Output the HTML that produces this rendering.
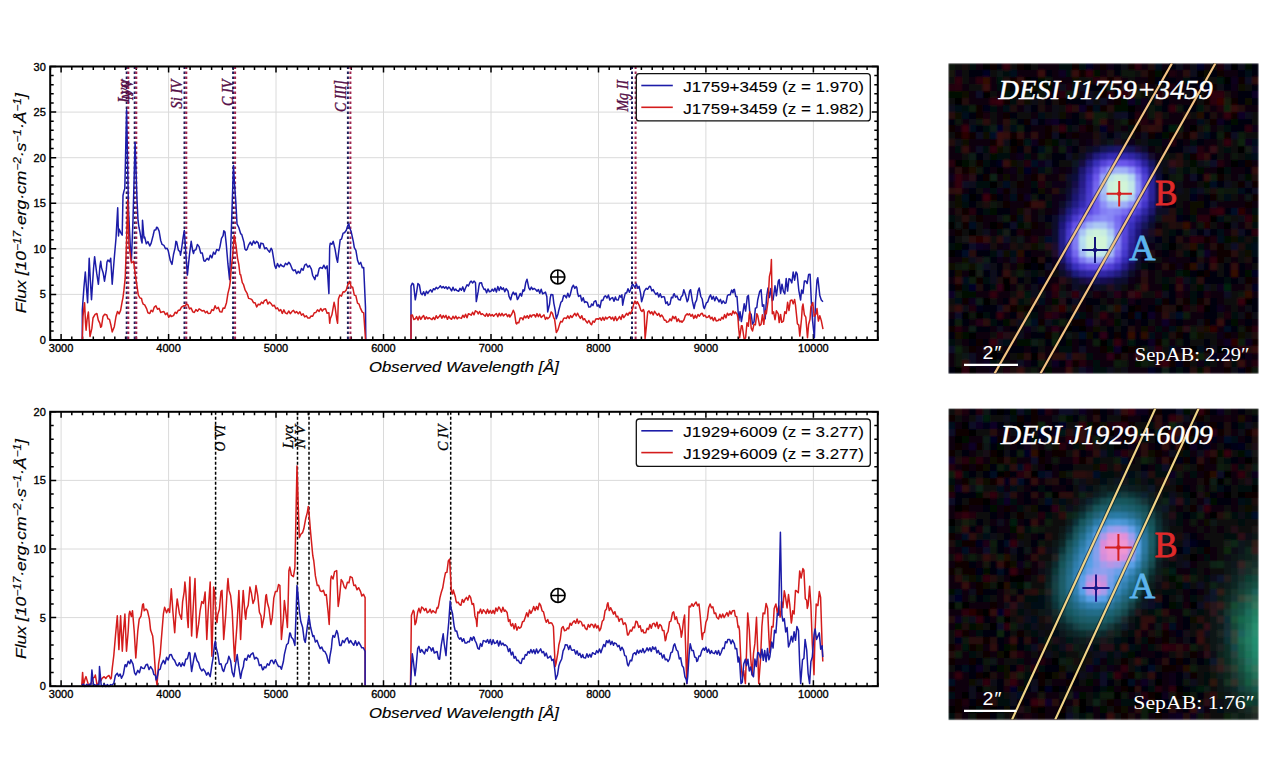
<!DOCTYPE html>
<html><head><meta charset="utf-8"><style>html,body{margin:0;padding:0;background:#fff;width:1280px;height:769px;overflow:hidden}svg{display:block}</style></head><body>
<svg width="1280" height="769" viewBox="0 0 1280 769">
<style>
.tl{font-family:"Liberation Sans",sans-serif;font-size:11px;fill:#000;stroke:#000;stroke-width:0.35px}
.lg{font-family:"Liberation Sans",sans-serif;font-size:14.7px;fill:#000;stroke:#000;stroke-width:0.1px}
.al{font-family:"Liberation Sans",sans-serif;font-size:14.7px;font-style:italic;fill:#000;stroke:#000;stroke-width:0.15px}
.ln{font-family:"Liberation Serif",serif;font-size:16px;font-style:italic;stroke:#560f48;stroke-width:0.35px}
.lb{font-family:"Liberation Serif",serif;font-size:14.5px;font-style:italic;fill:#000;stroke:#000;stroke-width:0.3px}
.it{font-family:"Liberation Serif",serif;font-style:italic;fill:#fff;stroke:#fff;stroke-width:0.4px}
.sf{font-family:"Liberation Serif",serif;fill:#fff}
</style>
<rect width="1280" height="769" fill="#fff"/>
<path d="M61.1 66.5V340.0M168.6 66.5V340.0M276 66.5V340.0M383.5 66.5V340.0M491 66.5V340.0M598.5 66.5V340.0M705.9 66.5V340.0M813.4 66.5V340.0M50.2 294.4H877.8M50.2 248.8H877.8M50.2 203.2H877.8M50.2 157.7H877.8M50.2 112.1H877.8" stroke="#dadada" stroke-width="1" fill="none"/>
<path d="M50.4 340.0v-3.5M50.4 66.5v3.5M61.1 340.0v-6M61.1 66.5v6M71.8 340.0v-3.5M71.8 66.5v3.5M82.6 340.0v-3.5M82.6 66.5v3.5M93.3 340.0v-3.5M93.3 66.5v3.5M104.1 340.0v-3.5M104.1 66.5v3.5M114.8 340.0v-3.5M114.8 66.5v3.5M125.6 340.0v-3.5M125.6 66.5v3.5M136.3 340.0v-3.5M136.3 66.5v3.5M147.1 340.0v-3.5M147.1 66.5v3.5M157.8 340.0v-3.5M157.8 66.5v3.5M168.6 340.0v-6M168.6 66.5v6M179.3 340.0v-3.5M179.3 66.5v3.5M190.1 340.0v-3.5M190.1 66.5v3.5M200.8 340.0v-3.5M200.8 66.5v3.5M211.6 340.0v-3.5M211.6 66.5v3.5M222.3 340.0v-3.5M222.3 66.5v3.5M233.1 340.0v-3.5M233.1 66.5v3.5M243.8 340.0v-3.5M243.8 66.5v3.5M254.5 340.0v-3.5M254.5 66.5v3.5M265.3 340.0v-3.5M265.3 66.5v3.5M276 340.0v-6M276 66.5v6M286.8 340.0v-3.5M286.8 66.5v3.5M297.5 340.0v-3.5M297.5 66.5v3.5M308.3 340.0v-3.5M308.3 66.5v3.5M319 340.0v-3.5M319 66.5v3.5M329.8 340.0v-3.5M329.8 66.5v3.5M340.5 340.0v-3.5M340.5 66.5v3.5M351.3 340.0v-3.5M351.3 66.5v3.5M362 340.0v-3.5M362 66.5v3.5M372.8 340.0v-3.5M372.8 66.5v3.5M383.5 340.0v-6M383.5 66.5v6M394.3 340.0v-3.5M394.3 66.5v3.5M405 340.0v-3.5M405 66.5v3.5M415.8 340.0v-3.5M415.8 66.5v3.5M426.5 340.0v-3.5M426.5 66.5v3.5M437.2 340.0v-3.5M437.2 66.5v3.5M448 340.0v-3.5M448 66.5v3.5M458.7 340.0v-3.5M458.7 66.5v3.5M469.5 340.0v-3.5M469.5 66.5v3.5M480.2 340.0v-3.5M480.2 66.5v3.5M491 340.0v-6M491 66.5v6M501.7 340.0v-3.5M501.7 66.5v3.5M512.5 340.0v-3.5M512.5 66.5v3.5M523.2 340.0v-3.5M523.2 66.5v3.5M534 340.0v-3.5M534 66.5v3.5M544.7 340.0v-3.5M544.7 66.5v3.5M555.5 340.0v-3.5M555.5 66.5v3.5M566.2 340.0v-3.5M566.2 66.5v3.5M577 340.0v-3.5M577 66.5v3.5M587.7 340.0v-3.5M587.7 66.5v3.5M598.5 340.0v-6M598.5 66.5v6M609.2 340.0v-3.5M609.2 66.5v3.5M619.9 340.0v-3.5M619.9 66.5v3.5M630.7 340.0v-3.5M630.7 66.5v3.5M641.4 340.0v-3.5M641.4 66.5v3.5M652.2 340.0v-3.5M652.2 66.5v3.5M662.9 340.0v-3.5M662.9 66.5v3.5M673.7 340.0v-3.5M673.7 66.5v3.5M684.4 340.0v-3.5M684.4 66.5v3.5M695.2 340.0v-3.5M695.2 66.5v3.5M705.9 340.0v-6M705.9 66.5v6M716.7 340.0v-3.5M716.7 66.5v3.5M727.4 340.0v-3.5M727.4 66.5v3.5M738.2 340.0v-3.5M738.2 66.5v3.5M748.9 340.0v-3.5M748.9 66.5v3.5M759.7 340.0v-3.5M759.7 66.5v3.5M770.4 340.0v-3.5M770.4 66.5v3.5M781.1 340.0v-3.5M781.1 66.5v3.5M791.9 340.0v-3.5M791.9 66.5v3.5M802.6 340.0v-3.5M802.6 66.5v3.5M813.4 340.0v-6M813.4 66.5v6M824.1 340.0v-3.5M824.1 66.5v3.5M834.9 340.0v-3.5M834.9 66.5v3.5M845.6 340.0v-3.5M845.6 66.5v3.5M856.4 340.0v-3.5M856.4 66.5v3.5M867.1 340.0v-3.5M867.1 66.5v3.5M877.9 340.0v-3.5M877.9 66.5v3.5M50.2 340h6M877.8 340h-6M50.2 330.9h3.5M877.8 330.9h-3.5M50.2 321.8h3.5M877.8 321.8h-3.5M50.2 312.6h3.5M877.8 312.6h-3.5M50.2 303.5h3.5M877.8 303.5h-3.5M50.2 294.4h6M877.8 294.4h-6M50.2 285.3h3.5M877.8 285.3h-3.5M50.2 276.2h3.5M877.8 276.2h-3.5M50.2 267.1h3.5M877.8 267.1h-3.5M50.2 257.9h3.5M877.8 257.9h-3.5M50.2 248.8h6M877.8 248.8h-6M50.2 239.7h3.5M877.8 239.7h-3.5M50.2 230.6h3.5M877.8 230.6h-3.5M50.2 221.5h3.5M877.8 221.5h-3.5M50.2 212.4h3.5M877.8 212.4h-3.5M50.2 203.2h6M877.8 203.2h-6M50.2 194.1h3.5M877.8 194.1h-3.5M50.2 185h3.5M877.8 185h-3.5M50.2 175.9h3.5M877.8 175.9h-3.5M50.2 166.8h3.5M877.8 166.8h-3.5M50.2 157.7h6M877.8 157.7h-6M50.2 148.5h3.5M877.8 148.5h-3.5M50.2 139.4h3.5M877.8 139.4h-3.5M50.2 130.3h3.5M877.8 130.3h-3.5M50.2 121.2h3.5M877.8 121.2h-3.5M50.2 112.1h6M877.8 112.1h-6M50.2 103h3.5M877.8 103h-3.5M50.2 93.8h3.5M877.8 93.8h-3.5M50.2 84.7h3.5M877.8 84.7h-3.5M50.2 75.6h3.5M877.8 75.6h-3.5M50.2 66.5h6M877.8 66.5h-6" stroke="#000" stroke-width="1.5" fill="none"/>
<text x="61.1" y="352" text-anchor="middle" class="tl">3000</text>
<text x="168.6" y="352" text-anchor="middle" class="tl">4000</text>
<text x="276" y="352" text-anchor="middle" class="tl">5000</text>
<text x="383.5" y="352" text-anchor="middle" class="tl">6000</text>
<text x="491" y="352" text-anchor="middle" class="tl">7000</text>
<text x="598.5" y="352" text-anchor="middle" class="tl">8000</text>
<text x="705.9" y="352" text-anchor="middle" class="tl">9000</text>
<text x="813.4" y="352" text-anchor="middle" class="tl">10000</text>
<text x="45.8" y="344" text-anchor="end" class="tl">0</text>
<text x="45.8" y="298.4" text-anchor="end" class="tl">5</text>
<text x="45.8" y="252.8" text-anchor="end" class="tl">10</text>
<text x="45.8" y="207.2" text-anchor="end" class="tl">15</text>
<text x="45.8" y="161.7" text-anchor="end" class="tl">20</text>
<text x="45.8" y="116.1" text-anchor="end" class="tl">25</text>
<text x="45.8" y="70.5" text-anchor="end" class="tl">30</text>
<path d="M61.1 411.8V686.2M168.6 411.8V686.2M276 411.8V686.2M383.5 411.8V686.2M491 411.8V686.2M598.5 411.8V686.2M705.9 411.8V686.2M813.4 411.8V686.2M50.2 617.6H877.8M50.2 549H877.8M50.2 480.4H877.8" stroke="#dadada" stroke-width="1" fill="none"/>
<path d="M50.4 686.2v-3.5M50.4 411.8v3.5M61.1 686.2v-6M61.1 411.8v6M71.8 686.2v-3.5M71.8 411.8v3.5M82.6 686.2v-3.5M82.6 411.8v3.5M93.3 686.2v-3.5M93.3 411.8v3.5M104.1 686.2v-3.5M104.1 411.8v3.5M114.8 686.2v-3.5M114.8 411.8v3.5M125.6 686.2v-3.5M125.6 411.8v3.5M136.3 686.2v-3.5M136.3 411.8v3.5M147.1 686.2v-3.5M147.1 411.8v3.5M157.8 686.2v-3.5M157.8 411.8v3.5M168.6 686.2v-6M168.6 411.8v6M179.3 686.2v-3.5M179.3 411.8v3.5M190.1 686.2v-3.5M190.1 411.8v3.5M200.8 686.2v-3.5M200.8 411.8v3.5M211.6 686.2v-3.5M211.6 411.8v3.5M222.3 686.2v-3.5M222.3 411.8v3.5M233.1 686.2v-3.5M233.1 411.8v3.5M243.8 686.2v-3.5M243.8 411.8v3.5M254.5 686.2v-3.5M254.5 411.8v3.5M265.3 686.2v-3.5M265.3 411.8v3.5M276 686.2v-6M276 411.8v6M286.8 686.2v-3.5M286.8 411.8v3.5M297.5 686.2v-3.5M297.5 411.8v3.5M308.3 686.2v-3.5M308.3 411.8v3.5M319 686.2v-3.5M319 411.8v3.5M329.8 686.2v-3.5M329.8 411.8v3.5M340.5 686.2v-3.5M340.5 411.8v3.5M351.3 686.2v-3.5M351.3 411.8v3.5M362 686.2v-3.5M362 411.8v3.5M372.8 686.2v-3.5M372.8 411.8v3.5M383.5 686.2v-6M383.5 411.8v6M394.3 686.2v-3.5M394.3 411.8v3.5M405 686.2v-3.5M405 411.8v3.5M415.8 686.2v-3.5M415.8 411.8v3.5M426.5 686.2v-3.5M426.5 411.8v3.5M437.2 686.2v-3.5M437.2 411.8v3.5M448 686.2v-3.5M448 411.8v3.5M458.7 686.2v-3.5M458.7 411.8v3.5M469.5 686.2v-3.5M469.5 411.8v3.5M480.2 686.2v-3.5M480.2 411.8v3.5M491 686.2v-6M491 411.8v6M501.7 686.2v-3.5M501.7 411.8v3.5M512.5 686.2v-3.5M512.5 411.8v3.5M523.2 686.2v-3.5M523.2 411.8v3.5M534 686.2v-3.5M534 411.8v3.5M544.7 686.2v-3.5M544.7 411.8v3.5M555.5 686.2v-3.5M555.5 411.8v3.5M566.2 686.2v-3.5M566.2 411.8v3.5M577 686.2v-3.5M577 411.8v3.5M587.7 686.2v-3.5M587.7 411.8v3.5M598.5 686.2v-6M598.5 411.8v6M609.2 686.2v-3.5M609.2 411.8v3.5M619.9 686.2v-3.5M619.9 411.8v3.5M630.7 686.2v-3.5M630.7 411.8v3.5M641.4 686.2v-3.5M641.4 411.8v3.5M652.2 686.2v-3.5M652.2 411.8v3.5M662.9 686.2v-3.5M662.9 411.8v3.5M673.7 686.2v-3.5M673.7 411.8v3.5M684.4 686.2v-3.5M684.4 411.8v3.5M695.2 686.2v-3.5M695.2 411.8v3.5M705.9 686.2v-6M705.9 411.8v6M716.7 686.2v-3.5M716.7 411.8v3.5M727.4 686.2v-3.5M727.4 411.8v3.5M738.2 686.2v-3.5M738.2 411.8v3.5M748.9 686.2v-3.5M748.9 411.8v3.5M759.7 686.2v-3.5M759.7 411.8v3.5M770.4 686.2v-3.5M770.4 411.8v3.5M781.1 686.2v-3.5M781.1 411.8v3.5M791.9 686.2v-3.5M791.9 411.8v3.5M802.6 686.2v-3.5M802.6 411.8v3.5M813.4 686.2v-6M813.4 411.8v6M824.1 686.2v-3.5M824.1 411.8v3.5M834.9 686.2v-3.5M834.9 411.8v3.5M845.6 686.2v-3.5M845.6 411.8v3.5M856.4 686.2v-3.5M856.4 411.8v3.5M867.1 686.2v-3.5M867.1 411.8v3.5M877.9 686.2v-3.5M877.9 411.8v3.5M50.2 686.2h6M877.8 686.2h-6M50.2 672.5h3.5M877.8 672.5h-3.5M50.2 658.8h3.5M877.8 658.8h-3.5M50.2 645h3.5M877.8 645h-3.5M50.2 631.3h3.5M877.8 631.3h-3.5M50.2 617.6h6M877.8 617.6h-6M50.2 603.9h3.5M877.8 603.9h-3.5M50.2 590.2h3.5M877.8 590.2h-3.5M50.2 576.4h3.5M877.8 576.4h-3.5M50.2 562.7h3.5M877.8 562.7h-3.5M50.2 549h6M877.8 549h-6M50.2 535.3h3.5M877.8 535.3h-3.5M50.2 521.6h3.5M877.8 521.6h-3.5M50.2 507.8h3.5M877.8 507.8h-3.5M50.2 494.1h3.5M877.8 494.1h-3.5M50.2 480.4h6M877.8 480.4h-6M50.2 466.7h3.5M877.8 466.7h-3.5M50.2 453h3.5M877.8 453h-3.5M50.2 439.2h3.5M877.8 439.2h-3.5M50.2 425.5h3.5M877.8 425.5h-3.5M50.2 411.8h6M877.8 411.8h-6" stroke="#000" stroke-width="1.5" fill="none"/>
<text x="61.1" y="698.2" text-anchor="middle" class="tl">3000</text>
<text x="168.6" y="698.2" text-anchor="middle" class="tl">4000</text>
<text x="276" y="698.2" text-anchor="middle" class="tl">5000</text>
<text x="383.5" y="698.2" text-anchor="middle" class="tl">6000</text>
<text x="491" y="698.2" text-anchor="middle" class="tl">7000</text>
<text x="598.5" y="698.2" text-anchor="middle" class="tl">8000</text>
<text x="705.9" y="698.2" text-anchor="middle" class="tl">9000</text>
<text x="813.4" y="698.2" text-anchor="middle" class="tl">10000</text>
<text x="45.8" y="690.2" text-anchor="end" class="tl">0</text>
<text x="45.8" y="621.6" text-anchor="end" class="tl">5</text>
<text x="45.8" y="553" text-anchor="end" class="tl">10</text>
<text x="45.8" y="484.4" text-anchor="end" class="tl">15</text>
<text x="45.8" y="415.8" text-anchor="end" class="tl">20</text>
<path d="M126.7 66.5V340.0" stroke="#1e1e5a" stroke-width="2" stroke-dasharray="2.5 2.5" fill="none"/>
<path d="M128.3 66.5V340.0" stroke="#a0244e" stroke-width="2" stroke-dasharray="2.5 2.5" fill="none"/>
<path d="M134.7 66.5V340.0" stroke="#1e1e5a" stroke-width="2" stroke-dasharray="2.5 2.5" fill="none"/>
<path d="M136.3 66.5V340.0" stroke="#a0244e" stroke-width="2" stroke-dasharray="2.5 2.5" fill="none"/>
<path d="M184.5 66.5V340.0" stroke="#1e1e5a" stroke-width="2" stroke-dasharray="2.5 2.5" fill="none"/>
<path d="M186.3 66.5V340.0" stroke="#a0244e" stroke-width="2" stroke-dasharray="2.5 2.5" fill="none"/>
<path d="M233.1 66.5V340.0" stroke="#1e1e5a" stroke-width="2" stroke-dasharray="2.5 2.5" fill="none"/>
<path d="M235.1 66.5V340.0" stroke="#a0244e" stroke-width="2" stroke-dasharray="2.5 2.5" fill="none"/>
<path d="M347.9 66.5V340.0" stroke="#1e1e5a" stroke-width="2" stroke-dasharray="2.5 2.5" fill="none"/>
<path d="M350.4 66.5V340.0" stroke="#a0244e" stroke-width="2" stroke-dasharray="2.5 2.5" fill="none"/>
<path d="M632 66.5V340.0" stroke="#1e1e5a" stroke-width="2" stroke-dasharray="2.5 2.5" fill="none"/>
<path d="M635.6 66.5V340.0" stroke="#a0244e" stroke-width="2" stroke-dasharray="2.5 2.5" fill="none"/>
<path d="M215.6 411.8V686.2" stroke="#000" stroke-width="1.5" stroke-dasharray="3 2" fill="none"/>
<path d="M297.5 411.8V686.2" stroke="#000" stroke-width="1.5" stroke-dasharray="3 2" fill="none"/>
<path d="M309 411.8V686.2" stroke="#000" stroke-width="1.5" stroke-dasharray="3 2" fill="none"/>
<path d="M450.7 411.8V686.2" stroke="#000" stroke-width="1.5" stroke-dasharray="3 2" fill="none"/>
<path d="M82.3 339.5 82.3 310.4 83.9 287.9 85.3 272.0 87.6 302.7 89.2 258.2 90.3 279.5 91.5 299.7 93.5 269.0 94.6 256.7 96.7 273.2 98.4 284.3 99.9 266.7 100.7 261.3 101.5 267.6 103.1 272.7 104.5 281.2 106.3 269.9 107.0 262.0 107.9 260.0 109.5 261.7 110.7 258.2 112.2 284.3 114.3 257.7 116.0 238.3 117.7 207.8 118.5 236.0 119.1 229.1 120.7 232.6 122.2 235.2 123.0 195.5 123.9 191.4 124.8 188.4 125.5 158.7 126.6 109.7 128.5 210.0 130.5 250.0 131.4 261.3 133.0 220.0 135.1 142.4 137.0 200.0 138.0 220.2 139.0 227.5 139.9 231.6 141.5 241.0 142.1 242.9 142.5 220.2 144.0 238.0 144.7 237.1 146.3 243.7 147.9 241.6 149.8 246.0 151.1 243.4 153.0 236.0 154.3 230.3 155.9 229.7 156.6 227.3 157.5 227.5 159.1 231.1 160.7 240.5 162.1 244.4 163.9 245.3 165.5 248.7 167.1 248.2 168.2 250.6 170.3 260.5 172.0 264.4 173.5 254.5 175.1 247.8 175.9 241.3 176.7 241.8 178.3 249.9 179.9 251.7 180.5 255.2 181.5 249.5 183.1 237.6 184.3 230.6 186.3 260.4 187.4 275.1 189.5 254.4 191.2 241.3 192.7 250.8 193.5 253.6 194.3 250.5 195.9 249.7 197.4 244.4 199.1 246.6 200.7 253.0 202.3 253.1 203.9 260.9 205.0 261.3 207.1 258.4 208.7 260.0 210.3 255.2 211.9 257.9 213.5 252.1 214.2 253.6 215.1 254.2 216.7 249.4 218.8 250.6 219.9 247.1 221.5 238.4 223.1 235.7 223.8 230.8 225.0 232.1 226.3 244.6 227.9 263.7 229.6 279.7 231.5 225.0 232.7 188.5 233.5 165.4 234.3 180.7 235.9 203.3 237.0 223.8 238.8 227.5 240.7 233.8 241.7 234.4 243.9 242.1 244.9 249.0 246.1 250.1 247.1 249.3 248.7 244.8 250.3 242.1 251.9 245.2 253.5 241.0 255.1 243.6 256.6 241.4 258.3 243.1 259.2 247.5 259.9 248.2 260.9 243.1 263.1 243.7 264.7 248.8 266.3 247.7 267.9 250.1 269.5 252.1 271.1 248.2 272.2 250.1 274.8 265.8 275.9 268.4 277.5 263.5 279.1 267.0 280.7 264.4 281.8 265.8 283.9 266.7 285.5 263.3 287.1 264.7 288.8 262.3 290.3 264.3 292.3 269.2 293.5 270.7 295.1 269.9 296.7 273.6 298.3 271.3 299.2 272.7 299.9 273.0 301.5 268.4 303.1 270.2 304.7 265.1 306.2 264.0 307.9 267.2 309.5 265.6 311.4 269.2 312.7 275.5 314.9 279.7 315.9 275.2 317.5 276.0 319.1 268.8 320.2 267.5 322.3 268.4 323.9 265.2 325.5 268.6 327.1 265.8 328.9 293.6 329.7 246.6 330.3 243.2 331.9 244.3 333.2 241.4 335.1 249.4 336.7 259.1 337.6 262.3 338.3 255.1 340.2 239.6 341.5 239.1 343.1 233.1 344.5 232.7 346.3 230.3 347.9 225.2 348.9 223.9 349.5 227.8 351.1 231.3 353.3 241.4 354.3 247.6 355.9 250.4 357.6 260.5 359.1 264.2 360.7 262.4 362.3 267.7 363.7 267.5 365.5 307.6 365.8 339.5" stroke="#1c1ca8" stroke-width="1.5" fill="none" stroke-linejoin="round"/>
<path d="M411.0 339.5 411.0 286.1 412.4 283.2 413.6 284.4 415.3 299.8 416.6 292.4 417.9 283.5 419.4 285.0 420.8 293.2 422.2 294.7 423.6 291.7 425.0 295.5 426.4 291.2 427.8 293.4 429.1 291.3 430.6 289.8 432.0 292.0 433.4 288.7 434.8 289.7 436.2 287.3 437.6 288.7 439.4 287.0 440.4 285.8 441.8 287.9 443.2 286.6 444.6 288.3 446.0 286.7 447.4 289.0 448.8 287.0 449.7 287.8 451.6 290.9 453.0 287.2 454.4 290.5 455.8 289.0 456.6 290.4 458.6 291.3 460.0 288.4 461.4 290.3 462.8 286.9 464.2 291.5 465.2 288.7 467.0 284.7 468.4 286.0 470.3 281.8 471.2 281.1 472.6 283.0 474.0 281.1 475.5 282.7 476.3 301.6 478.2 291.4 478.9 286.1 479.6 282.9 481.5 282.7 482.4 286.0 484.1 289.5 485.2 289.1 486.6 292.7 488.0 288.9 489.4 291.8 490.9 291.3 492.2 289.2 493.6 291.1 495.0 288.2 496.4 292.0 497.8 286.6 499.2 290.5 500.6 286.9 501.3 287.8 502.0 289.5 503.4 287.9 504.8 291.8 506.2 288.6 508.1 291.3 509.0 296.4 510.7 299.8 511.8 295.2 513.3 292.1 514.6 294.7 516.0 293.0 517.4 299.5 518.4 298.1 520.2 293.4 521.6 296.1 523.0 289.8 523.6 291.3 524.4 290.5 525.8 282.4 527.0 279.2 528.8 287.8 530.0 289.8 531.4 287.1 532.8 289.5 534.2 288.4 535.6 289.5 537.0 291.3 538.4 289.5 539.8 293.2 541.2 289.3 542.6 293.9 544.2 293.0 545.4 292.1 546.8 296.4 547.7 311.9 549.6 304.0 550.2 298.1 551.0 294.5 552.8 294.7 553.8 303.1 554.5 306.7 555.2 310.3 556.3 318.8 558.0 314.0 558.8 310.2 560.8 302.6 561.4 301.6 562.2 301.2 563.6 295.8 564.8 295.5 566.4 297.9 567.8 293.2 569.2 297.1 570.0 295.5 572.0 287.5 573.4 285.2 574.8 288.4 576.2 286.5 576.9 287.8 577.6 293.3 578.6 296.4 580.4 295.3 581.8 301.0 583.2 297.8 584.6 302.5 585.5 301.6 587.4 302.5 588.8 307.1 590.6 306.7 591.6 303.9 593.0 305.4 594.1 301.6 595.8 300.8 597.2 306.1 598.6 304.7 599.2 306.7 600.0 307.6 601.4 300.3 602.8 300.6 604.4 296.4 605.6 295.8 607.0 298.0 608.4 295.0 609.8 300.0 611.3 298.1 612.6 297.6 614.0 301.3 615.4 296.9 616.4 299.8 618.2 300.1 619.6 295.6 621.0 297.3 621.9 294.8 622.7 305.2 623.8 299.2 625.3 293.1 626.6 292.9 628.0 288.8 629.4 292.3 630.5 289.7 632.2 284.5 633.0 284.5 635.0 287.6 636.4 284.0 637.8 288.3 639.1 286.3 640.6 293.3 641.6 301.7 643.4 295.6 644.2 291.4 646.2 288.3 647.6 289.3 649.4 286.3 650.4 286.4 651.8 290.9 653.2 289.6 654.5 292.3 656.0 294.5 657.4 292.8 658.8 296.9 660.2 293.8 661.6 297.4 663.1 296.6 664.4 297.0 665.8 303.5 667.2 301.9 668.3 305.2 670.0 304.2 671.4 297.3 672.8 297.7 673.4 294.8 674.2 293.7 675.6 297.1 677.0 296.0 678.4 299.6 680.3 300.0 681.2 296.7 682.6 295.4 683.8 289.7 685.4 294.4 687.2 301.7 688.2 299.7 689.6 291.2 690.6 289.7 692.4 301.2 694.1 308.6 695.2 302.9 696.6 300.2 698.0 291.1 699.2 288.0 700.8 296.5 702.2 299.0 703.6 307.2 704.4 308.6 706.4 302.8 707.8 301.8 709.5 296.6 710.6 294.9 712.0 299.2 713.4 296.4 714.8 300.8 716.2 296.8 718.1 300.0 719.0 302.0 720.4 299.3 721.8 303.5 723.2 300.9 725.0 303.4 726.0 302.9 727.4 295.8 728.4 294.8 730.2 294.7 731.6 290.1 733.0 292.8 733.6 289.7 734.4 289.3 735.8 296.5 737.0 296.6 738.8 320.6 740.0 311.7 741.4 321.6 742.2 317.2 744.2 303.8 745.6 311.1 747.3 296.6 748.4 295.4 749.8 312.6 751.2 314.5 752.5 324.1 754.0 321.8 755.4 308.2 756.8 307.6 757.7 300.0 759.6 291.8 761.1 289.7 762.4 306.2 763.8 304.8 764.5 317.2 765.2 318.7 766.6 296.8 768.0 288.0 769.4 297.6 770.8 288.6 772.2 300.7 773.1 300.0 775.0 285.8 776.4 295.8 778.3 281.1 779.2 279.6 780.6 293.5 782.0 284.2 783.4 291.4 784.8 293.9 786.2 278.6 787.6 291.1 789.0 278.7 790.3 279.4 791.8 282.9 793.2 272.1 794.6 280.2 796.0 271.9 797.2 274.2 798.8 290.3 800.6 300.0 801.6 290.0 803.0 293.4 804.4 280.9 805.8 281.1 807.2 283.5 808.6 274.5 810.1 274.2 811.4 303.0 812.5 320.0 814.4 337.8 815.5 301.7 817.0 280.3 817.8 277.7 819.8 295.5 821.3 300.0 823.0 301.7" stroke="#1c1ca8" stroke-width="1.5" fill="none" stroke-linejoin="round"/>
<path d="M82.3 339.5 83.0 316.5 83.9 307.7 84.6 302.7 85.5 322.7 86.1 330.3 87.1 319.4 88.4 312.0 90.0 336.5 91.9 328.2 93.0 318.0 95.1 314.4 96.9 313.5 98.3 320.2 99.9 323.4 100.7 327.3 101.5 326.5 103.0 316.5 104.7 314.2 106.8 315.0 107.9 318.8 109.5 319.4 110.7 324.2 112.2 331.9 114.3 326.7 116.0 316.5 117.5 311.5 119.1 313.9 120.6 310.4 122.3 300.9 122.9 298.1 123.9 290.4 125.2 278.2 126.6 240.0 127.7 200.0 129.0 245.0 130.3 254.0 131.4 262.8 133.7 261.3 135.1 273.3 136.0 279.7 136.7 284.0 138.3 295.0 139.9 297.9 141.5 298.5 142.1 301.2 143.1 304.1 144.7 304.9 146.7 308.9 147.9 312.8 149.8 313.5 151.1 310.3 152.7 311.7 154.3 307.1 155.9 305.8 157.5 309.3 159.1 308.3 160.7 312.5 162.1 311.9 163.9 311.5 165.5 314.7 167.1 312.9 168.7 317.3 170.3 315.0 171.3 316.5 173.5 315.6 175.1 312.2 176.7 313.4 177.4 311.9 178.3 310.3 179.9 310.2 181.5 307.2 183.5 305.8 184.7 306.1 186.6 304.3 187.9 304.8 189.5 308.9 191.1 308.0 192.8 311.9 194.3 312.5 195.9 309.6 197.5 311.3 199.1 308.9 200.4 309.6 202.3 311.1 203.9 310.4 205.5 312.8 207.1 311.2 208.1 313.5 210.3 313.2 211.9 309.6 213.5 310.5 215.1 305.8 215.8 307.3 216.7 308.7 218.3 307.3 219.9 311.7 221.9 311.9 223.1 308.1 224.7 308.2 226.5 302.7 227.9 293.6 229.5 287.1 230.3 281.2 231.1 270.1 232.7 255.1 234.2 235.2 235.9 244.9 237.5 258.1 238.8 264.4 240.0 274.5 240.7 274.8 242.3 282.7 243.4 284.3 245.2 290.2 247.1 293.3 248.0 296.6 248.7 298.4 250.5 298.9 251.9 299.7 253.5 302.7 255.1 302.8 256.7 306.9 257.4 305.8 258.3 304.2 259.9 304.8 261.5 302.1 263.1 303.5 264.4 300.6 266.3 299.6 267.9 304.0 269.5 302.1 271.4 304.1 272.7 306.0 274.3 305.3 275.9 308.8 277.5 307.9 278.3 309.3 279.1 311.0 280.7 309.5 282.3 313.4 283.9 309.9 285.3 312.8 287.1 313.8 288.7 311.0 290.3 313.7 292.3 311.1 293.5 310.3 295.1 312.9 296.7 311.6 298.3 313.8 299.2 312.8 299.9 311.8 301.5 315.3 303.1 313.8 304.7 316.9 306.3 315.8 307.9 318.1 309.7 318.0 311.1 315.9 312.7 316.3 314.3 312.8 315.9 312.5 316.7 311.1 317.5 309.8 319.1 311.4 320.7 308.5 322.3 311.1 323.6 309.3 325.5 308.8 327.1 313.2 328.9 312.8 329.7 323.3 330.3 318.7 331.9 314.8 334.1 302.3 335.1 307.1 336.7 319.0 337.6 323.3 338.4 298.9 339.9 295.0 341.5 296.1 343.1 291.8 344.5 291.9 346.3 289.9 347.9 284.5 349.8 281.4 351.1 286.8 352.7 287.2 354.3 295.1 355.0 295.4 355.9 295.8 357.5 303.2 359.1 304.2 360.2 307.6 362.3 312.1 363.7 312.8 365.5 339.5" stroke="#d41c1c" stroke-width="1.5" fill="none" stroke-linejoin="round"/>
<path d="M411.0 339.5 411.0 315.3 412.4 315.1 413.8 319.5 415.3 318.8 416.6 316.6 418.0 320.0 419.4 316.2 420.8 319.4 422.2 317.0 423.6 315.6 425.0 319.3 426.4 316.9 427.8 318.8 429.2 317.7 430.8 318.8 432.0 319.6 433.4 317.3 434.8 319.5 436.2 315.7 437.6 318.3 439.4 316.2 440.4 314.8 441.8 318.3 443.2 315.5 444.6 317.6 446.0 315.4 447.4 319.3 448.8 316.4 449.7 317.9 451.6 319.3 453.0 316.3 454.4 318.6 455.8 316.1 457.2 318.9 458.6 317.2 460.0 317.9 461.4 318.4 462.8 315.2 464.2 317.4 465.6 314.3 467.0 317.7 468.4 313.8 470.3 314.5 471.2 315.3 472.6 312.3 474.0 314.8 475.4 310.8 477.2 311.9 478.2 314.0 479.6 311.5 481.0 314.5 482.4 313.7 484.1 315.3 485.2 316.3 486.6 313.5 488.0 316.4 489.4 313.8 490.8 315.9 492.2 314.6 493.6 316.3 494.4 315.3 496.4 313.5 497.8 316.7 499.2 313.3 500.6 315.8 502.0 313.3 503.4 315.9 504.7 314.5 506.2 313.9 507.6 316.7 509.0 314.6 509.8 317.0 511.8 314.0 513.3 310.2 514.6 313.3 516.0 323.2 516.7 323.9 517.4 322.5 518.8 322.8 520.2 318.0 521.9 317.9 523.0 319.8 524.4 316.0 525.8 317.9 527.2 315.7 528.6 318.3 530.0 315.0 531.4 317.0 532.2 315.3 534.2 314.7 535.6 317.0 537.0 313.6 538.4 316.6 539.8 314.1 541.2 317.5 542.5 316.2 544.0 314.9 545.4 319.4 546.8 317.4 547.7 318.8 549.6 317.0 551.1 311.9 552.4 313.2 553.8 318.0 554.5 318.8 555.2 323.6 556.3 332.5 558.0 329.6 559.7 323.9 560.8 321.3 562.2 322.0 563.6 318.5 564.8 317.9 566.4 318.5 567.8 315.9 569.2 318.5 570.6 315.6 572.0 317.5 573.4 315.3 574.8 313.4 576.2 316.0 577.6 313.2 578.6 315.3 580.4 318.4 581.8 315.7 583.2 319.8 584.6 318.7 585.5 320.5 587.4 323.0 588.8 320.5 590.6 323.9 591.6 324.7 593.0 321.0 594.4 322.3 595.8 319.1 597.5 318.8 598.6 319.3 600.0 317.9 601.4 320.4 602.8 317.3 604.2 320.3 605.6 317.1 607.0 319.0 607.8 317.9 609.8 316.7 611.2 319.1 612.6 317.2 614.0 320.6 615.4 316.6 616.8 320.6 618.1 318.8 619.6 316.5 621.0 319.5 622.4 314.7 623.8 317.6 625.3 315.5 626.6 313.3 628.0 315.2 629.4 312.4 630.5 313.8 632.2 309.9 633.9 303.4 635.0 301.1 636.4 303.8 637.3 301.7 639.2 305.3 640.8 310.3 642.0 311.5 643.4 309.5 644.2 312.0 645.1 338.7 646.2 328.2 647.7 312.0 649.0 310.9 650.4 313.7 651.8 311.8 653.2 314.9 654.6 311.3 656.3 313.8 657.4 315.3 658.8 313.4 660.2 316.8 661.6 315.0 663.1 317.2 664.4 320.3 665.8 320.3 666.6 322.3 668.6 321.6 670.0 318.9 671.4 320.7 672.8 316.3 673.4 317.2 674.2 318.6 675.6 316.5 677.0 321.5 678.4 318.9 679.8 321.8 681.2 321.0 682.0 322.3 684.0 319.7 685.4 315.6 687.2 313.8 688.2 314.9 689.6 313.8 691.0 316.3 692.4 314.4 693.8 318.4 695.2 315.2 695.8 317.2 696.6 317.9 698.0 314.5 699.4 316.2 700.9 313.8 702.2 313.3 703.6 316.2 705.0 315.2 706.4 317.5 707.8 317.2 709.2 315.5 710.6 318.9 712.0 317.2 713.4 320.6 714.8 317.5 716.2 320.9 718.1 320.6 719.0 319.1 720.4 320.2 721.8 317.2 723.2 318.9 724.6 314.6 726.0 317.9 726.7 315.5 727.4 313.2 728.8 315.2 730.2 313.5 731.6 315.2 733.0 310.9 734.4 313.7 735.3 312.0 737.2 314.3 737.9 317.2 738.6 327.4 739.6 337.8 741.4 325.7 742.2 325.8 744.2 339.5 745.6 337.8 747.0 322.8 748.4 326.2 749.1 315.5 749.8 311.8 751.2 328.1 752.5 331.0 754.0 324.2 755.4 324.9 756.8 313.7 757.7 315.5 759.6 325.6 761.1 324.1 762.4 314.8 763.8 324.3 765.2 310.8 766.3 313.8 768.0 301.5 769.4 276.7 770.8 270.6 771.4 259.6 772.3 313.8 773.6 311.8 775.0 319.7 776.4 310.8 778.3 313.8 779.2 322.6 780.6 314.4 781.7 322.3 783.4 321.2 784.8 311.7 786.2 313.5 786.9 308.6 787.6 302.3 789.0 310.5 790.4 300.4 792.0 300.0 793.2 303.9 794.6 299.4 795.5 305.2 797.4 323.7 798.8 325.1 799.8 336.1 801.6 318.0 802.3 306.9 803.0 304.1 804.4 314.9 805.8 317.2 807.5 337.8 808.6 324.5 810.0 319.2 810.9 306.9 812.8 302.6 814.2 316.4 816.1 313.8 817.0 308.6 818.4 321.1 819.8 315.7 821.3 320.6 823.0 329.2" stroke="#d41c1c" stroke-width="1.5" fill="none" stroke-linejoin="round"/>
<path d="M81.8 685.1 82.6 672.4 83.5 685.1 85.0 679.1 86.0 676.6 88.5 685.1 89.8 685.7 91.9 681.7 93.0 677.9 94.6 677.3 95.3 674.9 96.2 679.8 97.0 685.1 97.8 685.3 99.4 680.3 101.0 680.8 102.0 678.3 104.2 676.7 105.8 678.5 107.1 676.6 109.0 675.5 110.6 678.9 111.3 678.3 112.2 668.6 113.8 655.5 115.6 634.4 117.3 615.8 118.9 649.6 120.6 615.8 122.3 651.3 123.4 632.5 124.9 614.1 126.5 651.3 128.2 631.2 129.1 614.1 129.8 611.2 131.4 616.5 132.5 610.7 134.2 631.0 135.8 658.0 137.8 630.8 139.2 619.2 141.0 616.1 142.6 604.6 143.4 603.9 144.2 610.8 146.0 609.0 147.4 610.5 149.4 619.2 150.6 630.1 152.7 636.1 153.8 647.4 155.4 671.9 156.1 678.3 157.0 685.1 158.6 663.8 160.2 654.2 161.2 641.1 163.4 613.9 164.6 607.3 166.6 612.8 168.2 608.8 169.6 612.4 171.3 588.7 173.0 613.0 174.7 632.7 176.2 609.3 177.2 598.9 179.4 613.4 181.5 619.2 182.6 601.9 184.2 591.6 184.9 582.0 185.8 591.4 187.4 618.8 188.2 627.6 189.0 598.3 189.9 576.9 190.6 603.2 191.6 636.1 193.8 597.3 195.0 578.6 196.7 637.7 198.6 624.2 200.1 610.7 201.8 601.4 203.4 603.5 205.1 592.1 206.8 639.4 208.2 610.7 210.2 582.0 211.9 656.3 213.0 615.9 213.6 587.0 214.6 592.0 216.2 619.4 217.0 622.5 217.8 614.6 219.4 609.2 221.0 591.6 222.0 590.4 223.7 639.4 225.8 614.2 227.4 585.6 228.0 578.6 229.0 590.4 230.6 595.5 232.2 610.7 233.8 646.1 234.7 661.4 235.4 646.8 237.0 624.6 238.9 590.4 240.6 639.4 241.8 615.4 243.2 590.4 245.0 613.7 245.7 619.2 246.6 609.5 248.2 605.3 249.9 587.0 251.4 593.1 253.0 603.5 254.6 599.3 256.0 585.6 257.8 595.9 259.4 612.2 261.0 615.8 262.0 627.5 264.2 615.8 265.8 595.9 266.4 594.6 267.4 602.8 269.0 608.5 270.9 624.5 272.2 617.9 273.8 598.1 275.4 591.6 277.0 591.6 278.6 584.5 279.9 585.6 281.4 639.4 283.4 618.6 284.4 600.6 286.6 618.8 287.4 627.5 288.2 600.2 288.9 570.6 289.8 567.1 291.4 575.2 293.4 576.6 294.9 567.7 296.2 504.3 297.0 466.0 297.8 491.4 299.3 537.8 301.0 534.0 302.6 532.6 303.8 528.8 305.8 518.2 307.4 512.1 308.3 506.4 309.0 512.7 310.6 532.4 312.8 555.7 313.8 561.0 315.4 575.9 317.3 585.6 318.6 585.2 320.2 590.8 321.8 591.6 323.4 590.3 325.0 595.2 326.3 594.6 328.2 612.8 329.2 624.5 329.8 607.3 330.7 579.6 331.4 576.1 333.0 579.0 334.6 571.6 336.7 570.6 338.2 606.5 339.4 598.6 341.2 579.6 342.6 581.6 344.2 586.9 345.7 588.6 347.4 582.2 349.0 582.7 350.2 576.6 352.2 577.7 353.8 585.4 354.7 585.6 355.4 585.0 357.0 589.7 358.6 587.7 360.6 591.6 361.8 596.0 363.4 594.2 365.1 597.6 365.1 685.5" stroke="#d41c1c" stroke-width="1.5" fill="none" stroke-linejoin="round"/>
<path d="M410.5 685.7 411.4 615.6 413.3 610.3 414.1 611.9 415.0 624.7 416.1 622.1 417.7 611.9 418.9 608.3 420.3 612.9 421.7 607.0 423.2 608.3 424.5 610.7 425.9 608.5 427.3 612.7 428.7 611.9 430.1 609.2 431.5 612.9 432.9 610.6 434.1 611.9 435.7 613.0 437.1 607.6 437.8 608.3 438.5 606.1 439.9 597.9 441.4 591.9 442.7 588.1 444.2 579.1 445.5 572.7 446.9 572.3 448.3 561.0 449.6 559.1 451.4 591.9 452.5 594.0 453.3 590.1 455.3 596.7 456.0 601.0 456.7 602.7 458.1 602.1 459.6 604.6 460.9 605.3 462.3 599.4 463.7 602.4 465.1 599.2 466.5 597.4 467.9 600.1 469.3 595.5 470.6 597.4 472.1 604.4 473.5 603.6 474.2 608.3 474.9 615.9 476.3 620.1 476.9 626.5 477.8 611.9 479.1 613.0 480.5 609.1 481.9 613.4 483.3 609.7 485.1 611.9 486.1 613.6 487.5 609.3 488.9 613.2 490.3 610.5 491.7 613.3 492.4 611.9 493.1 610.4 494.5 613.8 495.9 608.0 497.3 611.1 498.7 607.0 499.7 608.3 501.5 612.1 502.9 607.3 504.3 611.2 505.2 610.1 507.1 612.5 508.5 621.4 509.9 619.6 510.6 624.7 511.3 626.0 512.7 623.6 514.1 628.9 515.5 623.8 516.9 630.2 518.3 626.8 519.7 628.3 521.1 627.0 522.5 621.7 523.9 621.2 525.2 617.4 526.7 612.8 528.1 616.7 529.5 610.1 530.9 613.4 532.5 610.1 533.7 606.5 535.1 610.5 536.5 606.4 537.9 609.7 539.3 603.2 540.7 605.5 542.1 610.8 543.5 611.8 545.2 619.2 546.3 622.2 547.7 619.5 549.1 623.4 550.7 622.8 551.9 623.3 553.4 626.5 555.2 666.6 556.1 663.2 558.0 652.0 558.9 644.7 560.3 639.1 561.6 628.3 563.1 626.5 564.5 630.7 566.2 630.1 567.3 628.0 568.7 628.8 570.1 623.2 571.5 625.2 572.5 622.8 574.3 620.8 575.7 623.3 577.1 619.0 578.5 623.4 579.8 621.0 581.3 622.0 582.7 625.9 584.1 625.0 585.3 628.3 586.9 629.6 588.3 624.5 589.7 627.1 591.1 624.2 592.6 624.7 593.9 627.7 595.3 624.1 596.7 628.0 598.1 625.6 599.5 630.8 600.8 628.3 602.3 621.2 603.7 619.7 605.1 610.7 606.5 609.0 607.2 604.6 607.9 602.7 609.3 610.6 610.7 607.7 612.6 611.9 613.5 614.1 614.9 611.7 616.3 616.9 617.7 616.2 619.1 621.4 619.9 619.2 621.9 618.8 623.3 624.4 625.0 622.8 626.1 625.1 627.5 635.0 628.3 635.0 630.3 630.1 631.7 631.1 633.1 626.9 634.5 627.8 635.9 621.2 637.1 621.7 638.7 627.4 640.1 625.7 641.5 631.4 642.9 629.8 643.7 632.8 645.7 632.8 647.1 628.2 648.5 629.5 649.9 624.5 651.3 628.2 652.6 623.9 654.1 623.2 655.5 626.6 656.9 622.2 658.3 628.4 659.7 624.4 661.4 626.1 662.5 630.5 663.9 630.4 665.3 640.8 665.9 639.4 666.7 634.2 668.1 631.5 669.5 621.9 670.9 621.1 672.5 612.9 673.7 611.9 675.1 619.5 676.5 616.8 677.9 623.1 679.1 623.9 680.7 630.9 681.3 637.2 682.1 633.2 683.5 620.7 684.6 615.1 686.3 668.6 686.9 683.6 687.7 652.7 689.1 606.2 690.5 606.9 691.9 603.8 693.3 606.3 694.6 604.0 696.1 602.0 697.5 605.7 699.0 604.0 700.3 616.9 701.7 634.4 702.3 639.4 703.1 633.2 704.5 632.4 705.9 622.2 707.3 618.9 708.7 607.7 710.1 604.0 711.5 607.7 712.9 606.8 714.3 613.5 715.7 613.0 716.7 617.3 718.5 619.0 719.9 614.2 721.3 617.7 722.7 614.0 724.1 617.6 725.5 615.1 726.9 612.6 728.3 616.1 729.7 611.1 731.1 614.1 732.5 610.7 734.4 610.6 735.3 616.1 736.7 616.7 738.1 627.5 738.8 626.1 739.5 630.7 741.0 663.7 742.3 677.1 743.7 670.6 745.4 683.6 746.5 653.2 747.7 612.9 749.3 630.0 750.7 658.1 752.1 674.8 753.5 653.4 754.9 643.4 756.5 617.3 757.7 650.6 758.7 683.6 760.5 659.9 761.9 626.5 763.1 612.9 764.7 613.8 766.1 603.4 767.6 608.4 768.9 637.4 769.8 652.7 771.7 626.4 773.1 627.0 774.2 608.4 775.9 603.9 777.3 613.1 778.7 605.8 780.1 617.2 780.8 612.9 781.5 601.4 782.9 607.6 784.3 590.8 785.2 595.2 787.1 607.9 788.5 594.5 789.7 604.0 791.3 623.0 791.9 619.5 792.7 610.7 794.1 614.0 795.5 590.4 796.3 590.7 798.3 592.7 799.7 570.9 801.1 578.0 802.9 568.6 803.9 570.1 805.3 598.8 806.7 600.3 807.3 608.4 808.1 605.3 809.6 586.3 810.9 605.1 812.3 643.9 814.0 674.8 815.1 631.1 816.2 604.0 817.9 605.6 819.3 591.6 820.6 597.4 822.1 644.3 822.8 661.5" stroke="#d41c1c" stroke-width="1.5" fill="none" stroke-linejoin="round"/>
<path d="M81.8 685.1 83.4 684.1 85.0 686.5 86.6 684.4 88.2 685.7 89.8 684.1 91.0 685.0 91.9 669.9 93.0 680.5 93.6 685.1 94.6 684.7 96.2 685.6 97.8 684.5 99.0 685.0 99.5 666.5 101.2 685.1 102.6 686.5 104.2 684.0 105.8 686.5 107.4 684.5 109.0 686.4 110.6 684.6 112.2 685.1 113.8 683.3 115.4 675.5 117.3 673.2 118.6 676.3 120.2 674.0 121.5 678.3 123.4 674.2 125.0 665.0 125.7 664.8 126.6 666.6 128.2 661.3 129.8 663.7 130.8 659.7 133.0 664.2 134.6 672.9 135.8 674.9 137.8 670.4 139.4 672.7 141.0 666.8 142.6 668.2 144.2 668.6 146.0 664.8 147.4 664.3 149.0 669.6 150.6 666.6 152.7 669.9 153.8 674.3 155.4 675.5 156.1 680.0 157.0 678.2 158.6 670.0 160.2 669.1 161.2 664.8 163.4 660.4 165.0 663.9 166.6 657.3 168.2 660.0 169.8 654.7 171.3 654.6 173.0 658.8 174.6 660.4 176.4 664.8 177.8 665.9 179.4 662.7 181.0 666.5 182.6 662.9 183.2 664.8 184.2 665.8 185.8 659.2 187.4 658.7 189.0 652.4 189.9 653.0 190.6 661.4 191.6 671.5 193.8 658.8 195.0 653.0 197.0 660.5 198.6 662.7 200.1 668.2 201.8 670.9 203.4 669.1 205.1 671.5 206.6 675.1 208.2 672.5 210.2 676.6 211.9 664.8 213.0 658.3 214.6 643.8 215.3 641.1 216.2 647.8 217.8 653.7 218.7 659.7 219.4 664.2 221.0 663.8 222.6 670.0 223.7 671.5 225.8 664.3 227.4 662.7 228.8 656.3 230.6 660.8 232.2 672.3 233.9 676.6 235.4 664.9 237.2 654.6 238.6 665.7 240.6 678.3 241.8 671.6 243.4 666.6 244.0 661.4 245.0 658.4 246.6 660.3 248.2 655.0 249.8 657.3 250.8 654.6 253.0 652.9 254.6 659.0 256.0 657.4 257.8 658.9 259.4 665.6 261.0 664.5 262.6 669.8 263.5 669.3 264.2 666.8 265.8 667.8 267.4 663.7 269.0 665.2 270.9 660.4 272.2 660.3 273.8 663.8 275.4 659.7 276.9 663.3 278.6 666.6 280.2 666.5 281.4 669.3 283.4 661.5 284.4 654.4 286.6 644.8 288.2 643.3 289.8 632.9 290.4 633.4 291.4 637.2 293.0 638.9 294.9 645.4 296.2 609.8 297.0 585.6 297.8 592.3 299.4 611.0 300.8 621.5 302.6 627.3 304.2 639.7 305.3 642.4 307.4 625.9 308.9 615.5 310.6 627.3 312.8 636.4 313.8 635.5 315.4 642.1 317.0 640.3 318.8 645.4 320.2 648.6 321.8 647.1 323.4 651.0 324.8 651.4 326.6 655.0 328.2 661.4 329.2 663.3 329.8 657.0 331.4 648.2 332.2 639.4 333.0 635.5 334.6 637.3 336.7 630.5 337.8 633.6 339.7 645.4 341.0 645.4 342.6 640.5 344.2 642.6 345.7 639.4 347.4 637.7 349.0 643.0 350.6 640.5 351.7 642.4 353.8 645.3 355.4 640.7 357.0 645.4 358.6 642.0 360.6 645.4 361.8 647.8 363.4 647.8 365.1 651.4 365.1 685.5" stroke="#1c1ca8" stroke-width="1.5" fill="none" stroke-linejoin="round"/>
<path d="M410.5 685.7 412.3 653.8 413.3 660.7 415.0 675.7 416.1 666.8 417.7 648.3 418.9 646.4 420.3 652.3 421.7 649.6 423.2 652.0 424.5 653.9 425.9 649.2 427.3 651.1 428.7 646.6 430.5 648.3 431.5 651.0 432.9 647.8 434.3 653.0 436.0 652.0 437.1 651.5 438.5 658.8 439.6 659.3 441.3 644.8 443.2 633.8 444.1 643.0 446.0 655.6 446.9 642.2 448.7 622.8 450.2 601.0 451.1 608.4 452.5 613.4 454.2 626.5 455.3 631.0 456.7 631.0 458.1 636.8 459.6 639.2 460.9 637.9 462.3 641.4 463.7 638.7 465.1 643.0 466.9 642.9 467.9 641.4 469.3 642.0 470.7 637.4 472.1 640.4 473.5 636.9 474.2 637.4 474.9 640.3 476.3 643.0 477.8 648.3 479.1 649.2 480.5 643.6 481.9 646.4 483.3 640.6 485.1 641.1 486.1 642.1 487.5 639.6 488.9 643.2 490.3 639.5 491.7 644.6 493.1 639.8 494.5 643.5 496.1 642.9 497.3 640.6 498.7 646.0 500.1 641.0 501.5 644.9 502.9 643.1 504.3 645.5 505.2 644.7 507.1 646.5 508.5 651.6 509.9 648.6 510.6 652.0 511.3 654.9 512.7 652.1 514.1 658.2 515.5 656.6 516.9 660.5 518.3 660.3 519.7 662.9 521.1 663.5 522.5 658.4 523.9 659.2 525.3 654.6 526.7 655.3 528.1 651.6 528.8 652.0 529.5 653.2 530.9 649.5 532.3 652.9 533.7 649.8 535.1 653.7 536.5 649.0 537.9 653.0 539.8 650.2 540.7 648.9 542.1 652.8 543.5 651.6 544.9 655.9 546.3 653.1 547.7 658.0 548.9 657.5 550.5 656.0 551.9 660.5 553.4 659.3 554.7 669.0 555.8 679.3 557.5 674.8 558.9 665.7 559.8 662.9 561.7 659.0 563.1 650.9 564.5 648.1 565.3 644.7 567.3 645.1 568.7 649.6 570.1 645.6 571.5 650.1 572.5 650.2 574.3 649.7 575.7 654.1 577.1 650.9 578.5 655.3 579.9 653.4 581.3 657.5 582.7 654.5 583.5 657.5 585.5 658.1 586.9 653.7 588.3 657.2 589.7 654.2 591.1 657.1 592.5 652.7 594.4 653.8 595.3 654.3 596.7 650.6 598.1 652.8 599.5 648.9 600.9 652.8 601.7 650.2 603.7 644.5 605.1 646.6 606.5 640.8 607.2 641.1 607.9 642.8 609.3 640.1 610.7 644.5 612.1 641.4 613.5 645.2 614.4 642.9 616.3 643.7 617.7 646.7 619.1 645.4 620.5 650.4 621.9 647.2 623.5 650.2 624.7 655.6 626.1 656.1 627.5 664.5 628.3 665.9 630.3 660.2 631.7 660.9 633.1 654.0 634.9 652.7 635.9 654.8 637.3 650.1 638.7 653.3 640.1 650.2 641.5 652.4 642.9 648.6 644.3 652.8 646.0 650.4 647.1 647.9 648.5 650.8 649.9 647.8 651.3 651.4 652.7 646.8 654.1 649.3 654.8 648.2 655.5 647.2 656.9 652.9 658.3 650.5 659.7 654.2 661.1 653.2 662.5 658.1 663.9 654.8 665.3 659.7 666.7 659.1 668.1 661.5 669.5 659.0 670.9 652.6 672.3 652.0 673.7 645.4 674.7 643.8 676.5 650.0 677.9 651.3 679.3 658.9 680.7 657.7 681.3 661.5 682.1 665.6 683.5 667.5 684.9 676.6 686.3 679.7 686.9 683.6 687.7 676.7 689.1 654.7 690.2 643.8 691.9 650.6 693.3 650.5 694.7 657.0 696.1 657.6 696.8 661.5 697.5 661.0 698.9 656.1 700.3 656.0 701.7 650.9 703.4 648.2 704.5 650.3 705.9 647.1 707.3 652.3 708.7 649.1 710.1 653.6 711.5 650.6 712.3 652.7 714.3 653.7 715.7 650.7 717.1 654.2 718.5 650.4 719.9 655.3 721.1 652.7 722.7 647.9 724.1 648.7 725.5 641.7 726.9 642.8 727.8 639.4 729.7 639.5 731.1 643.8 732.5 640.0 734.4 643.8 735.3 648.8 736.7 648.6 738.1 662.1 738.8 657.1 739.5 659.5 741.0 683.6 742.3 682.3 743.7 664.0 745.4 659.3 746.5 665.7 747.9 659.3 749.3 670.9 750.7 667.0 752.1 674.8 753.5 676.8 754.9 659.1 756.3 666.5 757.7 652.5 758.7 652.7 760.5 658.0 761.9 649.2 763.3 660.3 764.7 650.6 766.1 661.7 767.5 648.6 768.9 659.8 769.8 657.1 771.7 642.1 773.1 648.0 774.5 630.3 775.9 632.9 777.3 613.5 778.6 615.1 780.4 532.2 781.9 615.1 782.9 621.0 784.3 618.7 785.7 632.0 787.1 627.5 788.5 647.0 789.7 643.8 791.3 636.3 792.7 641.9 794.1 631.7 795.5 640.3 796.9 626.6 798.5 630.5 799.7 664.5 800.7 683.6 802.5 659.7 803.9 658.4 805.1 639.4 806.7 650.0 808.1 673.3 809.6 683.6 810.9 661.6 812.3 657.0 814.0 635.0 815.1 628.9 816.5 639.4 818.4 635.0 819.3 632.9 820.7 649.3 822.1 645.7 822.8 657.1" stroke="#1c1ca8" stroke-width="1.5" fill="none" stroke-linejoin="round"/>
<text transform="translate(128.5 79.7) rotate(-90)" text-anchor="end" class="ln" fill="#560f48" textLength="23" lengthAdjust="spacingAndGlyphs">Lyα</text>
<text transform="translate(133 80) rotate(-90)" text-anchor="end" class="ln" fill="#560f48" textLength="20" lengthAdjust="spacingAndGlyphs">N V</text>
<text transform="translate(182.4 79.7) rotate(-90)" text-anchor="end" class="ln" fill="#560f48" textLength="29" lengthAdjust="spacingAndGlyphs">Si IV</text>
<text transform="translate(232.5 79.7) rotate(-90)" text-anchor="end" class="ln" fill="#560f48" textLength="26.3" lengthAdjust="spacingAndGlyphs">C IV</text>
<text transform="translate(346 80) rotate(-90)" text-anchor="end" class="ln" fill="#560f48" textLength="32" lengthAdjust="spacingAndGlyphs">C III]</text>
<text transform="translate(627.8 80) rotate(-90)" text-anchor="end" class="ln" fill="#560f48" textLength="31.6" lengthAdjust="spacingAndGlyphs">Mg II</text>
<text transform="translate(224.5 425.2) rotate(-90)" text-anchor="end" class="lb" fill="#000" textLength="26.4" lengthAdjust="spacingAndGlyphs">O VI</text>
<text transform="translate(292.5 425.2) rotate(-90)" text-anchor="end" class="lb" fill="#000" textLength="23.4" lengthAdjust="spacingAndGlyphs"><tspan font-style="italic">Lyα</tspan></text>
<text transform="translate(304.5 425.2) rotate(-90)" text-anchor="end" class="lb" fill="#000" textLength="23.4" lengthAdjust="spacingAndGlyphs">N V</text>
<text transform="translate(447.5 424.7) rotate(-90)" text-anchor="end" class="lb" fill="#000" textLength="26.3" lengthAdjust="spacingAndGlyphs">C IV</text>
<circle cx="557.8" cy="277" r="7" stroke="#000" stroke-width="1.7" fill="none"/><path d="M550.8 277h14M557.8 270v14" stroke="#000" stroke-width="1.5"/>
<circle cx="558" cy="595.5" r="7" stroke="#000" stroke-width="1.7" fill="none"/><path d="M551 595.5h14M558 588.5v14" stroke="#000" stroke-width="1.5"/>
<rect x="50.2" y="66.5" width="827.5999999999999" height="273.5" stroke="#000" stroke-width="2" fill="none"/>
<rect x="50.2" y="411.8" width="827.5999999999999" height="274.40000000000003" stroke="#000" stroke-width="2" fill="none"/>
<rect x="636.3" y="73.7" width="234" height="47.2" rx="3" fill="#fff" fill-opacity="0.92" stroke="#111" stroke-width="1.3"/>
<path d="M641.3 85.5H672.8" stroke="#1c1ca8" stroke-width="1.6"/>
<text x="683.3" y="91.8" class="lg" textLength="180.5" lengthAdjust="spacingAndGlyphs">J1759+3459 (z = 1.970)</text>
<path d="M641.3 107.3H672.8" stroke="#d41c1c" stroke-width="1.6"/>
<text x="683.3" y="113.6" class="lg" textLength="180.5" lengthAdjust="spacingAndGlyphs">J1759+3459 (z = 1.982)</text>
<rect x="636.3" y="419" width="234" height="47.4" rx="3" fill="#fff" fill-opacity="0.92" stroke="#111" stroke-width="1.3"/>
<path d="M641.3 430.8H672.8" stroke="#1c1ca8" stroke-width="1.6"/>
<text x="683.3" y="437.1" class="lg" textLength="180.5" lengthAdjust="spacingAndGlyphs">J1929+6009 (z = 3.277)</text>
<path d="M641.3 452.6H672.8" stroke="#d41c1c" stroke-width="1.6"/>
<text x="683.3" y="458.9" class="lg" textLength="180.5" lengthAdjust="spacingAndGlyphs">J1929+6009 (z = 3.277)</text>
<text x="369" y="371.8" class="al" textLength="190" lengthAdjust="spacingAndGlyphs">Observed Wavelength [Å]</text>
<text transform="translate(26.4 203.2) rotate(-90)" text-anchor="middle" class="al" textLength="220" lengthAdjust="spacingAndGlyphs">Flux [10<tspan dy="-5" font-size="10px">−17</tspan><tspan dy="5">·erg·cm</tspan><tspan dy="-5" font-size="10px">−2</tspan><tspan dy="5">·s</tspan><tspan dy="-5" font-size="10px">−1</tspan><tspan dy="5">·Å</tspan><tspan dy="-5" font-size="10px">−1</tspan><tspan dy="5">]</tspan></text>
<text x="369" y="718" class="al" textLength="190" lengthAdjust="spacingAndGlyphs">Observed Wavelength [Å]</text>
<text transform="translate(26.4 549) rotate(-90)" text-anchor="middle" class="al" textLength="220" lengthAdjust="spacingAndGlyphs">Flux [10<tspan dy="-5" font-size="10px">−17</tspan><tspan dy="5">·erg·cm</tspan><tspan dy="-5" font-size="10px">−2</tspan><tspan dy="5">·s</tspan><tspan dy="-5" font-size="10px">−1</tspan><tspan dy="5">·Å</tspan><tspan dy="-5" font-size="10px">−1</tspan><tspan dy="5">]</tspan></text>
<defs><filter id="bl" x="-5%" y="-5%" width="110%" height="110%"><feGaussianBlur stdDeviation="0.8"/></filter><clipPath id="i1"><rect x="948.3" y="63.3" width="310.4" height="310.5"/></clipPath><clipPath id="i2"><rect x="948.4" y="408.4" width="310.3" height="311.8"/></clipPath></defs><g clip-path="url(#i1)"><g filter="url(#bl)">
<g transform="translate(948.30 63.30) scale(6.8978 6.9000)" shape-rendering="crispEdges">
<rect width="45" height="45" fill="#070509"/>
<path fill="#0e130d" d="M0 0h1v1h-1z"/>
<path fill="#0a070d" d="M1 0h1v1h-1z"/>
<path fill="#190b0a" d="M2 0h1v1h-1zM13 5h1v1h-1z"/>
<path fill="#06070b" d="M3 0h1v1h-1zM4 17h1v1h-1zM32 24h1v1h-1zM0 26h1v1h-1zM33 44h1v1h-1z"/>
<path fill="#0b050a" d="M4 0h1v1h-1zM15 12h1v1h-1z"/>
<path fill="#050306" d="M5 0h1v1h-1zM43 34h1v1h-1z"/>
<path fill="#0b0504" d="M6 0h1v1h-1zM29 1h1v1h-1zM39 1h1v1h-1zM34 43h1v1h-1z"/>
<path fill="#04030d" d="M7 0h1v1h-1zM36 24h1v1h-1zM38 35h1v1h-1z"/>
<path fill="#31040a" d="M8 0h1v1h-1z"/>
<path fill="#09070a" d="M9 0h1v1h-1zM10 14h1v1h-1zM9 17h1v1h-1zM9 25h1v1h-1zM40 26h1v1h-1zM39 36h1v1h-1zM43 39h1v1h-1z"/>
<path fill="#0c0506" d="M10 0h1v1h-1zM26 8h1v1h-1zM14 9h1v1h-1zM42 17h1v1h-1zM2 21h1v1h-1zM37 41h1v1h-1z"/>
<path fill="#040206" d="M11 0h1v1h-1zM9 11h1v1h-1zM36 30h1v1h-1z"/>
<path fill="#07070a" d="M12 0h1v1h-1zM26 2h1v1h-1zM21 36h1v1h-1z"/>
<path fill="#07050c" d="M13 0h1v1h-1zM29 8h1v1h-1zM0 15h1v1h-1zM11 16h1v1h-1zM36 19h1v1h-1zM29 42h1v1h-1z"/>
<path fill="#0c040c" d="M14 0h1v1h-1zM4 5h1v1h-1zM0 24h1v1h-1z"/>
<path fill="#0c0309" d="M15 0h1v1h-1z"/>
<path fill="#030808" d="M16 0h1v1h-1zM44 23h1v1h-1zM15 37h1v1h-1z"/>
<path fill="#050709" d="M17 0h1v1h-1zM0 40h1v1h-1z"/>
<path fill="#0c0605" d="M18 0h1v1h-1zM7 23h1v1h-1z"/>
<path fill="#06070d" d="M19 0h1v1h-1zM14 20h1v1h-1z"/>
<path fill="#050521" d="M20 0h1v1h-1z"/>
<path fill="#0a0209" d="M21 0h1v1h-1zM9 29h1v1h-1z"/>
<path fill="#090304" d="M22 0h1v1h-1z"/>
<path fill="#0a0513" d="M23 0h1v1h-1z"/>
<path fill="#03050d" d="M24 0h1v1h-1zM5 35h1v1h-1zM16 39h1v1h-1z"/>
<path fill="#080c19" d="M25 0h1v1h-1z"/>
<path fill="#070205" d="M26 0h1v1h-1zM8 5h1v1h-1zM36 34h1v1h-1z"/>
<path fill="#2a0409" d="M27 0h1v1h-1z"/>
<path fill="#070608" d="M28 0h1v1h-1zM4 11h1v1h-1zM44 20h1v1h-1z"/>
<path fill="#1a090b" d="M29 0h1v1h-1z"/>
<path fill="#060a1e" d="M30 0h1v1h-1zM44 26h1v1h-1z"/>
<path fill="#0b050d" d="M31 0h1v1h-1zM20 8h1v1h-1zM9 32h1v1h-1zM15 41h1v1h-1z"/>
<path fill="#04060c" d="M32 0h1v1h-1zM16 13h1v1h-1zM44 35h1v1h-1z"/>
<path fill="#07081f" d="M33 0h1v1h-1z"/>
<path fill="#0b040c" d="M34 0h1v1h-1zM15 1h1v1h-1zM11 39h1v1h-1z"/>
<path fill="#0a0912" d="M35 0h1v1h-1z"/>
<path fill="#060426" d="M36 0h1v1h-1z"/>
<path fill="#0a0409" d="M37 0h1v1h-1zM5 23h1v1h-1zM19 35h1v1h-1z"/>
<path fill="#07070b" d="M38 0h1v1h-1zM30 3h1v1h-1zM7 17h1v1h-1zM13 30h1v1h-1zM29 33h1v1h-1zM0 34h1v1h-1z"/>
<path fill="#1a040b" d="M39 0h1v1h-1z"/>
<path fill="#0b0824" d="M40 0h1v1h-1zM2 17h1v1h-1z"/>
<path fill="#050406" d="M41 0h1v1h-1zM8 31h1v1h-1zM19 38h1v1h-1z"/>
<path fill="#09081b" d="M42 0h1v1h-1zM28 27h1v1h-1z"/>
<path fill="#040804" d="M43 0h1v1h-1zM0 4h1v1h-1zM41 37h1v1h-1z"/>
<path fill="#05040c" d="M44 0h1v1h-1zM34 40h1v1h-1z"/>
<path fill="#12170b" d="M0 1h1v1h-1z"/>
<path fill="#0a0515" d="M1 1h1v1h-1z"/>
<path fill="#080707" d="M2 1h1v1h-1zM14 7h1v1h-1z"/>
<path fill="#050209" d="M3 1h1v1h-1zM41 38h1v1h-1z"/>
<path fill="#06060b" d="M4 1h1v1h-1zM32 33h1v1h-1z"/>
<path fill="#050422" d="M5 1h1v1h-1z"/>
<path fill="#08080d" d="M6 1h1v1h-1zM6 8h1v1h-1zM7 44h1v1h-1z"/>
<path fill="#0a1914" d="M7 1h1v1h-1z"/>
<path fill="#04080d" d="M8 1h1v1h-1zM5 31h1v1h-1zM41 36h1v1h-1z"/>
<path fill="#060a1b" d="M9 1h1v1h-1zM44 11h1v1h-1z"/>
<path fill="#07050d" d="M11 1h1v1h-1z"/>
<path fill="#090307" d="M12 1h1v1h-1z"/>
<path fill="#370c0c" d="M13 1h1v1h-1z"/>
<path fill="#06020b" d="M14 1h1v1h-1zM38 34h1v1h-1z"/>
<path fill="#070524" d="M16 1h1v1h-1z"/>
<path fill="#040807" d="M17 1h1v1h-1z"/>
<path fill="#350c09" d="M18 1h1v1h-1z"/>
<path fill="#090604" d="M19 1h1v1h-1zM11 24h1v1h-1zM32 29h1v1h-1z"/>
<path fill="#300508" d="M20 1h1v1h-1zM1 16h1v1h-1z"/>
<path fill="#060704" d="M21 1h1v1h-1z"/>
<path fill="#09020d" d="M22 1h1v1h-1z"/>
<path fill="#1d080e" d="M23 1h1v1h-1z"/>
<path fill="#030407" d="M24 1h1v1h-1zM18 5h1v1h-1zM12 18h1v1h-1zM7 19h1v1h-1z"/>
<path fill="#0e120a" d="M25 1h1v1h-1z"/>
<path fill="#0a1308" d="M26 1h1v1h-1z"/>
<path fill="#0c080a" d="M27 1h1v1h-1zM37 8h1v1h-1z"/>
<path fill="#21070a" d="M28 1h1v1h-1z"/>
<path fill="#030804" d="M30 1h1v1h-1zM37 17h1v1h-1zM10 23h1v1h-1z"/>
<path fill="#030204" d="M31 1h1v1h-1z"/>
<path fill="#1a050e" d="M32 1h1v1h-1z"/>
<path fill="#080309" d="M33 1h1v1h-1zM8 15h1v1h-1zM40 24h1v1h-1zM22 43h1v1h-1z"/>
<path fill="#250a0f" d="M34 1h1v1h-1z"/>
<path fill="#08071c" d="M35 1h1v1h-1z"/>
<path fill="#050604" d="M36 1h1v1h-1zM1 5h1v1h-1zM8 32h1v1h-1z"/>
<path fill="#090805" d="M37 1h1v1h-1zM36 39h1v1h-1z"/>
<path fill="#03040b" d="M38 1h1v1h-1zM12 12h1v1h-1zM5 30h1v1h-1z"/>
<path fill="#090209" d="M40 1h1v1h-1zM31 12h1v1h-1zM34 21h1v1h-1z"/>
<path fill="#08050a" d="M41 1h1v1h-1zM0 21h1v1h-1zM14 30h1v1h-1zM11 32h1v1h-1zM20 36h1v1h-1zM35 37h1v1h-1z"/>
<path fill="#06030c" d="M42 1h1v1h-1zM42 8h1v1h-1zM40 37h1v1h-1z"/>
<path fill="#050a19" d="M43 1h1v1h-1zM44 27h1v1h-1z"/>
<path fill="#030409" d="M44 1h1v1h-1zM40 3h1v1h-1z"/>
<path fill="#0b0808" d="M0 2h1v1h-1zM39 29h1v1h-1z"/>
<path fill="#2f0511" d="M1 2h1v1h-1z"/>
<path fill="#0b080a" d="M2 2h1v1h-1zM21 5h1v1h-1zM39 13h1v1h-1zM38 32h1v1h-1z"/>
<path fill="#08060c" d="M3 2h1v1h-1z"/>
<path fill="#2b040d" d="M4 2h1v1h-1z"/>
<path fill="#310a06" d="M5 2h1v1h-1z"/>
<path fill="#0c020a" d="M6 2h1v1h-1zM2 40h1v1h-1z"/>
<path fill="#061909" d="M7 2h1v1h-1z"/>
<path fill="#1c0b11" d="M8 2h1v1h-1z"/>
<path fill="#0c0405" d="M9 2h1v1h-1z"/>
<path fill="#310c0e" d="M10 2h1v1h-1z"/>
<path fill="#040605" d="M11 2h1v1h-1zM22 3h1v1h-1z"/>
<path fill="#030609" d="M12 2h1v1h-1zM0 37h1v1h-1z"/>
<path fill="#050805" d="M13 2h1v1h-1zM43 16h1v1h-1z"/>
<path fill="#08160f" d="M14 2h1v1h-1z"/>
<path fill="#090409" d="M15 2h1v1h-1z"/>
<path fill="#08060a" d="M16 2h1v1h-1zM7 4h1v1h-1zM13 10h1v1h-1zM30 27h1v1h-1zM2 30h1v1h-1z"/>
<path fill="#090607" d="M17 2h1v1h-1z"/>
<path fill="#090806" d="M18 2h1v1h-1z"/>
<path fill="#0c080d" d="M19 2h1v1h-1z"/>
<path fill="#0b070b" d="M20 2h1v1h-1zM9 33h1v1h-1z"/>
<path fill="#250608" d="M21 2h1v1h-1z"/>
<path fill="#300b11" d="M22 2h1v1h-1z"/>
<path fill="#0a0606" d="M23 2h1v1h-1z"/>
<path fill="#310708" d="M24 2h1v1h-1z"/>
<path fill="#08030c" d="M25 2h1v1h-1z"/>
<path fill="#0c0608" d="M27 2h1v1h-1zM14 18h1v1h-1zM30 32h1v1h-1z"/>
<path fill="#070208" d="M28 2h1v1h-1z"/>
<path fill="#090306" d="M29 2h1v1h-1zM43 20h1v1h-1z"/>
<path fill="#06040b" d="M30 2h1v1h-1zM9 7h1v1h-1zM33 11h1v1h-1zM3 40h1v1h-1z"/>
<path fill="#05050b" d="M31 2h1v1h-1z"/>
<path fill="#06050d" d="M32 2h1v1h-1zM10 12h1v1h-1zM41 31h1v1h-1z"/>
<path fill="#0b020b" d="M33 2h1v1h-1zM6 3h1v1h-1zM11 10h1v1h-1z"/>
<path fill="#04080a" d="M34 2h1v1h-1zM34 15h1v1h-1zM36 26h1v1h-1zM20 42h1v1h-1z"/>
<path fill="#030507" d="M35 2h1v1h-1zM5 15h1v1h-1zM43 15h1v1h-1zM5 40h1v1h-1z"/>
<path fill="#040308" d="M36 2h1v1h-1zM21 3h1v1h-1zM4 21h1v1h-1zM10 41h1v1h-1z"/>
<path fill="#09170a" d="M37 2h1v1h-1z"/>
<path fill="#11100c" d="M38 2h1v1h-1z"/>
<path fill="#06190a" d="M39 2h1v1h-1z"/>
<path fill="#040205" d="M40 2h1v1h-1zM24 4h1v1h-1zM39 15h1v1h-1z"/>
<path fill="#08041d" d="M41 2h1v1h-1z"/>
<path fill="#080204" d="M42 2h1v1h-1zM41 7h1v1h-1z"/>
<path fill="#0a0a21" d="M43 2h1v1h-1z"/>
<path fill="#2d0b0c" d="M44 2h1v1h-1z"/>
<path fill="#23050a" d="M0 3h1v1h-1z"/>
<path fill="#26050d" d="M1 3h1v1h-1z"/>
<path fill="#07020c" d="M2 3h1v1h-1zM3 11h1v1h-1zM37 21h1v1h-1zM3 37h1v1h-1z"/>
<path fill="#080709" d="M3 3h1v1h-1zM10 7h1v1h-1zM36 17h1v1h-1zM31 25h1v1h-1zM44 29h1v1h-1zM18 44h1v1h-1z"/>
<path fill="#070708" d="M4 3h1v1h-1z"/>
<path fill="#370910" d="M5 3h1v1h-1z"/>
<path fill="#030708" d="M7 3h1v1h-1z"/>
<path fill="#0c0706" d="M8 3h1v1h-1z"/>
<path fill="#050309" d="M9 3h1v1h-1z"/>
<path fill="#0a0205" d="M10 3h1v1h-1zM39 16h1v1h-1z"/>
<path fill="#05040d" d="M11 3h1v1h-1zM4 9h1v1h-1zM6 28h1v1h-1z"/>
<path fill="#070706" d="M12 3h1v1h-1zM1 7h1v1h-1z"/>
<path fill="#070806" d="M13 3h1v1h-1zM5 10h1v1h-1z"/>
<path fill="#040706" d="M14 3h1v1h-1z"/>
<path fill="#0b060a" d="M15 3h1v1h-1zM5 22h1v1h-1z"/>
<path fill="#08081e" d="M16 3h1v1h-1z"/>
<path fill="#1d040d" d="M17 3h1v1h-1z"/>
<path fill="#06070c" d="M18 3h1v1h-1zM43 13h1v1h-1z"/>
<path fill="#090a20" d="M19 3h1v1h-1z"/>
<path fill="#04040b" d="M20 3h1v1h-1z"/>
<path fill="#091c12" d="M23 3h1v1h-1z"/>
<path fill="#05060d" d="M24 3h1v1h-1zM44 34h1v1h-1z"/>
<path fill="#25070e" d="M25 3h1v1h-1zM41 27h1v1h-1z"/>
<path fill="#0c0307" d="M26 3h1v1h-1zM43 29h1v1h-1z"/>
<path fill="#080808" d="M27 3h1v1h-1zM36 5h1v1h-1z"/>
<path fill="#320b0c" d="M28 3h1v1h-1z"/>
<path fill="#09040c" d="M29 3h1v1h-1zM12 13h1v1h-1zM22 42h1v1h-1zM43 43h1v1h-1z"/>
<path fill="#07080b" d="M31 3h1v1h-1zM3 22h1v1h-1zM41 35h1v1h-1zM24 44h1v1h-1z"/>
<path fill="#1f0407" d="M32 3h1v1h-1z"/>
<path fill="#060506" d="M33 3h1v1h-1zM7 15h1v1h-1z"/>
<path fill="#0a0307" d="M34 3h1v1h-1z"/>
<path fill="#06020c" d="M35 3h1v1h-1zM42 42h1v1h-1z"/>
<path fill="#0a020d" d="M36 3h1v1h-1zM8 41h1v1h-1z"/>
<path fill="#060620" d="M37 3h1v1h-1z"/>
<path fill="#0c0204" d="M38 3h1v1h-1z"/>
<path fill="#070c14" d="M39 3h1v1h-1z"/>
<path fill="#090614" d="M41 3h1v1h-1z"/>
<path fill="#0c0804" d="M42 3h1v1h-1z"/>
<path fill="#080807" d="M43 3h1v1h-1zM31 7h1v1h-1zM30 30h1v1h-1z"/>
<path fill="#060507" d="M44 3h1v1h-1z"/>
<path fill="#060706" d="M1 4h1v1h-1zM14 44h1v1h-1z"/>
<path fill="#0a0705" d="M2 4h1v1h-1z"/>
<path fill="#09030b" d="M3 4h1v1h-1zM33 7h1v1h-1zM20 10h1v1h-1zM11 41h1v1h-1zM9 43h1v1h-1z"/>
<path fill="#0b0b28" d="M4 4h1v1h-1z"/>
<path fill="#050504" d="M5 4h1v1h-1zM40 23h1v1h-1z"/>
<path fill="#080809" d="M6 4h1v1h-1zM41 22h1v1h-1z"/>
<path fill="#06150c" d="M8 4h1v1h-1z"/>
<path fill="#05080b" d="M9 4h1v1h-1zM40 9h1v1h-1zM11 13h1v1h-1z"/>
<path fill="#050304" d="M10 4h1v1h-1zM0 23h1v1h-1z"/>
<path fill="#0c1f0a" d="M11 4h1v1h-1z"/>
<path fill="#05020d" d="M12 4h1v1h-1zM3 7h1v1h-1z"/>
<path fill="#0d1408" d="M13 4h1v1h-1z"/>
<path fill="#090509" d="M14 4h1v1h-1zM6 24h1v1h-1zM8 36h1v1h-1z"/>
<path fill="#03030a" d="M15 4h1v1h-1zM31 6h1v1h-1zM13 8h1v1h-1zM42 30h1v1h-1z"/>
<path fill="#280409" d="M16 4h1v1h-1z"/>
<path fill="#0c1e0b" d="M17 4h1v1h-1z"/>
<path fill="#0f120d" d="M18 4h1v1h-1z"/>
<path fill="#0c0208" d="M19 4h1v1h-1zM16 36h1v1h-1z"/>
<path fill="#0b0821" d="M20 4h1v1h-1zM15 10h1v1h-1z"/>
<path fill="#0a0f0d" d="M21 4h1v1h-1z"/>
<path fill="#080405" d="M22 4h1v1h-1z"/>
<path fill="#26050f" d="M23 4h1v1h-1z"/>
<path fill="#29040d" d="M25 4h1v1h-1z"/>
<path fill="#2d0c0b" d="M26 4h1v1h-1z"/>
<path fill="#121e0d" d="M27 4h1v1h-1z"/>
<path fill="#080704" d="M28 4h1v1h-1zM44 22h1v1h-1z"/>
<path fill="#0c070a" d="M29 4h1v1h-1zM22 38h1v1h-1z"/>
<path fill="#22060c" d="M30 4h1v1h-1z"/>
<path fill="#250c0b" d="M31 4h1v1h-1z"/>
<path fill="#09030a" d="M32 4h1v1h-1z"/>
<path fill="#0b0406" d="M33 4h1v1h-1zM30 35h1v1h-1z"/>
<path fill="#0a0b19" d="M34 4h1v1h-1z"/>
<path fill="#0a0408" d="M35 4h1v1h-1zM20 41h1v1h-1z"/>
<path fill="#0b070d" d="M36 4h1v1h-1z"/>
<path fill="#090504" d="M37 4h1v1h-1z"/>
<path fill="#2f040d" d="M38 4h1v1h-1z"/>
<path fill="#2f050b" d="M39 4h1v1h-1z"/>
<path fill="#121011" d="M40 4h1v1h-1z"/>
<path fill="#0a0509" d="M41 4h1v1h-1zM9 16h1v1h-1zM32 40h1v1h-1z"/>
<path fill="#030207" d="M42 4h1v1h-1zM42 14h1v1h-1z"/>
<path fill="#04040d" d="M43 4h1v1h-1zM41 9h1v1h-1zM7 30h1v1h-1zM39 31h1v1h-1z"/>
<path fill="#0b0526" d="M44 4h1v1h-1zM40 42h1v1h-1z"/>
<path fill="#11100a" d="M0 5h1v1h-1z"/>
<path fill="#220709" d="M2 5h1v1h-1z"/>
<path fill="#0b050c" d="M3 5h1v1h-1zM0 28h1v1h-1zM26 44h1v1h-1z"/>
<path fill="#0a030d" d="M5 5h1v1h-1zM38 11h1v1h-1z"/>
<path fill="#33050f" d="M6 5h1v1h-1z"/>
<path fill="#370509" d="M7 5h1v1h-1z"/>
<path fill="#06080d" d="M9 5h1v1h-1z"/>
<path fill="#28090c" d="M10 5h1v1h-1z"/>
<path fill="#0a0805" d="M11 5h1v1h-1z"/>
<path fill="#0b0a18" d="M12 5h1v1h-1z"/>
<path fill="#040409" d="M14 5h1v1h-1z"/>
<path fill="#121110" d="M15 5h1v1h-1z"/>
<path fill="#080505" d="M16 5h1v1h-1zM34 29h1v1h-1zM24 39h1v1h-1zM43 44h1v1h-1z"/>
<path fill="#060309" d="M17 5h1v1h-1zM18 8h1v1h-1zM2 26h1v1h-1z"/>
<path fill="#040407" d="M19 5h1v1h-1z"/>
<path fill="#070725" d="M20 5h1v1h-1z"/>
<path fill="#070a21" d="M22 5h1v1h-1z"/>
<path fill="#09050d" d="M23 5h1v1h-1z"/>
<path fill="#070206" d="M24 5h1v1h-1zM9 12h1v1h-1zM24 42h1v1h-1z"/>
<path fill="#030706" d="M25 5h1v1h-1zM24 37h1v1h-1zM10 40h1v1h-1z"/>
<path fill="#0c0426" d="M26 5h1v1h-1z"/>
<path fill="#060707" d="M27 5h1v1h-1zM5 9h1v1h-1z"/>
<path fill="#0a041d" d="M28 5h1v1h-1z"/>
<path fill="#060708" d="M29 5h1v1h-1zM44 21h1v1h-1z"/>
<path fill="#27080c" d="M30 5h1v1h-1z"/>
<path fill="#06030b" d="M31 5h1v1h-1z"/>
<path fill="#09040b" d="M33 5h1v1h-1zM13 24h1v1h-1zM28 34h1v1h-1z"/>
<path fill="#0b0309" d="M34 5h1v1h-1z"/>
<path fill="#070404" d="M35 5h1v1h-1z"/>
<path fill="#0b0204" d="M37 5h1v1h-1zM43 38h1v1h-1z"/>
<path fill="#29060e" d="M38 5h1v1h-1z"/>
<path fill="#370406" d="M39 5h1v1h-1z"/>
<path fill="#121d0d" d="M40 5h1v1h-1z"/>
<path fill="#080604" d="M41 5h1v1h-1zM14 10h1v1h-1zM37 37h1v1h-1z"/>
<path fill="#060208" d="M42 5h1v1h-1zM38 10h1v1h-1z"/>
<path fill="#080804" d="M43 5h1v1h-1z"/>
<path fill="#040508" d="M44 5h1v1h-1z"/>
<path fill="#0b0a1a" d="M0 6h1v1h-1zM10 37h1v1h-1z"/>
<path fill="#040a13" d="M1 6h1v1h-1z"/>
<path fill="#05080d" d="M2 6h1v1h-1z"/>
<path fill="#081c10" d="M3 6h1v1h-1z"/>
<path fill="#080606" d="M4 6h1v1h-1zM38 8h1v1h-1zM10 11h1v1h-1z"/>
<path fill="#060412" d="M5 6h1v1h-1z"/>
<path fill="#03080b" d="M6 6h1v1h-1zM5 21h1v1h-1zM30 38h1v1h-1z"/>
<path fill="#0c060a" d="M7 6h1v1h-1z"/>
<path fill="#060817" d="M8 6h1v1h-1zM40 19h1v1h-1z"/>
<path fill="#1d0c07" d="M9 6h1v1h-1z"/>
<path fill="#08050b" d="M10 6h1v1h-1zM35 8h1v1h-1z"/>
<path fill="#080b1b" d="M11 6h1v1h-1z"/>
<path fill="#050609" d="M12 6h1v1h-1zM38 13h1v1h-1zM31 27h1v1h-1z"/>
<path fill="#1a0a0d" d="M13 6h1v1h-1z"/>
<path fill="#0a060d" d="M14 6h1v1h-1zM3 12h1v1h-1zM8 19h1v1h-1z"/>
<path fill="#090c15" d="M15 6h1v1h-1z"/>
<path fill="#070808" d="M16 6h1v1h-1zM39 11h1v1h-1z"/>
<path fill="#2e050b" d="M17 6h1v1h-1z"/>
<path fill="#280b09" d="M18 6h1v1h-1z"/>
<path fill="#090626" d="M19 6h1v1h-1z"/>
<path fill="#090404" d="M20 6h1v1h-1z"/>
<path fill="#04091c" d="M21 6h1v1h-1zM37 10h1v1h-1z"/>
<path fill="#0b0404" d="M22 6h1v1h-1zM13 11h1v1h-1zM5 16h1v1h-1zM39 28h1v1h-1z"/>
<path fill="#210a07" d="M23 6h1v1h-1z"/>
<path fill="#060705" d="M24 6h1v1h-1zM6 21h1v1h-1z"/>
<path fill="#040705" d="M25 6h1v1h-1zM6 13h1v1h-1zM1 26h1v1h-1z"/>
<path fill="#030405" d="M26 6h1v1h-1zM5 34h1v1h-1z"/>
<path fill="#0a0508" d="M27 6h1v1h-1zM37 15h1v1h-1zM14 34h1v1h-1zM26 42h1v1h-1z"/>
<path fill="#0c0417" d="M28 6h1v1h-1z"/>
<path fill="#08130a" d="M29 6h1v1h-1z"/>
<path fill="#05070b" d="M30 6h1v1h-1zM6 27h1v1h-1zM35 33h1v1h-1zM35 34h1v1h-1zM22 35h1v1h-1z"/>
<path fill="#31060a" d="M32 6h1v1h-1z"/>
<path fill="#081308" d="M33 6h1v1h-1z"/>
<path fill="#050607" d="M34 6h1v1h-1zM9 24h1v1h-1zM18 38h1v1h-1z"/>
<path fill="#04050a" d="M35 6h1v1h-1zM15 14h1v1h-1zM14 40h1v1h-1z"/>
<path fill="#061709" d="M36 6h1v1h-1z"/>
<path fill="#1d0808" d="M37 6h1v1h-1z"/>
<path fill="#0c0207" d="M38 6h1v1h-1zM34 20h1v1h-1zM20 40h1v1h-1z"/>
<path fill="#24060d" d="M39 6h1v1h-1z"/>
<path fill="#0b200f" d="M40 6h1v1h-1z"/>
<path fill="#34090d" d="M41 6h1v1h-1z"/>
<path fill="#240c11" d="M42 6h1v1h-1z"/>
<path fill="#0a060a" d="M43 6h1v1h-1z"/>
<path fill="#0b040b" d="M44 6h1v1h-1z"/>
<path fill="#270a09" d="M0 7h1v1h-1z"/>
<path fill="#06091a" d="M2 7h1v1h-1z"/>
<path fill="#090606" d="M4 7h1v1h-1zM12 23h1v1h-1z"/>
<path fill="#190607" d="M5 7h1v1h-1zM28 7h1v1h-1z"/>
<path fill="#0c0709" d="M6 7h1v1h-1z"/>
<path fill="#07020b" d="M7 7h1v1h-1zM40 13h1v1h-1z"/>
<path fill="#0a0406" d="M8 7h1v1h-1zM18 37h1v1h-1z"/>
<path fill="#0c0809" d="M11 7h1v1h-1z"/>
<path fill="#080408" d="M12 7h1v1h-1zM16 44h1v1h-1z"/>
<path fill="#050c19" d="M13 7h1v1h-1z"/>
<path fill="#080b16" d="M15 7h1v1h-1z"/>
<path fill="#0b0806" d="M16 7h1v1h-1z"/>
<path fill="#0b060b" d="M17 7h1v1h-1z"/>
<path fill="#03020a" d="M18 7h1v1h-1z"/>
<path fill="#0c0808" d="M19 7h1v1h-1z"/>
<path fill="#340a0c" d="M20 7h1v1h-1z"/>
<path fill="#071a10" d="M21 7h1v1h-1z"/>
<path fill="#0e1e09" d="M22 7h1v1h-1z"/>
<path fill="#09070c" d="M23 7h1v1h-1zM24 9h1v1h-1zM41 17h1v1h-1zM31 23h1v1h-1zM40 34h1v1h-1z"/>
<path fill="#080922" d="M24 7h1v1h-1z"/>
<path fill="#0b0926" d="M25 7h1v1h-1z"/>
<path fill="#04060b" d="M26 7h1v1h-1zM32 25h1v1h-1zM42 29h1v1h-1zM5 38h1v1h-1z"/>
<path fill="#20040b" d="M27 7h1v1h-1zM1 38h1v1h-1z"/>
<path fill="#0c180b" d="M29 7h1v1h-1z"/>
<path fill="#2a090e" d="M30 7h1v1h-1z"/>
<path fill="#0c020c" d="M32 7h1v1h-1zM34 9h1v1h-1zM0 36h1v1h-1z"/>
<path fill="#22080e" d="M34 7h1v1h-1z"/>
<path fill="#08110e" d="M35 7h1v1h-1z"/>
<path fill="#240a06" d="M36 7h1v1h-1z"/>
<path fill="#050508" d="M37 7h1v1h-1zM23 39h1v1h-1z"/>
<path fill="#1f0c10" d="M38 7h1v1h-1z"/>
<path fill="#070508" d="M39 7h1v1h-1z"/>
<path fill="#300507" d="M40 7h1v1h-1z"/>
<path fill="#0a0527" d="M42 7h1v1h-1z"/>
<path fill="#0a071c" d="M43 7h1v1h-1z"/>
<path fill="#0c1108" d="M44 7h1v1h-1z"/>
<path fill="#03060c" d="M0 8h1v1h-1zM44 28h1v1h-1zM7 37h1v1h-1z"/>
<path fill="#07140b" d="M1 8h1v1h-1z"/>
<path fill="#0b0508" d="M2 8h1v1h-1zM29 34h1v1h-1z"/>
<path fill="#0b0c19" d="M3 8h1v1h-1z"/>
<path fill="#0a1911" d="M4 8h1v1h-1z"/>
<path fill="#2a090f" d="M5 8h1v1h-1z"/>
<path fill="#0b030b" d="M7 8h1v1h-1zM5 11h1v1h-1z"/>
<path fill="#260810" d="M8 8h1v1h-1z"/>
<path fill="#091409" d="M9 8h1v1h-1z"/>
<path fill="#04060a" d="M10 8h1v1h-1z"/>
<path fill="#080304" d="M11 8h1v1h-1z"/>
<path fill="#070a27" d="M12 8h1v1h-1z"/>
<path fill="#07061b" d="M14 8h1v1h-1z"/>
<path fill="#080428" d="M15 8h1v1h-1z"/>
<path fill="#040307" d="M16 8h1v1h-1z"/>
<path fill="#060619" d="M17 8h1v1h-1z"/>
<path fill="#05070c" d="M19 8h1v1h-1zM10 34h1v1h-1z"/>
<path fill="#0a1c0d" d="M21 8h1v1h-1zM31 40h1v1h-1z"/>
<path fill="#310c0d" d="M22 8h1v1h-1z"/>
<path fill="#0c0308" d="M23 8h1v1h-1zM36 21h1v1h-1zM21 41h1v1h-1zM26 43h1v1h-1z"/>
<path fill="#09070b" d="M24 8h1v1h-1zM40 16h1v1h-1zM38 23h1v1h-1zM1 40h1v1h-1z"/>
<path fill="#0e1d0d" d="M25 8h1v1h-1z"/>
<path fill="#260911" d="M27 8h1v1h-1z"/>
<path fill="#23050b" d="M28 8h1v1h-1z"/>
<path fill="#360b0b" d="M30 8h1v1h-1z"/>
<path fill="#0c0407" d="M31 8h1v1h-1zM2 18h1v1h-1z"/>
<path fill="#0b0608" d="M32 8h1v1h-1zM30 29h1v1h-1z"/>
<path fill="#070609" d="M33 8h1v1h-1zM14 32h1v1h-1z"/>
<path fill="#07020a" d="M34 8h1v1h-1z"/>
<path fill="#06071b" d="M36 8h1v1h-1z"/>
<path fill="#0b0623" d="M39 8h1v1h-1z"/>
<path fill="#06050c" d="M40 8h1v1h-1z"/>
<path fill="#040704" d="M41 8h1v1h-1z"/>
<path fill="#04020c" d="M43 8h1v1h-1z"/>
<path fill="#09080c" d="M44 8h1v1h-1zM0 20h1v1h-1zM2 24h1v1h-1z"/>
<path fill="#090405" d="M0 9h1v1h-1zM39 27h1v1h-1z"/>
<path fill="#080308" d="M1 9h1v1h-1zM37 28h1v1h-1z"/>
<path fill="#37050d" d="M2 9h1v1h-1z"/>
<path fill="#06081d" d="M3 9h1v1h-1z"/>
<path fill="#0a1a13" d="M6 9h1v1h-1z"/>
<path fill="#050528" d="M7 9h1v1h-1z"/>
<path fill="#1b070d" d="M8 9h1v1h-1z"/>
<path fill="#050916" d="M9 9h1v1h-1zM39 22h1v1h-1z"/>
<path fill="#101e0c" d="M10 9h1v1h-1z"/>
<path fill="#05040b" d="M11 9h1v1h-1zM16 43h1v1h-1z"/>
<path fill="#0b060d" d="M12 9h1v1h-1zM41 20h1v1h-1zM30 36h1v1h-1z"/>
<path fill="#090408" d="M13 9h1v1h-1z"/>
<path fill="#1e0a10" d="M15 9h1v1h-1z"/>
<path fill="#32060e" d="M16 9h1v1h-1z"/>
<path fill="#060809" d="M17 9h1v1h-1zM6 37h1v1h-1z"/>
<path fill="#0c0918" d="M18 9h1v1h-1zM36 37h1v1h-1z"/>
<path fill="#1e050d" d="M19 9h1v1h-1z"/>
<path fill="#070306" d="M20 9h1v1h-1zM1 24h1v1h-1z"/>
<path fill="#0c0707" d="M21 9h1v1h-1z"/>
<path fill="#050526" d="M22 9h1v1h-1z"/>
<path fill="#180511" d="M23 9h1v1h-1z"/>
<path fill="#0c0509" d="M25 9h1v1h-1zM29 30h1v1h-1z"/>
<path fill="#06100d" d="M26 9h1v1h-1z"/>
<path fill="#090305" d="M27 9h1v1h-1zM13 37h1v1h-1z"/>
<path fill="#28090b" d="M28 9h1v1h-1z"/>
<path fill="#31070c" d="M29 9h1v1h-1z"/>
<path fill="#2a0b10" d="M30 9h1v1h-1z"/>
<path fill="#06050b" d="M31 9h1v1h-1zM32 34h1v1h-1zM28 37h1v1h-1z"/>
<path fill="#061a0b" d="M32 9h1v1h-1z"/>
<path fill="#0c1b09" d="M33 9h1v1h-1z"/>
<path fill="#060405" d="M35 9h1v1h-1zM16 10h1v1h-1z"/>
<path fill="#190909" d="M36 9h1v1h-1z"/>
<path fill="#0f1f0c" d="M37 9h1v1h-1z"/>
<path fill="#0c0507" d="M38 9h1v1h-1z"/>
<path fill="#090708" d="M39 9h1v1h-1zM7 20h1v1h-1z"/>
<path fill="#05050c" d="M42 9h1v1h-1z"/>
<path fill="#290609" d="M43 9h1v1h-1z"/>
<path fill="#080514" d="M44 9h1v1h-1zM30 13h1v1h-1z"/>
<path fill="#0a0807" d="M0 10h1v1h-1zM14 43h1v1h-1z"/>
<path fill="#090204" d="M1 10h1v1h-1z"/>
<path fill="#2c0406" d="M2 10h1v1h-1z"/>
<path fill="#0a0204" d="M3 10h1v1h-1z"/>
<path fill="#080821" d="M4 10h1v1h-1z"/>
<path fill="#050a26" d="M6 10h1v1h-1z"/>
<path fill="#370709" d="M7 10h1v1h-1z"/>
<path fill="#300a0e" d="M8 10h1v1h-1z"/>
<path fill="#0b0306" d="M9 10h1v1h-1zM11 20h1v1h-1zM9 35h1v1h-1zM18 43h1v1h-1z"/>
<path fill="#2e080e" d="M10 10h1v1h-1z"/>
<path fill="#2e0b07" d="M12 10h1v1h-1z"/>
<path fill="#0a050b" d="M17 10h1v1h-1z"/>
<path fill="#080605" d="M18 10h1v1h-1zM12 16h1v1h-1z"/>
<path fill="#0c020e" d="M19 10h1v1h-1z"/>
<path fill="#1c0b10" d="M21 10h1v1h-1z"/>
<path fill="#0a091f" d="M22 10h1v1h-1z"/>
<path fill="#04050e" d="M23 10h1v1h-1z"/>
<path fill="#0a0823" d="M24 10h1v1h-1z"/>
<path fill="#091317" d="M25 10h1v1h-1z"/>
<path fill="#090709" d="M26 10h1v1h-1zM34 19h1v1h-1zM42 28h1v1h-1zM30 31h1v1h-1zM31 42h1v1h-1z"/>
<path fill="#09050e" d="M27 10h1v1h-1z"/>
<path fill="#0c0c1f" d="M28 10h1v1h-1z"/>
<path fill="#0a0505" d="M29 10h1v1h-1z"/>
<path fill="#050208" d="M30 10h1v1h-1zM32 32h1v1h-1z"/>
<path fill="#040806" d="M31 10h1v1h-1zM15 11h1v1h-1zM36 15h1v1h-1z"/>
<path fill="#0b0205" d="M32 10h1v1h-1zM2 15h1v1h-1zM38 19h1v1h-1z"/>
<path fill="#1f080e" d="M33 10h1v1h-1z"/>
<path fill="#090506" d="M34 10h1v1h-1z"/>
<path fill="#2f0a0d" d="M35 10h1v1h-1z"/>
<path fill="#0b0c12" d="M36 10h1v1h-1z"/>
<path fill="#091b0b" d="M39 10h1v1h-1z"/>
<path fill="#080305" d="M40 10h1v1h-1z"/>
<path fill="#080723" d="M41 10h1v1h-1z"/>
<path fill="#111b08" d="M42 10h1v1h-1z"/>
<path fill="#070807" d="M43 10h1v1h-1zM11 31h1v1h-1z"/>
<path fill="#07080d" d="M44 10h1v1h-1z"/>
<path fill="#210909" d="M0 11h1v1h-1zM38 26h1v1h-1z"/>
<path fill="#090718" d="M1 11h1v1h-1z"/>
<path fill="#0b0805" d="M2 11h1v1h-1zM0 29h1v1h-1z"/>
<path fill="#070405" d="M6 11h1v1h-1z"/>
<path fill="#350a11" d="M7 11h1v1h-1z"/>
<path fill="#070815" d="M8 11h1v1h-1z"/>
<path fill="#061214" d="M11 11h1v1h-1z"/>
<path fill="#0c051f" d="M12 11h1v1h-1z"/>
<path fill="#0a0806" d="M14 11h1v1h-1zM41 25h1v1h-1z"/>
<path fill="#0b081e" d="M16 11h1v1h-1z"/>
<path fill="#06080c" d="M17 11h1v1h-1zM34 27h1v1h-1z"/>
<path fill="#090913" d="M18 11h1v1h-1z"/>
<path fill="#080510" d="M19 11h1v1h-1z"/>
<path fill="#0a0312" d="M20 11h1v1h-1z"/>
<path fill="#1c0714" d="M21 11h1v1h-1z"/>
<path fill="#080817" d="M22 11h1v1h-1zM31 14h1v1h-1z"/>
<path fill="#11121f" d="M23 11h1v1h-1z"/>
<path fill="#1f071d" d="M24 11h1v1h-1z"/>
<path fill="#080819" d="M25 11h1v1h-1z"/>
<path fill="#08051b" d="M26 11h1v1h-1z"/>
<path fill="#0b0811" d="M27 11h1v1h-1z"/>
<path fill="#0a0712" d="M28 11h1v1h-1z"/>
<path fill="#050809" d="M29 11h1v1h-1zM31 31h1v1h-1z"/>
<path fill="#060807" d="M30 11h1v1h-1zM5 17h1v1h-1zM2 32h1v1h-1z"/>
<path fill="#090418" d="M31 11h1v1h-1z"/>
<path fill="#270407" d="M32 11h1v1h-1z"/>
<path fill="#0c0409" d="M34 11h1v1h-1zM9 40h1v1h-1z"/>
<path fill="#030807" d="M35 11h1v1h-1zM34 13h1v1h-1z"/>
<path fill="#03030d" d="M36 11h1v1h-1zM33 12h1v1h-1zM43 18h1v1h-1z"/>
<path fill="#08050c" d="M37 11h1v1h-1zM15 44h1v1h-1z"/>
<path fill="#31060e" d="M40 11h1v1h-1z"/>
<path fill="#0a080a" d="M41 11h1v1h-1zM6 34h1v1h-1z"/>
<path fill="#11200d" d="M42 11h1v1h-1z"/>
<path fill="#09061b" d="M43 11h1v1h-1z"/>
<path fill="#09060a" d="M0 12h1v1h-1z"/>
<path fill="#040709" d="M1 12h1v1h-1z"/>
<path fill="#30090d" d="M2 12h1v1h-1z"/>
<path fill="#0b0c22" d="M4 12h1v1h-1z"/>
<path fill="#060808" d="M5 12h1v1h-1z"/>
<path fill="#2f050d" d="M6 12h1v1h-1z"/>
<path fill="#090706" d="M7 12h1v1h-1zM28 38h1v1h-1zM33 38h1v1h-1z"/>
<path fill="#0a1310" d="M8 12h1v1h-1z"/>
<path fill="#24070e" d="M11 12h1v1h-1z"/>
<path fill="#04091b" d="M13 12h1v1h-1z"/>
<path fill="#0d1e0c" d="M14 12h1v1h-1zM13 38h1v1h-1z"/>
<path fill="#091f09" d="M16 12h1v1h-1z"/>
<path fill="#0c051d" d="M17 12h1v1h-1z"/>
<path fill="#06030f" d="M18 12h1v1h-1z"/>
<path fill="#180715" d="M19 12h1v1h-1z"/>
<path fill="#0a0821" d="M20 12h1v1h-1z"/>
<path fill="#0e0b36" d="M21 12h1v1h-1z"/>
<path fill="#161351" d="M22 12h1v1h-1z"/>
<path fill="#191564" d="M23 12h1v1h-1z"/>
<path fill="#1b166a" d="M24 12h1v1h-1zM28 13h1v1h-1z"/>
<path fill="#1a1565" d="M25 12h1v1h-1z"/>
<path fill="#161257" d="M26 12h1v1h-1z"/>
<path fill="#1f0e3e" d="M27 12h1v1h-1z"/>
<path fill="#0b082b" d="M28 12h1v1h-1z"/>
<path fill="#070611" d="M29 12h1v1h-1z"/>
<path fill="#09080b" d="M30 12h1v1h-1zM29 37h1v1h-1z"/>
<path fill="#050509" d="M32 12h1v1h-1zM4 38h1v1h-1zM12 43h1v1h-1z"/>
<path fill="#0c071e" d="M34 12h1v1h-1zM33 18h1v1h-1z"/>
<path fill="#090825" d="M35 12h1v1h-1z"/>
<path fill="#240409" d="M36 12h1v1h-1z"/>
<path fill="#0a0407" d="M37 12h1v1h-1z"/>
<path fill="#340b12" d="M38 12h1v1h-1z"/>
<path fill="#0c080b" d="M39 12h1v1h-1z"/>
<path fill="#05080a" d="M40 12h1v1h-1z"/>
<path fill="#09080d" d="M41 12h1v1h-1zM33 26h1v1h-1z"/>
<path fill="#060505" d="M42 12h1v1h-1z"/>
<path fill="#121a14" d="M43 12h1v1h-1z"/>
<path fill="#080a26" d="M44 12h1v1h-1z"/>
<path fill="#090309" d="M0 13h1v1h-1z"/>
<path fill="#07040d" d="M1 13h1v1h-1zM9 13h1v1h-1zM42 15h1v1h-1z"/>
<path fill="#070707" d="M2 13h1v1h-1z"/>
<path fill="#111b12" d="M3 13h1v1h-1z"/>
<path fill="#060607" d="M4 13h1v1h-1zM35 28h1v1h-1z"/>
<path fill="#080b19" d="M5 13h1v1h-1z"/>
<path fill="#03070d" d="M7 13h1v1h-1zM41 43h1v1h-1z"/>
<path fill="#03080d" d="M8 13h1v1h-1z"/>
<path fill="#0c061a" d="M10 13h1v1h-1zM39 32h1v1h-1z"/>
<path fill="#101e09" d="M13 13h1v1h-1z"/>
<path fill="#0b0f11" d="M14 13h1v1h-1z"/>
<path fill="#03060b" d="M15 13h1v1h-1z"/>
<path fill="#080926" d="M17 13h1v1h-1z"/>
<path fill="#0a0810" d="M18 13h1v1h-1z"/>
<path fill="#0b0722" d="M19 13h1v1h-1zM31 21h1v1h-1z"/>
<path fill="#14104d" d="M20 13h1v1h-1z"/>
<path fill="#211b7f" d="M21 13h1v1h-1zM24 30h1v1h-1z"/>
<path fill="#2c249c" d="M22 13h1v1h-1zM28 14h1v1h-1zM17 22h1v1h-1z"/>
<path fill="#342ab0" d="M23 13h1v1h-1z"/>
<path fill="#372cb6" d="M24 13h1v1h-1z"/>
<path fill="#362bb3" d="M25 13h1v1h-1z"/>
<path fill="#3127a7" d="M26 13h1v1h-1zM18 21h1v1h-1z"/>
<path fill="#27208d" d="M27 13h1v1h-1z"/>
<path fill="#160a2e" d="M29 13h1v1h-1z"/>
<path fill="#10180c" d="M31 13h1v1h-1z"/>
<path fill="#0b0707" d="M32 13h1v1h-1zM1 22h1v1h-1zM14 35h1v1h-1z"/>
<path fill="#200b0a" d="M33 13h1v1h-1z"/>
<path fill="#080206" d="M35 13h1v1h-1zM39 26h1v1h-1z"/>
<path fill="#2c040d" d="M36 13h1v1h-1z"/>
<path fill="#320707" d="M37 13h1v1h-1z"/>
<path fill="#0d1609" d="M41 13h1v1h-1z"/>
<path fill="#0c070d" d="M42 13h1v1h-1z"/>
<path fill="#060b1f" d="M44 13h1v1h-1z"/>
<path fill="#250509" d="M0 14h1v1h-1zM33 31h1v1h-1z"/>
<path fill="#050205" d="M1 14h1v1h-1zM12 28h1v1h-1z"/>
<path fill="#030806" d="M2 14h1v1h-1z"/>
<path fill="#0f190f" d="M3 14h1v1h-1z"/>
<path fill="#0a0405" d="M4 14h1v1h-1zM4 31h1v1h-1zM40 44h1v1h-1z"/>
<path fill="#040809" d="M5 14h1v1h-1z"/>
<path fill="#030209" d="M6 14h1v1h-1zM29 35h1v1h-1z"/>
<path fill="#05061a" d="M7 14h1v1h-1z"/>
<path fill="#340810" d="M8 14h1v1h-1z"/>
<path fill="#0a0704" d="M9 14h1v1h-1zM42 39h1v1h-1z"/>
<path fill="#23060e" d="M11 14h1v1h-1z"/>
<path fill="#050924" d="M12 14h1v1h-1z"/>
<path fill="#0a061e" d="M13 14h1v1h-1zM16 19h1v1h-1z"/>
<path fill="#070b27" d="M14 14h1v1h-1z"/>
<path fill="#0c080f" d="M16 14h1v1h-1z"/>
<path fill="#09070f" d="M17 14h1v1h-1zM32 17h1v1h-1z"/>
<path fill="#0e1520" d="M18 14h1v1h-1z"/>
<path fill="#120f41" d="M19 14h1v1h-1zM28 24h1v1h-1z"/>
<path fill="#221c83" d="M20 14h1v1h-1z"/>
<path fill="#382db8" d="M21 14h1v1h-1z"/>
<path fill="#5242d6" d="M22 14h1v1h-1z"/>
<path fill="#6552e8" d="M23 14h1v1h-1z"/>
<path fill="#6b59ec" d="M24 14h1v1h-1z"/>
<path fill="#6a56eb" d="M25 14h1v1h-1zM21 16h1v1h-1z"/>
<path fill="#5e4ce1" d="M26 14h1v1h-1zM20 29h1v1h-1z"/>
<path fill="#4638cc" d="M27 14h1v1h-1zM19 21h1v1h-1z"/>
<path fill="#18145e" d="M29 14h1v1h-1z"/>
<path fill="#0c071f" d="M30 14h1v1h-1z"/>
<path fill="#320712" d="M32 14h1v1h-1z"/>
<path fill="#270a0e" d="M33 14h1v1h-1z"/>
<path fill="#09080a" d="M34 14h1v1h-1z"/>
<path fill="#050804" d="M35 14h1v1h-1zM3 33h1v1h-1z"/>
<path fill="#0a0b15" d="M36 14h1v1h-1z"/>
<path fill="#111412" d="M37 14h1v1h-1z"/>
<path fill="#090926" d="M38 14h1v1h-1z"/>
<path fill="#240410" d="M39 14h1v1h-1z"/>
<path fill="#060504" d="M41 14h1v1h-1zM26 35h1v1h-1z"/>
<path fill="#0c0505" d="M43 14h1v1h-1zM6 19h1v1h-1zM26 36h1v1h-1z"/>
<path fill="#09020a" d="M44 14h1v1h-1z"/>
<path fill="#250708" d="M1 15h1v1h-1z"/>
<path fill="#1c0706" d="M3 15h1v1h-1z"/>
<path fill="#0b190f" d="M4 15h1v1h-1z"/>
<path fill="#08020b" d="M6 15h1v1h-1z"/>
<path fill="#090517" d="M9 15h1v1h-1z"/>
<path fill="#080806" d="M10 15h1v1h-1zM2 28h1v1h-1z"/>
<path fill="#050621" d="M11 15h1v1h-1z"/>
<path fill="#0c050c" d="M12 15h1v1h-1z"/>
<path fill="#050a14" d="M13 15h1v1h-1z"/>
<path fill="#07150d" d="M14 15h1v1h-1z"/>
<path fill="#070618" d="M15 15h1v1h-1z"/>
<path fill="#0c060b" d="M16 15h1v1h-1zM41 16h1v1h-1z"/>
<path fill="#070515" d="M17 15h1v1h-1z"/>
<path fill="#0d0b29" d="M18 15h1v1h-1z"/>
<path fill="#1b166c" d="M19 15h1v1h-1zM27 25h1v1h-1z"/>
<path fill="#3027a5" d="M20 15h1v1h-1zM22 30h1v1h-1z"/>
<path fill="#5444d8" d="M21 15h1v1h-1z"/>
<path fill="#7b72f2" d="M22 15h1v1h-1z"/>
<path fill="#97a1f9" d="M23 15h1v1h-1z"/>
<path fill="#a1b4f6" d="M24 15h1v1h-1zM23 20h1v1h-1z"/>
<path fill="#9fb0f7" d="M25 15h1v1h-1z"/>
<path fill="#8e91f9" d="M26 15h1v1h-1z"/>
<path fill="#6d5ced" d="M27 15h1v1h-1z"/>
<path fill="#4134c7" d="M28 15h1v1h-1z"/>
<path fill="#211c81" d="M29 15h1v1h-1z"/>
<path fill="#0e0a2c" d="M30 15h1v1h-1z"/>
<path fill="#0d1111" d="M31 15h1v1h-1z"/>
<path fill="#090c22" d="M32 15h1v1h-1z"/>
<path fill="#0a190e" d="M33 15h1v1h-1z"/>
<path fill="#0f120c" d="M35 15h1v1h-1z"/>
<path fill="#070308" d="M38 15h1v1h-1z"/>
<path fill="#04080c" d="M40 15h1v1h-1zM43 26h1v1h-1zM40 31h1v1h-1z"/>
<path fill="#0c030c" d="M41 15h1v1h-1zM41 32h1v1h-1zM44 42h1v1h-1z"/>
<path fill="#330c0e" d="M44 15h1v1h-1z"/>
<path fill="#08061d" d="M0 16h1v1h-1z"/>
<path fill="#1f050c" d="M2 16h1v1h-1z"/>
<path fill="#260c12" d="M3 16h1v1h-1z"/>
<path fill="#04040c" d="M4 16h1v1h-1zM37 31h1v1h-1z"/>
<path fill="#092013" d="M6 16h1v1h-1z"/>
<path fill="#0c050d" d="M7 16h1v1h-1zM14 38h1v1h-1z"/>
<path fill="#0c0704" d="M8 16h1v1h-1z"/>
<path fill="#0b110d" d="M10 16h1v1h-1z"/>
<path fill="#290809" d="M13 16h1v1h-1zM3 25h1v1h-1z"/>
<path fill="#0b0209" d="M14 16h1v1h-1z"/>
<path fill="#07050e" d="M15 16h1v1h-1z"/>
<path fill="#1c080e" d="M16 16h1v1h-1z"/>
<path fill="#0b082c" d="M17 16h1v1h-1z"/>
<path fill="#100f3e" d="M18 16h1v1h-1z"/>
<path fill="#201b7e" d="M19 16h1v1h-1z"/>
<path fill="#3b2fc0" d="M20 16h1v1h-1z"/>
<path fill="#98a3f8" d="M22 16h1v1h-1z"/>
<path fill="#bee5eb" d="M23 16h1v1h-1z"/>
<path fill="#cbefde" d="M24 16h1v1h-1z"/>
<path fill="#c8ede1" d="M25 16h1v1h-1zM24 19h1v1h-1zM22 24h1v1h-1z"/>
<path fill="#b4d7f1" d="M26 16h1v1h-1zM23 26h1v1h-1z"/>
<path fill="#8684f6" d="M27 16h1v1h-1z"/>
<path fill="#5142d6" d="M28 16h1v1h-1z"/>
<path fill="#282192" d="M29 16h1v1h-1z"/>
<path fill="#110c39" d="M30 16h1v1h-1z"/>
<path fill="#060510" d="M31 16h1v1h-1z"/>
<path fill="#081411" d="M32 16h1v1h-1z"/>
<path fill="#0d1d0c" d="M33 16h1v1h-1z"/>
<path fill="#0b040d" d="M34 16h1v1h-1z"/>
<path fill="#090c26" d="M35 16h1v1h-1z"/>
<path fill="#060409" d="M36 16h1v1h-1z"/>
<path fill="#350811" d="M37 16h1v1h-1z"/>
<path fill="#0f1a0f" d="M38 16h1v1h-1z"/>
<path fill="#0b0913" d="M42 16h1v1h-1z"/>
<path fill="#1a080b" d="M44 16h1v1h-1z"/>
<path fill="#0a0609" d="M0 17h1v1h-1zM6 22h1v1h-1zM31 38h1v1h-1z"/>
<path fill="#330409" d="M1 17h1v1h-1z"/>
<path fill="#090a1d" d="M3 17h1v1h-1z"/>
<path fill="#060305" d="M6 17h1v1h-1zM22 40h1v1h-1z"/>
<path fill="#060c21" d="M8 17h1v1h-1z"/>
<path fill="#070304" d="M10 17h1v1h-1zM27 41h1v1h-1z"/>
<path fill="#070207" d="M11 17h1v1h-1z"/>
<path fill="#03070b" d="M12 17h1v1h-1zM25 34h1v1h-1z"/>
<path fill="#240408" d="M13 17h1v1h-1z"/>
<path fill="#0a070c" d="M14 17h1v1h-1zM35 43h1v1h-1z"/>
<path fill="#080515" d="M15 17h1v1h-1z"/>
<path fill="#0c0512" d="M16 17h1v1h-1z"/>
<path fill="#0a0921" d="M17 17h1v1h-1z"/>
<path fill="#151049" d="M18 17h1v1h-1z"/>
<path fill="#251e89" d="M19 17h1v1h-1zM27 23h1v1h-1z"/>
<path fill="#4235c8" d="M20 17h1v1h-1zM28 20h1v1h-1z"/>
<path fill="#7365ef" d="M21 17h1v1h-1z"/>
<path fill="#a5bcf5" d="M22 17h1v1h-1z"/>
<path fill="#ccf0dd" d="M23 17h1v1h-1z"/>
<path fill="#d2f5d7" d="M24 17h1v1h-1zM25 17h1v1h-1zM24 18h1v1h-1zM25 18h1v1h-1zM20 25h1v1h-1zM21 25h1v1h-1zM22 25h1v1h-1zM20 26h1v1h-1zM21 26h1v1h-1zM22 26h1v1h-1z"/>
<path fill="#c1e7e8" d="M26 17h1v1h-1zM26 18h1v1h-1z"/>
<path fill="#9094fa" d="M27 17h1v1h-1z"/>
<path fill="#5847dc" d="M28 17h1v1h-1z"/>
<path fill="#2b2399" d="M29 17h1v1h-1z"/>
<path fill="#110e40" d="M30 17h1v1h-1z"/>
<path fill="#080717" d="M31 17h1v1h-1z"/>
<path fill="#070a14" d="M33 17h1v1h-1z"/>
<path fill="#090507" d="M34 17h1v1h-1zM35 17h1v1h-1z"/>
<path fill="#050722" d="M38 17h1v1h-1z"/>
<path fill="#06040d" d="M39 17h1v1h-1z"/>
<path fill="#09091f" d="M40 17h1v1h-1z"/>
<path fill="#080c1e" d="M43 17h1v1h-1zM23 44h1v1h-1z"/>
<path fill="#0c0404" d="M44 17h1v1h-1zM44 19h1v1h-1z"/>
<path fill="#2a0c07" d="M0 18h1v1h-1z"/>
<path fill="#33090d" d="M1 18h1v1h-1z"/>
<path fill="#04050d" d="M3 18h1v1h-1z"/>
<path fill="#0b080d" d="M4 18h1v1h-1z"/>
<path fill="#0b0412" d="M5 18h1v1h-1z"/>
<path fill="#06070a" d="M6 18h1v1h-1zM31 39h1v1h-1z"/>
<path fill="#0b061c" d="M7 18h1v1h-1z"/>
<path fill="#080306" d="M8 18h1v1h-1zM34 34h1v1h-1z"/>
<path fill="#0c0a14" d="M9 18h1v1h-1z"/>
<path fill="#0c030a" d="M10 18h1v1h-1zM26 32h1v1h-1z"/>
<path fill="#08030a" d="M11 18h1v1h-1z"/>
<path fill="#0c0805" d="M13 18h1v1h-1z"/>
<path fill="#26090f" d="M15 18h1v1h-1z"/>
<path fill="#070918" d="M16 18h1v1h-1zM7 22h1v1h-1z"/>
<path fill="#0c0b2e" d="M17 18h1v1h-1z"/>
<path fill="#1a145e" d="M18 18h1v1h-1z"/>
<path fill="#292193" d="M19 18h1v1h-1z"/>
<path fill="#4739cd" d="M20 18h1v1h-1zM26 22h1v1h-1z"/>
<path fill="#776bf0" d="M21 18h1v1h-1z"/>
<path fill="#a8c1f4" d="M22 18h1v1h-1z"/>
<path fill="#cdf1dc" d="M23 18h1v1h-1zM21 24h1v1h-1z"/>
<path fill="#9195fa" d="M27 18h1v1h-1z"/>
<path fill="#5948dd" d="M28 18h1v1h-1z"/>
<path fill="#2c249b" d="M29 18h1v1h-1z"/>
<path fill="#130e44" d="M30 18h1v1h-1z"/>
<path fill="#070814" d="M31 18h1v1h-1z"/>
<path fill="#0b020f" d="M32 18h1v1h-1z"/>
<path fill="#0a0707" d="M34 18h1v1h-1z"/>
<path fill="#050b1e" d="M35 18h1v1h-1z"/>
<path fill="#090b22" d="M36 18h1v1h-1z"/>
<path fill="#0b120b" d="M37 18h1v1h-1z"/>
<path fill="#1b0c07" d="M38 18h1v1h-1z"/>
<path fill="#0e1c09" d="M39 18h1v1h-1z"/>
<path fill="#091411" d="M40 18h1v1h-1z"/>
<path fill="#07140c" d="M41 18h1v1h-1z"/>
<path fill="#060b1d" d="M42 18h1v1h-1z"/>
<path fill="#0b0923" d="M44 18h1v1h-1z"/>
<path fill="#0c040a" d="M0 19h1v1h-1z"/>
<path fill="#0b0704" d="M1 19h1v1h-1zM3 29h1v1h-1z"/>
<path fill="#040a1e" d="M2 19h1v1h-1z"/>
<path fill="#040306" d="M3 19h1v1h-1z"/>
<path fill="#050408" d="M4 19h1v1h-1z"/>
<path fill="#370508" d="M5 19h1v1h-1z"/>
<path fill="#04071a" d="M9 19h1v1h-1z"/>
<path fill="#0a0506" d="M10 19h1v1h-1z"/>
<path fill="#0c0624" d="M11 19h1v1h-1z"/>
<path fill="#0c140e" d="M12 19h1v1h-1z"/>
<path fill="#04060d" d="M13 19h1v1h-1z"/>
<path fill="#070709" d="M14 19h1v1h-1zM7 41h1v1h-1z"/>
<path fill="#070412" d="M15 19h1v1h-1z"/>
<path fill="#100c37" d="M17 19h1v1h-1z"/>
<path fill="#1d1872" d="M18 19h1v1h-1z"/>
<path fill="#2d259e" d="M19 19h1v1h-1z"/>
<path fill="#4b3cd0" d="M20 19h1v1h-1z"/>
<path fill="#7569f0" d="M21 19h1v1h-1z"/>
<path fill="#9fb1f6" d="M22 19h1v1h-1z"/>
<path fill="#bfe6ea" d="M23 19h1v1h-1z"/>
<path fill="#c4eae5" d="M25 19h1v1h-1z"/>
<path fill="#b0cff2" d="M26 19h1v1h-1z"/>
<path fill="#8482f5" d="M27 19h1v1h-1z"/>
<path fill="#5242d7" d="M28 19h1v1h-1z"/>
<path fill="#2a2295" d="M29 19h1v1h-1z"/>
<path fill="#130f47" d="M30 19h1v1h-1z"/>
<path fill="#090720" d="M31 19h1v1h-1z"/>
<path fill="#320b0d" d="M32 19h1v1h-1z"/>
<path fill="#08070b" d="M33 19h1v1h-1z"/>
<path fill="#06041e" d="M35 19h1v1h-1z"/>
<path fill="#05060b" d="M37 19h1v1h-1zM3 20h1v1h-1z"/>
<path fill="#0a160a" d="M39 19h1v1h-1z"/>
<path fill="#070809" d="M41 19h1v1h-1z"/>
<path fill="#080209" d="M42 19h1v1h-1zM41 28h1v1h-1zM30 39h1v1h-1zM5 44h1v1h-1z"/>
<path fill="#111913" d="M43 19h1v1h-1z"/>
<path fill="#070705" d="M1 20h1v1h-1zM12 26h1v1h-1zM43 27h1v1h-1zM10 42h1v1h-1z"/>
<path fill="#03070a" d="M2 20h1v1h-1z"/>
<path fill="#090808" d="M4 20h1v1h-1z"/>
<path fill="#1c0c11" d="M5 20h1v1h-1z"/>
<path fill="#0f1909" d="M6 20h1v1h-1z"/>
<path fill="#0b0304" d="M8 20h1v1h-1zM43 36h1v1h-1z"/>
<path fill="#0c040b" d="M9 20h1v1h-1zM40 35h1v1h-1zM39 44h1v1h-1z"/>
<path fill="#0a0608" d="M10 20h1v1h-1zM11 28h1v1h-1zM38 33h1v1h-1z"/>
<path fill="#350a0e" d="M12 20h1v1h-1z"/>
<path fill="#30080b" d="M13 20h1v1h-1z"/>
<path fill="#080512" d="M15 20h1v1h-1z"/>
<path fill="#0d0828" d="M16 20h1v1h-1z"/>
<path fill="#161255" d="M17 20h1v1h-1zM21 31h1v1h-1z"/>
<path fill="#231d85" d="M18 20h1v1h-1zM29 20h1v1h-1zM17 29h1v1h-1z"/>
<path fill="#352bb1" d="M19 20h1v1h-1z"/>
<path fill="#4f40d4" d="M20 20h1v1h-1z"/>
<path fill="#7061ee" d="M21 20h1v1h-1z"/>
<path fill="#8e90f9" d="M22 20h1v1h-1z"/>
<path fill="#a5bbf5" d="M24 20h1v1h-1z"/>
<path fill="#9eaef7" d="M25 20h1v1h-1z"/>
<path fill="#8b8cf8" d="M26 20h1v1h-1zM19 23h1v1h-1z"/>
<path fill="#6c59ec" d="M27 20h1v1h-1z"/>
<path fill="#160b37" d="M30 20h1v1h-1z"/>
<path fill="#08050f" d="M31 20h1v1h-1z"/>
<path fill="#040608" d="M32 20h1v1h-1zM43 37h1v1h-1z"/>
<path fill="#0a080c" d="M33 20h1v1h-1z"/>
<path fill="#090704" d="M35 20h1v1h-1zM8 27h1v1h-1z"/>
<path fill="#090705" d="M36 20h1v1h-1z"/>
<path fill="#030308" d="M37 20h1v1h-1z"/>
<path fill="#080b1d" d="M38 20h1v1h-1z"/>
<path fill="#0a060c" d="M39 20h1v1h-1z"/>
<path fill="#09050a" d="M40 20h1v1h-1z"/>
<path fill="#070209" d="M42 20h1v1h-1z"/>
<path fill="#1b070b" d="M1 21h1v1h-1z"/>
<path fill="#200609" d="M3 21h1v1h-1z"/>
<path fill="#030607" d="M7 21h1v1h-1zM38 36h1v1h-1z"/>
<path fill="#05030d" d="M8 21h1v1h-1z"/>
<path fill="#080608" d="M9 21h1v1h-1zM12 22h1v1h-1z"/>
<path fill="#0c0705" d="M10 21h1v1h-1z"/>
<path fill="#200a12" d="M11 21h1v1h-1zM5 41h1v1h-1z"/>
<path fill="#070309" d="M12 21h1v1h-1z"/>
<path fill="#0a070b" d="M13 21h1v1h-1z"/>
<path fill="#0a030c" d="M14 21h1v1h-1z"/>
<path fill="#070616" d="M15 21h1v1h-1z"/>
<path fill="#180d3c" d="M16 21h1v1h-1z"/>
<path fill="#1f1a7b" d="M17 21h1v1h-1z"/>
<path fill="#5d4ce1" d="M20 21h1v1h-1z"/>
<path fill="#7264ef" d="M21 21h1v1h-1z"/>
<path fill="#837ef5" d="M22 21h1v1h-1z"/>
<path fill="#8989f7" d="M23 21h1v1h-1z"/>
<path fill="#8481f5" d="M24 21h1v1h-1z"/>
<path fill="#786df1" d="M25 21h1v1h-1z"/>
<path fill="#6652e8" d="M26 21h1v1h-1z"/>
<path fill="#4a3cd0" d="M27 21h1v1h-1zM17 25h1v1h-1z"/>
<path fill="#2f26a3" d="M28 21h1v1h-1zM20 30h1v1h-1z"/>
<path fill="#1b176d" d="M29 21h1v1h-1z"/>
<path fill="#0c0926" d="M30 21h1v1h-1z"/>
<path fill="#23090b" d="M32 21h1v1h-1z"/>
<path fill="#030809" d="M33 21h1v1h-1z"/>
<path fill="#070805" d="M35 21h1v1h-1zM10 29h1v1h-1z"/>
<path fill="#2e060b" d="M38 21h1v1h-1z"/>
<path fill="#350608" d="M39 21h1v1h-1z"/>
<path fill="#06020d" d="M40 21h1v1h-1zM28 40h1v1h-1z"/>
<path fill="#040c27" d="M41 21h1v1h-1z"/>
<path fill="#2b0506" d="M42 21h1v1h-1zM41 40h1v1h-1z"/>
<path fill="#08040b" d="M43 21h1v1h-1z"/>
<path fill="#050808" d="M0 22h1v1h-1zM35 22h1v1h-1z"/>
<path fill="#270c07" d="M2 22h1v1h-1z"/>
<path fill="#0a0206" d="M4 22h1v1h-1z"/>
<path fill="#101e08" d="M8 22h1v1h-1z"/>
<path fill="#0b0606" d="M9 22h1v1h-1z"/>
<path fill="#040713" d="M10 22h1v1h-1z"/>
<path fill="#26090e" d="M11 22h1v1h-1z"/>
<path fill="#0a0a17" d="M13 22h1v1h-1z"/>
<path fill="#060612" d="M14 22h1v1h-1z"/>
<path fill="#09092c" d="M15 22h1v1h-1z"/>
<path fill="#181460" d="M16 22h1v1h-1z"/>
<path fill="#483ace" d="M18 22h1v1h-1z"/>
<path fill="#6753e9" d="M19 22h1v1h-1z"/>
<path fill="#7a71f1" d="M20 22h1v1h-1zM18 24h1v1h-1z"/>
<path fill="#8685f6" d="M21 22h1v1h-1z"/>
<path fill="#8d8ff8" d="M22 22h1v1h-1z"/>
<path fill="#8786f6" d="M23 22h1v1h-1z"/>
<path fill="#766bf0" d="M24 22h1v1h-1z"/>
<path fill="#604ee3" d="M25 22h1v1h-1z"/>
<path fill="#3228aa" d="M27 22h1v1h-1z"/>
<path fill="#211b7e" d="M28 22h1v1h-1z"/>
<path fill="#110e44" d="M29 22h1v1h-1z"/>
<path fill="#10121c" d="M30 22h1v1h-1z"/>
<path fill="#250b0e" d="M31 22h1v1h-1z"/>
<path fill="#27070b" d="M32 22h1v1h-1z"/>
<path fill="#040414" d="M33 22h1v1h-1z"/>
<path fill="#03020b" d="M34 22h1v1h-1z"/>
<path fill="#28040b" d="M36 22h1v1h-1z"/>
<path fill="#28050f" d="M37 22h1v1h-1z"/>
<path fill="#040404" d="M38 22h1v1h-1z"/>
<path fill="#0a180b" d="M40 22h1v1h-1z"/>
<path fill="#0b0715" d="M42 22h1v1h-1z"/>
<path fill="#2f0510" d="M43 22h1v1h-1z"/>
<path fill="#111713" d="M1 23h1v1h-1z"/>
<path fill="#0c0306" d="M2 23h1v1h-1z"/>
<path fill="#050a20" d="M3 23h1v1h-1z"/>
<path fill="#080708" d="M4 23h1v1h-1zM9 30h1v1h-1z"/>
<path fill="#050505" d="M6 23h1v1h-1z"/>
<path fill="#04040a" d="M8 23h1v1h-1z"/>
<path fill="#0b0726" d="M9 23h1v1h-1z"/>
<path fill="#0f180a" d="M11 23h1v1h-1z"/>
<path fill="#07060c" d="M13 23h1v1h-1zM34 37h1v1h-1z"/>
<path fill="#0a0711" d="M14 23h1v1h-1z"/>
<path fill="#0e0a29" d="M15 23h1v1h-1z"/>
<path fill="#1f1979" d="M16 23h1v1h-1z"/>
<path fill="#3b2fbf" d="M17 23h1v1h-1z"/>
<path fill="#6653e8" d="M18 23h1v1h-1z"/>
<path fill="#a2b7f6" d="M20 23h1v1h-1z"/>
<path fill="#acc8f3" d="M21 23h1v1h-1z"/>
<path fill="#abc6f4" d="M22 23h1v1h-1z"/>
<path fill="#99a5f8" d="M23 23h1v1h-1z"/>
<path fill="#7a71f2" d="M24 23h1v1h-1z"/>
<path fill="#5746db" d="M25 23h1v1h-1z"/>
<path fill="#382dba" d="M26 23h1v1h-1z"/>
<path fill="#171359" d="M28 23h1v1h-1zM27 26h1v1h-1z"/>
<path fill="#0d0a29" d="M29 23h1v1h-1z"/>
<path fill="#070411" d="M30 23h1v1h-1z"/>
<path fill="#240810" d="M32 23h1v1h-1z"/>
<path fill="#1f0909" d="M33 23h1v1h-1z"/>
<path fill="#360706" d="M34 23h1v1h-1z"/>
<path fill="#07060a" d="M35 23h1v1h-1zM42 23h1v1h-1z"/>
<path fill="#0f1911" d="M36 23h1v1h-1zM27 32h1v1h-1z"/>
<path fill="#210606" d="M37 23h1v1h-1z"/>
<path fill="#0a081d" d="M41 23h1v1h-1zM31 33h1v1h-1z"/>
<path fill="#210809" d="M43 23h1v1h-1z"/>
<path fill="#030404" d="M3 24h1v1h-1z"/>
<path fill="#0a0809" d="M4 24h1v1h-1zM8 43h1v1h-1z"/>
<path fill="#090a1f" d="M5 24h1v1h-1zM22 32h1v1h-1zM7 40h1v1h-1z"/>
<path fill="#04070a" d="M7 24h1v1h-1zM21 43h1v1h-1z"/>
<path fill="#121d12" d="M8 24h1v1h-1z"/>
<path fill="#1c050d" d="M10 24h1v1h-1z"/>
<path fill="#0b030c" d="M12 24h1v1h-1z"/>
<path fill="#190518" d="M14 24h1v1h-1z"/>
<path fill="#0e0a2e" d="M15 24h1v1h-1zM15 25h1v1h-1z"/>
<path fill="#231d84" d="M16 24h1v1h-1zM16 26h1v1h-1z"/>
<path fill="#4639cc" d="M17 24h1v1h-1z"/>
<path fill="#aac5f4" d="M19 24h1v1h-1z"/>
<path fill="#c6ebe3" d="M20 24h1v1h-1z"/>
<path fill="#afcef3" d="M23 24h1v1h-1z"/>
<path fill="#837ff5" d="M24 24h1v1h-1z"/>
<path fill="#5646da" d="M25 24h1v1h-1z"/>
<path fill="#3329ab" d="M26 24h1v1h-1z"/>
<path fill="#1e1979" d="M27 24h1v1h-1z"/>
<path fill="#1b0720" d="M29 24h1v1h-1z"/>
<path fill="#2c080e" d="M30 24h1v1h-1z"/>
<path fill="#07070c" d="M31 24h1v1h-1z"/>
<path fill="#06060a" d="M33 24h1v1h-1zM11 27h1v1h-1zM0 32h1v1h-1z"/>
<path fill="#101611" d="M34 24h1v1h-1z"/>
<path fill="#0c0b1b" d="M35 24h1v1h-1z"/>
<path fill="#0b0925" d="M37 24h1v1h-1z"/>
<path fill="#06030d" d="M38 24h1v1h-1zM34 44h1v1h-1z"/>
<path fill="#040914" d="M39 24h1v1h-1z"/>
<path fill="#200b09" d="M41 24h1v1h-1z"/>
<path fill="#0a0920" d="M42 24h1v1h-1z"/>
<path fill="#060609" d="M43 24h1v1h-1z"/>
<path fill="#2b060f" d="M44 24h1v1h-1z"/>
<path fill="#060407" d="M0 25h1v1h-1zM5 27h1v1h-1zM17 36h1v1h-1z"/>
<path fill="#0e0f0e" d="M1 25h1v1h-1z"/>
<path fill="#121214" d="M2 25h1v1h-1z"/>
<path fill="#270406" d="M4 25h1v1h-1z"/>
<path fill="#31080a" d="M5 25h1v1h-1z"/>
<path fill="#090809" d="M6 25h1v1h-1z"/>
<path fill="#2e0c11" d="M7 25h1v1h-1z"/>
<path fill="#070721" d="M8 25h1v1h-1z"/>
<path fill="#071313" d="M10 25h1v1h-1z"/>
<path fill="#0a020a" d="M11 25h1v1h-1zM39 33h1v1h-1zM0 42h1v1h-1z"/>
<path fill="#230608" d="M12 25h1v1h-1z"/>
<path fill="#0c110d" d="M13 25h1v1h-1z"/>
<path fill="#060929" d="M14 25h1v1h-1z"/>
<path fill="#241e87" d="M16 25h1v1h-1z"/>
<path fill="#827df4" d="M18 25h1v1h-1z"/>
<path fill="#b8dff0" d="M19 25h1v1h-1zM23 25h1v1h-1z"/>
<path fill="#8583f6" d="M24 25h1v1h-1z"/>
<path fill="#5443d8" d="M25 25h1v1h-1z"/>
<path fill="#2f26a2" d="M26 25h1v1h-1z"/>
<path fill="#0c0c2d" d="M28 25h1v1h-1z"/>
<path fill="#0d0721" d="M29 25h1v1h-1z"/>
<path fill="#050612" d="M30 25h1v1h-1z"/>
<path fill="#200711" d="M33 25h1v1h-1z"/>
<path fill="#080609" d="M34 25h1v1h-1z"/>
<path fill="#2a050b" d="M35 25h1v1h-1z"/>
<path fill="#27060b" d="M36 25h1v1h-1z"/>
<path fill="#070606" d="M37 25h1v1h-1zM0 38h1v1h-1z"/>
<path fill="#1e0407" d="M38 25h1v1h-1z"/>
<path fill="#06091f" d="M39 25h1v1h-1z"/>
<path fill="#060804" d="M40 25h1v1h-1zM36 32h1v1h-1z"/>
<path fill="#03080a" d="M42 25h1v1h-1zM5 36h1v1h-1zM16 41h1v1h-1z"/>
<path fill="#190b0b" d="M43 25h1v1h-1z"/>
<path fill="#03080c" d="M44 25h1v1h-1zM35 31h1v1h-1zM23 40h1v1h-1z"/>
<path fill="#080925" d="M3 26h1v1h-1z"/>
<path fill="#0a0624" d="M4 26h1v1h-1z"/>
<path fill="#07041f" d="M5 26h1v1h-1z"/>
<path fill="#19070a" d="M6 26h1v1h-1z"/>
<path fill="#0c0607" d="M7 26h1v1h-1z"/>
<path fill="#0b0413" d="M8 26h1v1h-1z"/>
<path fill="#1d0908" d="M9 26h1v1h-1z"/>
<path fill="#0b0709" d="M10 26h1v1h-1zM31 41h1v1h-1z"/>
<path fill="#1d080a" d="M11 26h1v1h-1z"/>
<path fill="#08180e" d="M13 26h1v1h-1z"/>
<path fill="#270717" d="M14 26h1v1h-1z"/>
<path fill="#1b0d2e" d="M15 26h1v1h-1z"/>
<path fill="#493ace" d="M17 26h1v1h-1z"/>
<path fill="#807af3" d="M18 26h1v1h-1z"/>
<path fill="#b5daf1" d="M19 26h1v1h-1z"/>
<path fill="#817bf4" d="M24 26h1v1h-1z"/>
<path fill="#4e3fd3" d="M25 26h1v1h-1z"/>
<path fill="#2b2397" d="M26 26h1v1h-1z"/>
<path fill="#0b0a22" d="M28 26h1v1h-1z"/>
<path fill="#0c0516" d="M29 26h1v1h-1z"/>
<path fill="#0c0e12" d="M30 26h1v1h-1z"/>
<path fill="#04080b" d="M31 26h1v1h-1z"/>
<path fill="#030305" d="M32 26h1v1h-1z"/>
<path fill="#1f070d" d="M34 26h1v1h-1z"/>
<path fill="#280b06" d="M35 26h1v1h-1z"/>
<path fill="#09040a" d="M37 26h1v1h-1zM28 44h1v1h-1z"/>
<path fill="#080826" d="M41 26h1v1h-1z"/>
<path fill="#1b0a0d" d="M42 26h1v1h-1z"/>
<path fill="#030505" d="M0 27h1v1h-1zM13 29h1v1h-1z"/>
<path fill="#040509" d="M1 27h1v1h-1zM21 34h1v1h-1zM6 35h1v1h-1z"/>
<path fill="#040b25" d="M2 27h1v1h-1z"/>
<path fill="#250b0a" d="M3 27h1v1h-1z"/>
<path fill="#050507" d="M4 27h1v1h-1z"/>
<path fill="#070826" d="M7 27h1v1h-1z"/>
<path fill="#060a17" d="M9 27h1v1h-1z"/>
<path fill="#270a06" d="M10 27h1v1h-1z"/>
<path fill="#0b020c" d="M12 27h1v1h-1zM34 33h1v1h-1z"/>
<path fill="#0b040a" d="M13 27h1v1h-1z"/>
<path fill="#0a080e" d="M14 27h1v1h-1zM24 34h1v1h-1z"/>
<path fill="#230929" d="M15 27h1v1h-1z"/>
<path fill="#201a7d" d="M16 27h1v1h-1z"/>
<path fill="#4134c8" d="M17 27h1v1h-1z"/>
<path fill="#7568ef" d="M18 27h1v1h-1zM24 27h1v1h-1z"/>
<path fill="#a3b9f5" d="M19 27h1v1h-1z"/>
<path fill="#c0e7e9" d="M20 27h1v1h-1zM22 27h1v1h-1z"/>
<path fill="#c6ece3" d="M21 27h1v1h-1z"/>
<path fill="#a2b5f6" d="M23 27h1v1h-1z"/>
<path fill="#4537cb" d="M25 27h1v1h-1z"/>
<path fill="#251f8b" d="M26 27h1v1h-1zM25 29h1v1h-1z"/>
<path fill="#130f45" d="M27 27h1v1h-1z"/>
<path fill="#230814" d="M29 27h1v1h-1z"/>
<path fill="#070507" d="M32 27h1v1h-1zM5 33h1v1h-1z"/>
<path fill="#1d0b10" d="M33 27h1v1h-1z"/>
<path fill="#030304" d="M35 27h1v1h-1z"/>
<path fill="#0e1e12" d="M36 27h1v1h-1z"/>
<path fill="#0b0527" d="M37 27h1v1h-1z"/>
<path fill="#0a040a" d="M38 27h1v1h-1zM15 31h1v1h-1zM27 37h1v1h-1z"/>
<path fill="#080504" d="M40 27h1v1h-1zM37 30h1v1h-1zM14 39h1v1h-1z"/>
<path fill="#08080a" d="M42 27h1v1h-1zM32 31h1v1h-1z"/>
<path fill="#080507" d="M1 28h1v1h-1z"/>
<path fill="#0c071c" d="M3 28h1v1h-1z"/>
<path fill="#1b0c12" d="M4 28h1v1h-1z"/>
<path fill="#0c1d13" d="M5 28h1v1h-1z"/>
<path fill="#070413" d="M7 28h1v1h-1z"/>
<path fill="#07060d" d="M8 28h1v1h-1zM23 36h1v1h-1z"/>
<path fill="#0c091c" d="M9 28h1v1h-1z"/>
<path fill="#210409" d="M10 28h1v1h-1z"/>
<path fill="#230c0e" d="M13 28h1v1h-1z"/>
<path fill="#05050a" d="M14 28h1v1h-1zM29 29h1v1h-1zM2 37h1v1h-1z"/>
<path fill="#0a061f" d="M15 28h1v1h-1z"/>
<path fill="#1b166b" d="M16 28h1v1h-1z"/>
<path fill="#342aaf" d="M17 28h1v1h-1z"/>
<path fill="#5b4adf" d="M18 28h1v1h-1z"/>
<path fill="#7f79f3" d="M19 28h1v1h-1z"/>
<path fill="#949bf9" d="M20 28h1v1h-1zM22 28h1v1h-1z"/>
<path fill="#99a4f8" d="M21 28h1v1h-1z"/>
<path fill="#7e78f3" d="M23 28h1v1h-1z"/>
<path fill="#5c4adf" d="M24 28h1v1h-1z"/>
<path fill="#362cb4" d="M25 28h1v1h-1z"/>
<path fill="#1e1978" d="M26 28h1v1h-1z"/>
<path fill="#0d0b31" d="M27 28h1v1h-1z"/>
<path fill="#090513" d="M28 28h1v1h-1z"/>
<path fill="#110e0e" d="M29 28h1v1h-1z"/>
<path fill="#0b0809" d="M30 28h1v1h-1zM38 43h1v1h-1z"/>
<path fill="#09040e" d="M31 28h1v1h-1z"/>
<path fill="#080619" d="M32 28h1v1h-1z"/>
<path fill="#090609" d="M33 28h1v1h-1zM44 37h1v1h-1z"/>
<path fill="#080409" d="M34 28h1v1h-1zM28 35h1v1h-1zM39 42h1v1h-1z"/>
<path fill="#1e0b07" d="M36 28h1v1h-1z"/>
<path fill="#2e060a" d="M38 28h1v1h-1z"/>
<path fill="#0c0807" d="M40 28h1v1h-1z"/>
<path fill="#1c0c0c" d="M43 28h1v1h-1z"/>
<path fill="#07170c" d="M1 29h1v1h-1z"/>
<path fill="#0e1c0a" d="M2 29h1v1h-1z"/>
<path fill="#091d14" d="M4 29h1v1h-1zM31 44h1v1h-1z"/>
<path fill="#070720" d="M5 29h1v1h-1z"/>
<path fill="#080a15" d="M6 29h1v1h-1z"/>
<path fill="#03060d" d="M7 29h1v1h-1z"/>
<path fill="#1a090d" d="M8 29h1v1h-1z"/>
<path fill="#040405" d="M11 29h1v1h-1z"/>
<path fill="#030309" d="M12 29h1v1h-1z"/>
<path fill="#0b0927" d="M14 29h1v1h-1z"/>
<path fill="#080618" d="M15 29h1v1h-1z"/>
<path fill="#120d3d" d="M16 29h1v1h-1z"/>
<path fill="#392ebc" d="M18 29h1v1h-1z"/>
<path fill="#5041d5" d="M19 29h1v1h-1z"/>
<path fill="#624fe5" d="M21 29h1v1h-1z"/>
<path fill="#5f4de2" d="M22 29h1v1h-1z"/>
<path fill="#5141d6" d="M23 29h1v1h-1z"/>
<path fill="#3a2fbe" d="M24 29h1v1h-1z"/>
<path fill="#14114f" d="M26 29h1v1h-1z"/>
<path fill="#0d0820" d="M27 29h1v1h-1z"/>
<path fill="#05080e" d="M28 29h1v1h-1z"/>
<path fill="#220a10" d="M31 29h1v1h-1z"/>
<path fill="#070615" d="M33 29h1v1h-1z"/>
<path fill="#290c06" d="M35 29h1v1h-1z"/>
<path fill="#09081c" d="M36 29h1v1h-1z"/>
<path fill="#030307" d="M37 29h1v1h-1zM10 31h1v1h-1z"/>
<path fill="#300c0f" d="M38 29h1v1h-1z"/>
<path fill="#04050c" d="M40 29h1v1h-1z"/>
<path fill="#320a10" d="M41 29h1v1h-1z"/>
<path fill="#050407" d="M0 30h1v1h-1z"/>
<path fill="#190a06" d="M1 30h1v1h-1z"/>
<path fill="#030605" d="M3 30h1v1h-1z"/>
<path fill="#121e14" d="M4 30h1v1h-1z"/>
<path fill="#08091d" d="M6 30h1v1h-1z"/>
<path fill="#300908" d="M8 30h1v1h-1z"/>
<path fill="#0f1d09" d="M10 30h1v1h-1z"/>
<path fill="#080814" d="M11 30h1v1h-1z"/>
<path fill="#04070b" d="M12 30h1v1h-1z"/>
<path fill="#090810" d="M15 30h1v1h-1z"/>
<path fill="#0a0b28" d="M16 30h1v1h-1z"/>
<path fill="#131047" d="M17 30h1v1h-1z"/>
<path fill="#1f1a7c" d="M18 30h1v1h-1z"/>
<path fill="#292295" d="M19 30h1v1h-1z"/>
<path fill="#3128a7" d="M21 30h1v1h-1z"/>
<path fill="#2a2397" d="M23 30h1v1h-1z"/>
<path fill="#151253" d="M25 30h1v1h-1z"/>
<path fill="#0c0927" d="M26 30h1v1h-1z"/>
<path fill="#090612" d="M27 30h1v1h-1z"/>
<path fill="#250814" d="M28 30h1v1h-1z"/>
<path fill="#0b0609" d="M31 30h1v1h-1z"/>
<path fill="#07030c" d="M32 30h1v1h-1zM0 43h1v1h-1z"/>
<path fill="#06190b" d="M33 30h1v1h-1z"/>
<path fill="#060806" d="M34 30h1v1h-1z"/>
<path fill="#03030c" d="M35 30h1v1h-1zM12 39h1v1h-1z"/>
<path fill="#03050b" d="M38 30h1v1h-1z"/>
<path fill="#08070a" d="M39 30h1v1h-1zM10 38h1v1h-1z"/>
<path fill="#05030c" d="M40 30h1v1h-1z"/>
<path fill="#350c06" d="M41 30h1v1h-1z"/>
<path fill="#050705" d="M43 30h1v1h-1zM31 32h1v1h-1zM36 44h1v1h-1z"/>
<path fill="#060522" d="M44 30h1v1h-1z"/>
<path fill="#0b0308" d="M0 31h1v1h-1zM13 32h1v1h-1zM35 36h1v1h-1z"/>
<path fill="#330b09" d="M1 31h1v1h-1z"/>
<path fill="#040b1a" d="M2 31h1v1h-1z"/>
<path fill="#071a0c" d="M3 31h1v1h-1z"/>
<path fill="#0a0a1c" d="M6 31h1v1h-1z"/>
<path fill="#1e0a0f" d="M7 31h1v1h-1z"/>
<path fill="#28070a" d="M9 31h1v1h-1z"/>
<path fill="#05050d" d="M12 31h1v1h-1z"/>
<path fill="#060428" d="M13 31h1v1h-1z"/>
<path fill="#090407" d="M14 31h1v1h-1zM42 32h1v1h-1zM41 39h1v1h-1z"/>
<path fill="#2a0812" d="M16 31h1v1h-1z"/>
<path fill="#180919" d="M17 31h1v1h-1z"/>
<path fill="#0d0b2c" d="M18 31h1v1h-1z"/>
<path fill="#130e40" d="M19 31h1v1h-1z"/>
<path fill="#1d1151" d="M20 31h1v1h-1z"/>
<path fill="#161153" d="M22 31h1v1h-1z"/>
<path fill="#141047" d="M23 31h1v1h-1z"/>
<path fill="#0e0a31" d="M24 31h1v1h-1z"/>
<path fill="#0d092d" d="M25 31h1v1h-1z"/>
<path fill="#090414" d="M26 31h1v1h-1z"/>
<path fill="#0c060e" d="M27 31h1v1h-1z"/>
<path fill="#250809" d="M28 31h1v1h-1z"/>
<path fill="#090608" d="M29 31h1v1h-1z"/>
<path fill="#0b0c1d" d="M34 31h1v1h-1z"/>
<path fill="#260711" d="M36 31h1v1h-1z"/>
<path fill="#050608" d="M38 31h1v1h-1z"/>
<path fill="#0b0c17" d="M42 31h1v1h-1z"/>
<path fill="#0c0604" d="M43 31h1v1h-1zM4 40h1v1h-1z"/>
<path fill="#0c0508" d="M44 31h1v1h-1z"/>
<path fill="#080205" d="M1 32h1v1h-1zM32 43h1v1h-1z"/>
<path fill="#050527" d="M3 32h1v1h-1z"/>
<path fill="#1d0c0b" d="M4 32h1v1h-1z"/>
<path fill="#060307" d="M5 32h1v1h-1z"/>
<path fill="#03070c" d="M6 32h1v1h-1z"/>
<path fill="#330612" d="M7 32h1v1h-1z"/>
<path fill="#121208" d="M10 32h1v1h-1z"/>
<path fill="#08071d" d="M12 32h1v1h-1z"/>
<path fill="#32060f" d="M15 32h1v1h-1z"/>
<path fill="#07080f" d="M16 32h1v1h-1zM25 32h1v1h-1z"/>
<path fill="#0a040f" d="M17 32h1v1h-1z"/>
<path fill="#090a26" d="M18 32h1v1h-1z"/>
<path fill="#0b0714" d="M19 32h1v1h-1z"/>
<path fill="#0b0618" d="M20 32h1v1h-1z"/>
<path fill="#0c0c26" d="M21 32h1v1h-1z"/>
<path fill="#210b1b" d="M23 32h1v1h-1z"/>
<path fill="#0b0b21" d="M24 32h1v1h-1z"/>
<path fill="#340807" d="M28 32h1v1h-1z"/>
<path fill="#07030b" d="M29 32h1v1h-1z"/>
<path fill="#310911" d="M33 32h1v1h-1z"/>
<path fill="#080417" d="M34 32h1v1h-1z"/>
<path fill="#0b080c" d="M35 32h1v1h-1z"/>
<path fill="#0a091b" d="M37 32h1v1h-1z"/>
<path fill="#06200a" d="M40 32h1v1h-1z"/>
<path fill="#1e0a0a" d="M43 32h1v1h-1z"/>
<path fill="#050623" d="M44 32h1v1h-1z"/>
<path fill="#070625" d="M0 33h1v1h-1z"/>
<path fill="#0e1509" d="M1 33h1v1h-1z"/>
<path fill="#030705" d="M2 33h1v1h-1zM15 34h1v1h-1z"/>
<path fill="#0a050a" d="M4 33h1v1h-1z"/>
<path fill="#320410" d="M6 33h1v1h-1z"/>
<path fill="#08020d" d="M7 33h1v1h-1z"/>
<path fill="#0c0408" d="M8 33h1v1h-1z"/>
<path fill="#2b0907" d="M10 33h1v1h-1z"/>
<path fill="#06170d" d="M11 33h1v1h-1z"/>
<path fill="#0b091a" d="M12 33h1v1h-1z"/>
<path fill="#091714" d="M13 33h1v1h-1z"/>
<path fill="#070516" d="M14 33h1v1h-1z"/>
<path fill="#260411" d="M15 33h1v1h-1z"/>
<path fill="#0b1412" d="M16 33h1v1h-1z"/>
<path fill="#190713" d="M17 33h1v1h-1z"/>
<path fill="#33060a" d="M18 33h1v1h-1z"/>
<path fill="#0a0a26" d="M19 33h1v1h-1z"/>
<path fill="#0c1112" d="M20 33h1v1h-1z"/>
<path fill="#1c050a" d="M21 33h1v1h-1z"/>
<path fill="#070610" d="M22 33h1v1h-1z"/>
<path fill="#070a16" d="M23 33h1v1h-1z"/>
<path fill="#250514" d="M24 33h1v1h-1z"/>
<path fill="#07050b" d="M25 33h1v1h-1zM5 39h1v1h-1z"/>
<path fill="#310c13" d="M26 33h1v1h-1z"/>
<path fill="#350411" d="M27 33h1v1h-1z"/>
<path fill="#090807" d="M28 33h1v1h-1z"/>
<path fill="#200411" d="M30 33h1v1h-1z"/>
<path fill="#1b0411" d="M33 33h1v1h-1z"/>
<path fill="#030608" d="M36 33h1v1h-1zM38 37h1v1h-1z"/>
<path fill="#1e0409" d="M37 33h1v1h-1z"/>
<path fill="#090a23" d="M40 33h1v1h-1z"/>
<path fill="#07080a" d="M41 33h1v1h-1z"/>
<path fill="#0b1911" d="M42 33h1v1h-1z"/>
<path fill="#300a06" d="M43 33h1v1h-1z"/>
<path fill="#09030d" d="M44 33h1v1h-1zM7 34h1v1h-1z"/>
<path fill="#040b16" d="M1 34h1v1h-1z"/>
<path fill="#080506" d="M2 34h1v1h-1zM19 37h1v1h-1z"/>
<path fill="#09041c" d="M3 34h1v1h-1z"/>
<path fill="#0a1e14" d="M4 34h1v1h-1z"/>
<path fill="#06060c" d="M8 34h1v1h-1zM25 36h1v1h-1zM33 37h1v1h-1zM19 40h1v1h-1z"/>
<path fill="#320b11" d="M9 34h1v1h-1z"/>
<path fill="#07140d" d="M11 34h1v1h-1zM33 40h1v1h-1z"/>
<path fill="#2a0a0b" d="M12 34h1v1h-1z"/>
<path fill="#060b1a" d="M13 34h1v1h-1z"/>
<path fill="#210a12" d="M16 34h1v1h-1z"/>
<path fill="#05020c" d="M17 34h1v1h-1zM27 40h1v1h-1z"/>
<path fill="#0a0924" d="M18 34h1v1h-1z"/>
<path fill="#0a050c" d="M19 34h1v1h-1z"/>
<path fill="#040208" d="M20 34h1v1h-1z"/>
<path fill="#08080b" d="M22 34h1v1h-1z"/>
<path fill="#09060d" d="M23 34h1v1h-1z"/>
<path fill="#190512" d="M26 34h1v1h-1z"/>
<path fill="#050307" d="M27 34h1v1h-1z"/>
<path fill="#040b13" d="M30 34h1v1h-1z"/>
<path fill="#0b0604" d="M31 34h1v1h-1z"/>
<path fill="#1e0808" d="M33 34h1v1h-1z"/>
<path fill="#220811" d="M37 34h1v1h-1z"/>
<path fill="#080207" d="M39 34h1v1h-1zM30 42h1v1h-1z"/>
<path fill="#0a070a" d="M41 34h1v1h-1z"/>
<path fill="#340409" d="M42 34h1v1h-1z"/>
<path fill="#1a0c0c" d="M0 35h1v1h-1z"/>
<path fill="#360b10" d="M1 35h1v1h-1z"/>
<path fill="#080914" d="M2 35h1v1h-1z"/>
<path fill="#1e060e" d="M3 35h1v1h-1z"/>
<path fill="#040616" d="M4 35h1v1h-1z"/>
<path fill="#070724" d="M7 35h1v1h-1z"/>
<path fill="#2a0a07" d="M8 35h1v1h-1z"/>
<path fill="#070704" d="M10 35h1v1h-1z"/>
<path fill="#070305" d="M11 35h1v1h-1zM27 35h1v1h-1zM26 41h1v1h-1z"/>
<path fill="#060508" d="M12 35h1v1h-1z"/>
<path fill="#070607" d="M13 35h1v1h-1z"/>
<path fill="#22080b" d="M15 35h1v1h-1z"/>
<path fill="#310506" d="M16 35h1v1h-1z"/>
<path fill="#0a1812" d="M17 35h1v1h-1z"/>
<path fill="#250b0b" d="M18 35h1v1h-1z"/>
<path fill="#090505" d="M20 35h1v1h-1zM30 40h1v1h-1z"/>
<path fill="#090c17" d="M21 35h1v1h-1z"/>
<path fill="#121e12" d="M23 35h1v1h-1z"/>
<path fill="#260806" d="M24 35h1v1h-1z"/>
<path fill="#0a0a23" d="M25 35h1v1h-1z"/>
<path fill="#21070e" d="M31 35h1v1h-1z"/>
<path fill="#1a0710" d="M32 35h1v1h-1z"/>
<path fill="#050305" d="M33 35h1v1h-1zM37 35h1v1h-1zM25 41h1v1h-1z"/>
<path fill="#1a0407" d="M34 35h1v1h-1z"/>
<path fill="#190a0f" d="M35 35h1v1h-1z"/>
<path fill="#22050c" d="M36 35h1v1h-1z"/>
<path fill="#0b051f" d="M39 35h1v1h-1z"/>
<path fill="#09020c" d="M42 35h1v1h-1zM38 44h1v1h-1z"/>
<path fill="#0b0a17" d="M43 35h1v1h-1z"/>
<path fill="#090b27" d="M1 36h1v1h-1z"/>
<path fill="#060606" d="M2 36h1v1h-1z"/>
<path fill="#081508" d="M3 36h1v1h-1z"/>
<path fill="#060206" d="M4 36h1v1h-1zM12 42h1v1h-1z"/>
<path fill="#03050c" d="M6 36h1v1h-1z"/>
<path fill="#360511" d="M7 36h1v1h-1z"/>
<path fill="#05060c" d="M9 36h1v1h-1z"/>
<path fill="#2b0b09" d="M10 36h1v1h-1z"/>
<path fill="#0c180a" d="M11 36h1v1h-1z"/>
<path fill="#04070d" d="M12 36h1v1h-1z"/>
<path fill="#0b0509" d="M13 36h1v1h-1zM39 40h1v1h-1z"/>
<path fill="#2b050d" d="M14 36h1v1h-1z"/>
<path fill="#220512" d="M15 36h1v1h-1z"/>
<path fill="#040727" d="M18 36h1v1h-1zM27 36h1v1h-1z"/>
<path fill="#050807" d="M19 36h1v1h-1z"/>
<path fill="#31050a" d="M22 36h1v1h-1z"/>
<path fill="#0a0808" d="M24 36h1v1h-1zM38 40h1v1h-1z"/>
<path fill="#030606" d="M28 36h1v1h-1zM35 41h1v1h-1z"/>
<path fill="#090627" d="M29 36h1v1h-1z"/>
<path fill="#29070e" d="M31 36h1v1h-1z"/>
<path fill="#070b14" d="M32 36h1v1h-1z"/>
<path fill="#060928" d="M33 36h1v1h-1z"/>
<path fill="#0a1d11" d="M34 36h1v1h-1z"/>
<path fill="#07040c" d="M36 36h1v1h-1z"/>
<path fill="#030408" d="M37 36h1v1h-1z"/>
<path fill="#1e0508" d="M40 36h1v1h-1z"/>
<path fill="#0b0916" d="M42 36h1v1h-1z"/>
<path fill="#0c0719" d="M44 36h1v1h-1z"/>
<path fill="#0a1e08" d="M1 37h1v1h-1z"/>
<path fill="#210512" d="M4 37h1v1h-1z"/>
<path fill="#2c0710" d="M5 37h1v1h-1z"/>
<path fill="#030704" d="M8 37h1v1h-1z"/>
<path fill="#1f0b0d" d="M9 37h1v1h-1z"/>
<path fill="#0b2012" d="M11 37h1v1h-1z"/>
<path fill="#060a22" d="M12 37h1v1h-1z"/>
<path fill="#09071b" d="M14 37h1v1h-1z"/>
<path fill="#0d1f08" d="M16 37h1v1h-1z"/>
<path fill="#0e110f" d="M17 37h1v1h-1z"/>
<path fill="#070526" d="M20 37h1v1h-1z"/>
<path fill="#1b0812" d="M21 37h1v1h-1z"/>
<path fill="#07020d" d="M22 37h1v1h-1z"/>
<path fill="#1e0507" d="M23 37h1v1h-1z"/>
<path fill="#090916" d="M25 37h1v1h-1z"/>
<path fill="#040507" d="M26 37h1v1h-1z"/>
<path fill="#0a040d" d="M30 37h1v1h-1z"/>
<path fill="#0b0628" d="M31 37h1v1h-1z"/>
<path fill="#08020a" d="M32 37h1v1h-1zM18 40h1v1h-1z"/>
<path fill="#360b08" d="M39 37h1v1h-1z"/>
<path fill="#080307" d="M42 37h1v1h-1z"/>
<path fill="#0b0507" d="M2 38h1v1h-1zM16 38h1v1h-1zM4 42h1v1h-1z"/>
<path fill="#0a1a12" d="M3 38h1v1h-1z"/>
<path fill="#09050c" d="M6 38h1v1h-1z"/>
<path fill="#07081d" d="M7 38h1v1h-1z"/>
<path fill="#080607" d="M8 38h1v1h-1z"/>
<path fill="#03040d" d="M9 38h1v1h-1zM34 39h1v1h-1z"/>
<path fill="#09051b" d="M11 38h1v1h-1z"/>
<path fill="#0b0a16" d="M12 38h1v1h-1z"/>
<path fill="#2a0412" d="M15 38h1v1h-1z"/>
<path fill="#040505" d="M17 38h1v1h-1z"/>
<path fill="#0a0507" d="M20 38h1v1h-1z"/>
<path fill="#0b0705" d="M21 38h1v1h-1z"/>
<path fill="#040609" d="M23 38h1v1h-1z"/>
<path fill="#0c100c" d="M24 38h1v1h-1z"/>
<path fill="#060608" d="M25 38h1v1h-1z"/>
<path fill="#240908" d="M26 38h1v1h-1z"/>
<path fill="#09050b" d="M27 38h1v1h-1z"/>
<path fill="#190410" d="M29 38h1v1h-1z"/>
<path fill="#040a15" d="M32 38h1v1h-1z"/>
<path fill="#2c0812" d="M34 38h1v1h-1z"/>
<path fill="#10180f" d="M35 38h1v1h-1z"/>
<path fill="#1d0909" d="M36 38h1v1h-1z"/>
<path fill="#1e0a06" d="M37 38h1v1h-1z"/>
<path fill="#320406" d="M38 38h1v1h-1z"/>
<path fill="#08050d" d="M39 38h1v1h-1z"/>
<path fill="#040a20" d="M40 38h1v1h-1z"/>
<path fill="#091410" d="M42 38h1v1h-1z"/>
<path fill="#25060b" d="M44 38h1v1h-1z"/>
<path fill="#060408" d="M0 39h1v1h-1z"/>
<path fill="#190806" d="M1 39h1v1h-1z"/>
<path fill="#030805" d="M2 39h1v1h-1z"/>
<path fill="#050605" d="M3 39h1v1h-1z"/>
<path fill="#070409" d="M4 39h1v1h-1z"/>
<path fill="#0a080d" d="M6 39h1v1h-1z"/>
<path fill="#27060d" d="M7 39h1v1h-1z"/>
<path fill="#240b12" d="M8 39h1v1h-1z"/>
<path fill="#1b0c0f" d="M9 39h1v1h-1z"/>
<path fill="#0a091c" d="M10 39h1v1h-1z"/>
<path fill="#06040a" d="M13 39h1v1h-1zM27 39h1v1h-1z"/>
<path fill="#0d1a0e" d="M15 39h1v1h-1z"/>
<path fill="#111514" d="M17 39h1v1h-1z"/>
<path fill="#0c0708" d="M18 39h1v1h-1zM2 41h1v1h-1zM9 42h1v1h-1z"/>
<path fill="#060b26" d="M19 39h1v1h-1z"/>
<path fill="#090804" d="M20 39h1v1h-1z"/>
<path fill="#030508" d="M21 39h1v1h-1z"/>
<path fill="#2d0412" d="M22 39h1v1h-1zM23 42h1v1h-1z"/>
<path fill="#04030a" d="M25 39h1v1h-1z"/>
<path fill="#360806" d="M26 39h1v1h-1z"/>
<path fill="#2f0906" d="M28 39h1v1h-1z"/>
<path fill="#060912" d="M29 39h1v1h-1z"/>
<path fill="#1b080f" d="M32 39h1v1h-1z"/>
<path fill="#0b0305" d="M33 39h1v1h-1z"/>
<path fill="#071c0d" d="M35 39h1v1h-1z"/>
<path fill="#0b070c" d="M37 39h1v1h-1z"/>
<path fill="#0d110f" d="M38 39h1v1h-1z"/>
<path fill="#090412" d="M39 39h1v1h-1z"/>
<path fill="#0b0506" d="M40 39h1v1h-1z"/>
<path fill="#220b0a" d="M44 39h1v1h-1z"/>
<path fill="#36040f" d="M6 40h1v1h-1z"/>
<path fill="#040c18" d="M8 40h1v1h-1z"/>
<path fill="#050704" d="M11 40h1v1h-1zM17 40h1v1h-1zM27 43h1v1h-1z"/>
<path fill="#091b13" d="M12 40h1v1h-1z"/>
<path fill="#0c1408" d="M13 40h1v1h-1z"/>
<path fill="#092010" d="M15 40h1v1h-1z"/>
<path fill="#05040a" d="M16 40h1v1h-1zM0 44h1v1h-1z"/>
<path fill="#111d0b" d="M21 40h1v1h-1z"/>
<path fill="#30060c" d="M24 40h1v1h-1z"/>
<path fill="#0b0208" d="M25 40h1v1h-1z"/>
<path fill="#061911" d="M26 40h1v1h-1z"/>
<path fill="#070422" d="M29 40h1v1h-1z"/>
<path fill="#101010" d="M35 40h1v1h-1z"/>
<path fill="#0b070a" d="M36 40h1v1h-1z"/>
<path fill="#06020a" d="M37 40h1v1h-1z"/>
<path fill="#080621" d="M40 40h1v1h-1z"/>
<path fill="#0e1a0f" d="M42 40h1v1h-1z"/>
<path fill="#0c061c" d="M43 40h1v1h-1z"/>
<path fill="#090406" d="M44 40h1v1h-1z"/>
<path fill="#0b0c25" d="M0 41h1v1h-1z"/>
<path fill="#0f200c" d="M1 41h1v1h-1z"/>
<path fill="#0b0605" d="M3 41h1v1h-1z"/>
<path fill="#0c060d" d="M4 41h1v1h-1z"/>
<path fill="#060304" d="M6 41h1v1h-1zM1 44h1v1h-1z"/>
<path fill="#06060d" d="M9 41h1v1h-1z"/>
<path fill="#040607" d="M12 41h1v1h-1zM32 44h1v1h-1z"/>
<path fill="#0a080b" d="M13 41h1v1h-1z"/>
<path fill="#080509" d="M14 41h1v1h-1z"/>
<path fill="#050707" d="M17 41h1v1h-1z"/>
<path fill="#08020c" d="M18 41h1v1h-1zM33 41h1v1h-1z"/>
<path fill="#0b0721" d="M19 41h1v1h-1z"/>
<path fill="#090605" d="M22 41h1v1h-1z"/>
<path fill="#050706" d="M23 41h1v1h-1z"/>
<path fill="#080425" d="M24 41h1v1h-1z"/>
<path fill="#0b130b" d="M28 41h1v1h-1z"/>
<path fill="#07091b" d="M29 41h1v1h-1z"/>
<path fill="#2a050a" d="M30 41h1v1h-1z"/>
<path fill="#060720" d="M32 41h1v1h-1z"/>
<path fill="#0c060c" d="M34 41h1v1h-1zM41 41h1v1h-1z"/>
<path fill="#040a1a" d="M36 41h1v1h-1z"/>
<path fill="#09091e" d="M38 41h1v1h-1z"/>
<path fill="#030604" d="M39 41h1v1h-1z"/>
<path fill="#040408" d="M40 41h1v1h-1z"/>
<path fill="#260407" d="M42 41h1v1h-1z"/>
<path fill="#230808" d="M43 41h1v1h-1z"/>
<path fill="#360a0d" d="M44 41h1v1h-1z"/>
<path fill="#0e160e" d="M1 42h1v1h-1z"/>
<path fill="#0a1212" d="M2 42h1v1h-1z"/>
<path fill="#090b20" d="M3 42h1v1h-1z"/>
<path fill="#08060d" d="M5 42h1v1h-1z"/>
<path fill="#030506" d="M6 42h1v1h-1z"/>
<path fill="#03040a" d="M7 42h1v1h-1z"/>
<path fill="#0b020d" d="M8 42h1v1h-1z"/>
<path fill="#27070c" d="M11 42h1v1h-1z"/>
<path fill="#2b0a10" d="M13 42h1v1h-1z"/>
<path fill="#0a0308" d="M14 42h1v1h-1z"/>
<path fill="#2b0711" d="M15 42h1v1h-1z"/>
<path fill="#29070a" d="M16 42h1v1h-1z"/>
<path fill="#0a0828" d="M17 42h1v1h-1z"/>
<path fill="#290c0f" d="M18 42h1v1h-1z"/>
<path fill="#240811" d="M19 42h1v1h-1z"/>
<path fill="#09020b" d="M21 42h1v1h-1z"/>
<path fill="#1a0a0f" d="M25 42h1v1h-1z"/>
<path fill="#370912" d="M27 42h1v1h-1z"/>
<path fill="#070804" d="M28 42h1v1h-1z"/>
<path fill="#0c0514" d="M32 42h1v1h-1zM43 42h1v1h-1z"/>
<path fill="#260a0a" d="M33 42h1v1h-1z"/>
<path fill="#1f0b0c" d="M34 42h1v1h-1z"/>
<path fill="#360b06" d="M35 42h1v1h-1z"/>
<path fill="#0a2009" d="M36 42h1v1h-1z"/>
<path fill="#1e0a09" d="M37 42h1v1h-1z"/>
<path fill="#040522" d="M38 42h1v1h-1z"/>
<path fill="#081009" d="M41 42h1v1h-1z"/>
<path fill="#0b1209" d="M1 43h1v1h-1z"/>
<path fill="#31070f" d="M2 43h1v1h-1z"/>
<path fill="#080720" d="M3 43h1v1h-1z"/>
<path fill="#0c0517" d="M4 43h1v1h-1z"/>
<path fill="#0c0523" d="M5 43h1v1h-1z"/>
<path fill="#04070c" d="M6 43h1v1h-1z"/>
<path fill="#071a14" d="M7 43h1v1h-1z"/>
<path fill="#0c0820" d="M10 43h1v1h-1z"/>
<path fill="#0a0517" d="M11 43h1v1h-1z"/>
<path fill="#081c09" d="M13 43h1v1h-1z"/>
<path fill="#0b0520" d="M15 43h1v1h-1z"/>
<path fill="#2a0612" d="M17 43h1v1h-1z"/>
<path fill="#240509" d="M19 43h1v1h-1z"/>
<path fill="#080508" d="M20 43h1v1h-1z"/>
<path fill="#0a0309" d="M23 43h1v1h-1z"/>
<path fill="#071f0a" d="M24 43h1v1h-1z"/>
<path fill="#0c150a" d="M25 43h1v1h-1z"/>
<path fill="#0f1b11" d="M28 43h1v1h-1z"/>
<path fill="#091809" d="M29 43h1v1h-1z"/>
<path fill="#200511" d="M30 43h1v1h-1z"/>
<path fill="#36060d" d="M31 43h1v1h-1z"/>
<path fill="#04041e" d="M33 43h1v1h-1z"/>
<path fill="#0c0519" d="M36 43h1v1h-1z"/>
<path fill="#05080c" d="M37 43h1v1h-1z"/>
<path fill="#0b0407" d="M39 43h1v1h-1z"/>
<path fill="#2c0a0f" d="M40 43h1v1h-1z"/>
<path fill="#360c0f" d="M42 43h1v1h-1z"/>
<path fill="#22050a" d="M44 43h1v1h-1z"/>
<path fill="#2b060a" d="M2 44h1v1h-1z"/>
<path fill="#050405" d="M3 44h1v1h-1z"/>
<path fill="#0a0208" d="M4 44h1v1h-1z"/>
<path fill="#0c041e" d="M6 44h1v1h-1z"/>
<path fill="#1f040e" d="M8 44h1v1h-1z"/>
<path fill="#1c0711" d="M9 44h1v1h-1z"/>
<path fill="#360a0f" d="M10 44h1v1h-1z"/>
<path fill="#0a0708" d="M11 44h1v1h-1z"/>
<path fill="#0b150e" d="M12 44h1v1h-1z"/>
<path fill="#08030b" d="M13 44h1v1h-1z"/>
<path fill="#37080b" d="M17 44h1v1h-1z"/>
<path fill="#0b0725" d="M19 44h1v1h-1z"/>
<path fill="#09041f" d="M20 44h1v1h-1z"/>
<path fill="#06080b" d="M21 44h1v1h-1z"/>
<path fill="#06080a" d="M22 44h1v1h-1z"/>
<path fill="#0a0913" d="M25 44h1v1h-1z"/>
<path fill="#0c030b" d="M27 44h1v1h-1z"/>
<path fill="#050520" d="M29 44h1v1h-1z"/>
<path fill="#050207" d="M30 44h1v1h-1z"/>
<path fill="#230b0a" d="M35 44h1v1h-1z"/>
<path fill="#2d0708" d="M37 44h1v1h-1z"/>
<path fill="#0f1012" d="M41 44h1v1h-1z"/>
<path fill="#040613" d="M42 44h1v1h-1z"/>
<path fill="#091610" d="M44 44h1v1h-1z"/>
</g>
</g></g>
<g clip-path="url(#i2)"><g filter="url(#bl)">
<g transform="translate(948.40 408.40) scale(6.8956 6.9289)" shape-rendering="crispEdges">
<rect width="45" height="45" fill="#070509"/>
<path fill="#08080c" d="M0 0h1v1h-1zM44 7h1v1h-1z"/>
<path fill="#270710" d="M1 0h1v1h-1zM3 33h1v1h-1z"/>
<path fill="#1e050b" d="M2 0h1v1h-1z"/>
<path fill="#06050c" d="M3 0h1v1h-1zM43 4h1v1h-1zM4 16h1v1h-1z"/>
<path fill="#200411" d="M4 0h1v1h-1z"/>
<path fill="#0a1414" d="M5 0h1v1h-1z"/>
<path fill="#04030d" d="M6 0h1v1h-1zM35 26h1v1h-1zM34 36h1v1h-1z"/>
<path fill="#050304" d="M7 0h1v1h-1zM13 6h1v1h-1z"/>
<path fill="#030307" d="M8 0h1v1h-1z"/>
<path fill="#050806" d="M9 0h1v1h-1z"/>
<path fill="#070c27" d="M10 0h1v1h-1z"/>
<path fill="#050707" d="M11 0h1v1h-1zM20 3h1v1h-1zM12 32h1v1h-1z"/>
<path fill="#090404" d="M12 0h1v1h-1zM31 32h1v1h-1zM17 39h1v1h-1z"/>
<path fill="#06061a" d="M13 0h1v1h-1z"/>
<path fill="#22040f" d="M14 0h1v1h-1z"/>
<path fill="#080208" d="M15 0h1v1h-1zM4 4h1v1h-1z"/>
<path fill="#080b28" d="M16 0h1v1h-1z"/>
<path fill="#0b0b28" d="M17 0h1v1h-1z"/>
<path fill="#0a0f13" d="M18 0h1v1h-1z"/>
<path fill="#0a0423" d="M19 0h1v1h-1z"/>
<path fill="#08050d" d="M20 0h1v1h-1zM32 32h1v1h-1zM31 44h1v1h-1z"/>
<path fill="#0a0206" d="M21 0h1v1h-1zM4 25h1v1h-1z"/>
<path fill="#060207" d="M22 0h1v1h-1zM21 40h1v1h-1z"/>
<path fill="#0a040c" d="M23 0h1v1h-1z"/>
<path fill="#0c0820" d="M24 0h1v1h-1z"/>
<path fill="#30090a" d="M25 0h1v1h-1z"/>
<path fill="#370509" d="M26 0h1v1h-1z"/>
<path fill="#09061c" d="M27 0h1v1h-1zM32 44h1v1h-1z"/>
<path fill="#0c051b" d="M28 0h1v1h-1z"/>
<path fill="#070305" d="M29 0h1v1h-1zM25 36h1v1h-1z"/>
<path fill="#070506" d="M30 0h1v1h-1zM10 15h1v1h-1z"/>
<path fill="#04060c" d="M31 0h1v1h-1zM3 22h1v1h-1z"/>
<path fill="#03030d" d="M32 0h1v1h-1zM33 39h1v1h-1zM30 42h1v1h-1z"/>
<path fill="#080b26" d="M33 0h1v1h-1z"/>
<path fill="#030704" d="M34 0h1v1h-1zM2 4h1v1h-1zM3 31h1v1h-1z"/>
<path fill="#080807" d="M35 0h1v1h-1zM41 11h1v1h-1zM9 15h1v1h-1zM22 42h1v1h-1z"/>
<path fill="#300610" d="M36 0h1v1h-1z"/>
<path fill="#090206" d="M37 0h1v1h-1z"/>
<path fill="#05020a" d="M38 0h1v1h-1zM6 5h1v1h-1z"/>
<path fill="#0b0622" d="M39 0h1v1h-1zM18 41h1v1h-1z"/>
<path fill="#0a0709" d="M40 0h1v1h-1zM5 3h1v1h-1z"/>
<path fill="#07050a" d="M41 0h1v1h-1z"/>
<path fill="#04050c" d="M42 0h1v1h-1zM5 30h1v1h-1zM11 40h1v1h-1z"/>
<path fill="#0a0809" d="M43 0h1v1h-1z"/>
<path fill="#0d1710" d="M44 0h1v1h-1z"/>
<path fill="#0b0405" d="M0 1h1v1h-1z"/>
<path fill="#08070d" d="M1 1h1v1h-1zM27 2h1v1h-1z"/>
<path fill="#07040c" d="M2 1h1v1h-1zM15 11h1v1h-1zM15 44h1v1h-1z"/>
<path fill="#07080b" d="M3 1h1v1h-1z"/>
<path fill="#080926" d="M4 1h1v1h-1z"/>
<path fill="#061e10" d="M5 1h1v1h-1z"/>
<path fill="#080708" d="M6 1h1v1h-1zM13 13h1v1h-1zM0 37h1v1h-1z"/>
<path fill="#0b0709" d="M7 1h1v1h-1zM39 19h1v1h-1zM11 32h1v1h-1z"/>
<path fill="#090a1d" d="M8 1h1v1h-1z"/>
<path fill="#05080b" d="M9 1h1v1h-1zM8 8h1v1h-1z"/>
<path fill="#080606" d="M10 1h1v1h-1zM44 12h1v1h-1z"/>
<path fill="#050309" d="M11 1h1v1h-1z"/>
<path fill="#0a0405" d="M12 1h1v1h-1zM38 2h1v1h-1zM35 38h1v1h-1z"/>
<path fill="#09030d" d="M13 1h1v1h-1z"/>
<path fill="#0c060a" d="M14 1h1v1h-1zM39 4h1v1h-1z"/>
<path fill="#0c0812" d="M15 1h1v1h-1z"/>
<path fill="#0f1d11" d="M16 1h1v1h-1z"/>
<path fill="#060806" d="M17 1h1v1h-1z"/>
<path fill="#030507" d="M18 1h1v1h-1z"/>
<path fill="#08120d" d="M19 1h1v1h-1z"/>
<path fill="#0a030c" d="M20 1h1v1h-1zM35 22h1v1h-1z"/>
<path fill="#27090c" d="M21 1h1v1h-1z"/>
<path fill="#040607" d="M22 1h1v1h-1zM36 19h1v1h-1z"/>
<path fill="#0b0f0d" d="M23 1h1v1h-1zM19 39h1v1h-1z"/>
<path fill="#07080a" d="M24 1h1v1h-1zM18 8h1v1h-1zM10 11h1v1h-1zM32 42h1v1h-1zM11 43h1v1h-1z"/>
<path fill="#0b0404" d="M25 1h1v1h-1z"/>
<path fill="#070208" d="M26 1h1v1h-1z"/>
<path fill="#080608" d="M27 1h1v1h-1zM13 16h1v1h-1z"/>
<path fill="#05050a" d="M28 1h1v1h-1zM40 13h1v1h-1zM18 39h1v1h-1z"/>
<path fill="#0b040b" d="M29 1h1v1h-1zM2 39h1v1h-1z"/>
<path fill="#2c0a0f" d="M30 1h1v1h-1z"/>
<path fill="#06030d" d="M31 1h1v1h-1z"/>
<path fill="#33040c" d="M32 1h1v1h-1z"/>
<path fill="#2b0c08" d="M33 1h1v1h-1z"/>
<path fill="#0a0a1f" d="M34 1h1v1h-1z"/>
<path fill="#0a040b" d="M35 1h1v1h-1z"/>
<path fill="#090506" d="M36 1h1v1h-1zM1 5h1v1h-1zM1 43h1v1h-1zM30 44h1v1h-1z"/>
<path fill="#070708" d="M37 1h1v1h-1zM43 9h1v1h-1zM42 10h1v1h-1zM0 32h1v1h-1zM8 41h1v1h-1z"/>
<path fill="#090209" d="M38 1h1v1h-1z"/>
<path fill="#070508" d="M39 1h1v1h-1zM11 7h1v1h-1z"/>
<path fill="#190510" d="M40 1h1v1h-1z"/>
<path fill="#0a0308" d="M41 1h1v1h-1zM11 35h1v1h-1zM21 43h1v1h-1z"/>
<path fill="#1d0a06" d="M42 1h1v1h-1z"/>
<path fill="#0b0407" d="M43 1h1v1h-1zM0 15h1v1h-1z"/>
<path fill="#03030b" d="M44 1h1v1h-1zM5 14h1v1h-1zM11 42h1v1h-1z"/>
<path fill="#06081b" d="M0 2h1v1h-1z"/>
<path fill="#0a060d" d="M1 2h1v1h-1zM1 8h1v1h-1z"/>
<path fill="#040206" d="M2 2h1v1h-1z"/>
<path fill="#0c0925" d="M3 2h1v1h-1z"/>
<path fill="#0c0420" d="M4 2h1v1h-1z"/>
<path fill="#060412" d="M5 2h1v1h-1z"/>
<path fill="#0b0527" d="M6 2h1v1h-1z"/>
<path fill="#03050a" d="M7 2h1v1h-1zM2 12h1v1h-1zM8 23h1v1h-1z"/>
<path fill="#0a080a" d="M8 2h1v1h-1z"/>
<path fill="#06040b" d="M9 2h1v1h-1z"/>
<path fill="#040404" d="M10 2h1v1h-1zM27 42h1v1h-1z"/>
<path fill="#090608" d="M11 2h1v1h-1zM10 16h1v1h-1z"/>
<path fill="#0a0406" d="M12 2h1v1h-1zM6 10h1v1h-1zM5 44h1v1h-1z"/>
<path fill="#11200f" d="M13 2h1v1h-1zM28 7h1v1h-1z"/>
<path fill="#0b030a" d="M14 2h1v1h-1zM29 31h1v1h-1z"/>
<path fill="#030207" d="M15 2h1v1h-1zM29 3h1v1h-1zM16 10h1v1h-1z"/>
<path fill="#050527" d="M16 2h1v1h-1z"/>
<path fill="#08070a" d="M17 2h1v1h-1zM35 25h1v1h-1z"/>
<path fill="#09070b" d="M18 2h1v1h-1z"/>
<path fill="#330509" d="M19 2h1v1h-1z"/>
<path fill="#040706" d="M20 2h1v1h-1zM32 24h1v1h-1zM8 34h1v1h-1z"/>
<path fill="#0a0306" d="M21 2h1v1h-1z"/>
<path fill="#090806" d="M22 2h1v1h-1zM15 38h1v1h-1z"/>
<path fill="#1f040e" d="M23 2h1v1h-1z"/>
<path fill="#25050a" d="M24 2h1v1h-1z"/>
<path fill="#2b0511" d="M25 2h1v1h-1z"/>
<path fill="#0c0304" d="M26 2h1v1h-1zM30 43h1v1h-1z"/>
<path fill="#080709" d="M28 2h1v1h-1zM7 18h1v1h-1z"/>
<path fill="#050708" d="M29 2h1v1h-1zM29 34h1v1h-1zM22 40h1v1h-1zM8 42h1v1h-1z"/>
<path fill="#2d0c0a" d="M30 2h1v1h-1z"/>
<path fill="#0b060d" d="M31 2h1v1h-1zM11 36h1v1h-1z"/>
<path fill="#07200b" d="M32 2h1v1h-1z"/>
<path fill="#080c16" d="M33 2h1v1h-1z"/>
<path fill="#08050a" d="M34 2h1v1h-1zM22 36h1v1h-1z"/>
<path fill="#110f12" d="M35 2h1v1h-1z"/>
<path fill="#040515" d="M36 2h1v1h-1z"/>
<path fill="#0a030a" d="M37 2h1v1h-1zM3 28h1v1h-1zM24 40h1v1h-1zM17 42h1v1h-1z"/>
<path fill="#03060a" d="M39 2h1v1h-1z"/>
<path fill="#1d0a10" d="M40 2h1v1h-1z"/>
<path fill="#04020b" d="M41 2h1v1h-1z"/>
<path fill="#05070d" d="M42 2h1v1h-1zM9 13h1v1h-1zM33 28h1v1h-1z"/>
<path fill="#07081c" d="M43 2h1v1h-1z"/>
<path fill="#08080a" d="M44 2h1v1h-1zM33 12h1v1h-1z"/>
<path fill="#090826" d="M0 3h1v1h-1z"/>
<path fill="#080604" d="M1 3h1v1h-1z"/>
<path fill="#0c0306" d="M2 3h1v1h-1z"/>
<path fill="#040204" d="M3 3h1v1h-1z"/>
<path fill="#09100f" d="M4 3h1v1h-1z"/>
<path fill="#28080f" d="M6 3h1v1h-1z"/>
<path fill="#08050b" d="M7 3h1v1h-1zM25 38h1v1h-1z"/>
<path fill="#1d0607" d="M8 3h1v1h-1z"/>
<path fill="#0a0b16" d="M9 3h1v1h-1z"/>
<path fill="#040406" d="M10 3h1v1h-1zM26 40h1v1h-1z"/>
<path fill="#06020b" d="M11 3h1v1h-1zM40 5h1v1h-1zM30 38h1v1h-1z"/>
<path fill="#080809" d="M12 3h1v1h-1zM4 35h1v1h-1zM30 37h1v1h-1z"/>
<path fill="#040427" d="M13 3h1v1h-1z"/>
<path fill="#050209" d="M14 3h1v1h-1z"/>
<path fill="#070613" d="M15 3h1v1h-1z"/>
<path fill="#061612" d="M16 3h1v1h-1z"/>
<path fill="#250910" d="M17 3h1v1h-1z"/>
<path fill="#0b091b" d="M18 3h1v1h-1z"/>
<path fill="#2f0b08" d="M19 3h1v1h-1z"/>
<path fill="#0c0508" d="M21 3h1v1h-1z"/>
<path fill="#1a0b12" d="M22 3h1v1h-1z"/>
<path fill="#050204" d="M23 3h1v1h-1zM7 25h1v1h-1z"/>
<path fill="#0b0609" d="M24 3h1v1h-1zM34 9h1v1h-1z"/>
<path fill="#04030b" d="M25 3h1v1h-1z"/>
<path fill="#280410" d="M26 3h1v1h-1z"/>
<path fill="#061e0e" d="M27 3h1v1h-1z"/>
<path fill="#03040a" d="M28 3h1v1h-1z"/>
<path fill="#0e1b0b" d="M30 3h1v1h-1z"/>
<path fill="#040405" d="M31 3h1v1h-1zM5 38h1v1h-1zM30 41h1v1h-1zM19 42h1v1h-1z"/>
<path fill="#36060f" d="M32 3h1v1h-1z"/>
<path fill="#30070f" d="M33 3h1v1h-1zM13 20h1v1h-1z"/>
<path fill="#2a090d" d="M34 3h1v1h-1z"/>
<path fill="#090606" d="M35 3h1v1h-1zM11 23h1v1h-1z"/>
<path fill="#07070b" d="M36 3h1v1h-1z"/>
<path fill="#060605" d="M37 3h1v1h-1zM9 24h1v1h-1z"/>
<path fill="#280512" d="M38 3h1v1h-1z"/>
<path fill="#090406" d="M39 3h1v1h-1zM8 9h1v1h-1z"/>
<path fill="#1b0b09" d="M40 3h1v1h-1z"/>
<path fill="#090607" d="M41 3h1v1h-1z"/>
<path fill="#0b0713" d="M42 3h1v1h-1z"/>
<path fill="#070405" d="M43 3h1v1h-1zM2 22h1v1h-1z"/>
<path fill="#31090c" d="M44 3h1v1h-1z"/>
<path fill="#0b0208" d="M0 4h1v1h-1zM20 6h1v1h-1z"/>
<path fill="#050604" d="M1 4h1v1h-1zM5 13h1v1h-1z"/>
<path fill="#07020a" d="M3 4h1v1h-1zM10 7h1v1h-1zM33 33h1v1h-1zM5 41h1v1h-1z"/>
<path fill="#0a1e12" d="M5 4h1v1h-1z"/>
<path fill="#040523" d="M6 4h1v1h-1z"/>
<path fill="#0b0204" d="M7 4h1v1h-1zM36 8h1v1h-1z"/>
<path fill="#1d090c" d="M8 4h1v1h-1z"/>
<path fill="#0c0207" d="M9 4h1v1h-1zM1 29h1v1h-1zM2 36h1v1h-1z"/>
<path fill="#050407" d="M10 4h1v1h-1zM16 8h1v1h-1z"/>
<path fill="#040624" d="M11 4h1v1h-1z"/>
<path fill="#050705" d="M12 4h1v1h-1zM42 6h1v1h-1z"/>
<path fill="#060620" d="M13 4h1v1h-1z"/>
<path fill="#09080a" d="M14 4h1v1h-1zM11 15h1v1h-1zM4 18h1v1h-1z"/>
<path fill="#230b09" d="M15 4h1v1h-1z"/>
<path fill="#09030b" d="M16 4h1v1h-1z"/>
<path fill="#2e060e" d="M17 4h1v1h-1z"/>
<path fill="#0a0604" d="M18 4h1v1h-1zM0 34h1v1h-1z"/>
<path fill="#330a10" d="M19 4h1v1h-1z"/>
<path fill="#19040f" d="M20 4h1v1h-1z"/>
<path fill="#111a0e" d="M21 4h1v1h-1z"/>
<path fill="#060407" d="M22 4h1v1h-1zM38 12h1v1h-1z"/>
<path fill="#0c0919" d="M23 4h1v1h-1z"/>
<path fill="#070425" d="M24 4h1v1h-1z"/>
<path fill="#080306" d="M25 4h1v1h-1zM4 42h1v1h-1z"/>
<path fill="#0a0504" d="M26 4h1v1h-1z"/>
<path fill="#250512" d="M27 4h1v1h-1z"/>
<path fill="#060809" d="M28 4h1v1h-1zM25 42h1v1h-1z"/>
<path fill="#0a080c" d="M29 4h1v1h-1zM40 14h1v1h-1zM33 26h1v1h-1z"/>
<path fill="#060504" d="M30 4h1v1h-1z"/>
<path fill="#2c060c" d="M31 4h1v1h-1z"/>
<path fill="#2e040f" d="M32 4h1v1h-1z"/>
<path fill="#0a0c21" d="M33 4h1v1h-1z"/>
<path fill="#09050d" d="M34 4h1v1h-1zM16 7h1v1h-1z"/>
<path fill="#0b0704" d="M35 4h1v1h-1zM3 24h1v1h-1z"/>
<path fill="#09040d" d="M36 4h1v1h-1z"/>
<path fill="#310c09" d="M37 4h1v1h-1z"/>
<path fill="#050414" d="M38 4h1v1h-1z"/>
<path fill="#040828" d="M40 4h1v1h-1z"/>
<path fill="#061112" d="M41 4h1v1h-1z"/>
<path fill="#07040d" d="M42 4h1v1h-1zM14 7h1v1h-1zM33 31h1v1h-1zM13 35h1v1h-1z"/>
<path fill="#1c070b" d="M44 4h1v1h-1z"/>
<path fill="#0b050a" d="M0 5h1v1h-1zM38 5h1v1h-1zM2 27h1v1h-1zM8 33h1v1h-1zM26 43h1v1h-1z"/>
<path fill="#0b030d" d="M2 5h1v1h-1zM33 37h1v1h-1z"/>
<path fill="#090528" d="M3 5h1v1h-1z"/>
<path fill="#080305" d="M4 5h1v1h-1z"/>
<path fill="#0a1714" d="M5 5h1v1h-1z"/>
<path fill="#060705" d="M7 5h1v1h-1zM10 25h1v1h-1z"/>
<path fill="#0b070a" d="M8 5h1v1h-1zM9 21h1v1h-1z"/>
<path fill="#09050c" d="M9 5h1v1h-1zM34 17h1v1h-1z"/>
<path fill="#06040a" d="M10 5h1v1h-1zM25 5h1v1h-1zM32 5h1v1h-1zM4 36h1v1h-1z"/>
<path fill="#09061f" d="M11 5h1v1h-1z"/>
<path fill="#1c080f" d="M12 5h1v1h-1z"/>
<path fill="#0c030a" d="M13 5h1v1h-1zM39 14h1v1h-1zM0 31h1v1h-1zM1 36h1v1h-1z"/>
<path fill="#0f1212" d="M14 5h1v1h-1z"/>
<path fill="#080705" d="M15 5h1v1h-1zM5 10h1v1h-1z"/>
<path fill="#28060e" d="M16 5h1v1h-1z"/>
<path fill="#08030b" d="M17 5h1v1h-1z"/>
<path fill="#06070d" d="M18 5h1v1h-1z"/>
<path fill="#0a0805" d="M19 5h1v1h-1z"/>
<path fill="#2e0607" d="M20 5h1v1h-1z"/>
<path fill="#1d090f" d="M21 5h1v1h-1z"/>
<path fill="#0c080b" d="M22 5h1v1h-1zM1 6h1v1h-1zM36 22h1v1h-1zM32 33h1v1h-1z"/>
<path fill="#05070c" d="M23 5h1v1h-1z"/>
<path fill="#040506" d="M24 5h1v1h-1zM12 9h1v1h-1zM15 36h1v1h-1z"/>
<path fill="#0b0619" d="M26 5h1v1h-1z"/>
<path fill="#0b060a" d="M27 5h1v1h-1zM1 10h1v1h-1zM12 44h1v1h-1z"/>
<path fill="#2b0908" d="M28 5h1v1h-1z"/>
<path fill="#0a0509" d="M29 5h1v1h-1zM14 41h1v1h-1z"/>
<path fill="#040508" d="M30 5h1v1h-1zM6 15h1v1h-1z"/>
<path fill="#310b0b" d="M31 5h1v1h-1z"/>
<path fill="#350b10" d="M33 5h1v1h-1z"/>
<path fill="#040605" d="M34 5h1v1h-1zM35 28h1v1h-1zM8 35h1v1h-1z"/>
<path fill="#090522" d="M35 5h1v1h-1z"/>
<path fill="#060507" d="M36 5h1v1h-1zM10 34h1v1h-1z"/>
<path fill="#05061a" d="M37 5h1v1h-1z"/>
<path fill="#0b080a" d="M39 5h1v1h-1zM9 32h1v1h-1z"/>
<path fill="#050416" d="M41 5h1v1h-1z"/>
<path fill="#04041a" d="M42 5h1v1h-1z"/>
<path fill="#09080c" d="M43 5h1v1h-1zM17 40h1v1h-1z"/>
<path fill="#1f0712" d="M44 5h1v1h-1z"/>
<path fill="#0a0605" d="M0 6h1v1h-1zM8 14h1v1h-1z"/>
<path fill="#03030a" d="M2 6h1v1h-1zM35 42h1v1h-1z"/>
<path fill="#0b050d" d="M3 6h1v1h-1z"/>
<path fill="#0c070d" d="M4 6h1v1h-1z"/>
<path fill="#190a12" d="M5 6h1v1h-1z"/>
<path fill="#090504" d="M6 6h1v1h-1z"/>
<path fill="#050406" d="M7 6h1v1h-1zM0 28h1v1h-1z"/>
<path fill="#070a14" d="M8 6h1v1h-1z"/>
<path fill="#06050a" d="M9 6h1v1h-1zM3 9h1v1h-1z"/>
<path fill="#081e0d" d="M10 6h1v1h-1z"/>
<path fill="#050620" d="M11 6h1v1h-1z"/>
<path fill="#2e0a06" d="M12 6h1v1h-1z"/>
<path fill="#0a040d" d="M14 6h1v1h-1z"/>
<path fill="#0a0305" d="M15 6h1v1h-1z"/>
<path fill="#0c0204" d="M16 6h1v1h-1zM7 7h1v1h-1zM12 43h1v1h-1z"/>
<path fill="#0c110c" d="M17 6h1v1h-1z"/>
<path fill="#2d090b" d="M18 6h1v1h-1z"/>
<path fill="#05040c" d="M19 6h1v1h-1zM6 23h1v1h-1z"/>
<path fill="#2c0a0b" d="M21 6h1v1h-1z"/>
<path fill="#0b0c24" d="M22 6h1v1h-1zM37 27h1v1h-1z"/>
<path fill="#060707" d="M23 6h1v1h-1zM34 12h1v1h-1z"/>
<path fill="#0c051e" d="M24 6h1v1h-1z"/>
<path fill="#260507" d="M25 6h1v1h-1z"/>
<path fill="#1e0b0a" d="M26 6h1v1h-1z"/>
<path fill="#0c0409" d="M27 6h1v1h-1zM31 39h1v1h-1z"/>
<path fill="#270807" d="M28 6h1v1h-1z"/>
<path fill="#080905" d="M29 6h1v1h-1z"/>
<path fill="#0a0606" d="M30 6h1v1h-1zM35 35h1v1h-1zM26 38h1v1h-1z"/>
<path fill="#08060c" d="M31 6h1v1h-1z"/>
<path fill="#0a0a1b" d="M32 6h1v1h-1z"/>
<path fill="#0c0705" d="M33 6h1v1h-1zM7 35h1v1h-1zM8 43h1v1h-1z"/>
<path fill="#030707" d="M34 6h1v1h-1z"/>
<path fill="#09020c" d="M35 6h1v1h-1z"/>
<path fill="#0c091f" d="M36 6h1v1h-1z"/>
<path fill="#24050d" d="M37 6h1v1h-1zM34 34h1v1h-1z"/>
<path fill="#2b070f" d="M38 6h1v1h-1z"/>
<path fill="#030705" d="M39 6h1v1h-1z"/>
<path fill="#35060b" d="M40 6h1v1h-1z"/>
<path fill="#070808" d="M41 6h1v1h-1zM11 19h1v1h-1zM6 40h1v1h-1z"/>
<path fill="#04081e" d="M43 6h1v1h-1z"/>
<path fill="#121613" d="M44 6h1v1h-1z"/>
<path fill="#0b0625" d="M0 7h1v1h-1z"/>
<path fill="#1a090e" d="M1 7h1v1h-1z"/>
<path fill="#270411" d="M2 7h1v1h-1z"/>
<path fill="#0a0704" d="M3 7h1v1h-1zM10 18h1v1h-1z"/>
<path fill="#26050c" d="M4 7h1v1h-1z"/>
<path fill="#0c050d" d="M5 7h1v1h-1zM0 24h1v1h-1z"/>
<path fill="#0b0705" d="M6 7h1v1h-1zM9 7h1v1h-1z"/>
<path fill="#270810" d="M8 7h1v1h-1z"/>
<path fill="#090c27" d="M12 7h1v1h-1z"/>
<path fill="#0a0506" d="M13 7h1v1h-1z"/>
<path fill="#07130d" d="M15 7h1v1h-1z"/>
<path fill="#090307" d="M17 7h1v1h-1zM1 18h1v1h-1z"/>
<path fill="#280610" d="M18 7h1v1h-1z"/>
<path fill="#0c0404" d="M19 7h1v1h-1z"/>
<path fill="#200b0e" d="M20 7h1v1h-1z"/>
<path fill="#060708" d="M21 7h1v1h-1zM2 9h1v1h-1zM30 9h1v1h-1zM29 29h1v1h-1z"/>
<path fill="#090709" d="M22 7h1v1h-1zM5 31h1v1h-1z"/>
<path fill="#070807" d="M23 7h1v1h-1z"/>
<path fill="#0c1a11" d="M24 7h1v1h-1z"/>
<path fill="#050727" d="M25 7h1v1h-1z"/>
<path fill="#080407" d="M26 7h1v1h-1zM10 13h1v1h-1z"/>
<path fill="#070a0e" d="M27 7h1v1h-1z"/>
<path fill="#0b170a" d="M29 7h1v1h-1z"/>
<path fill="#080309" d="M30 7h1v1h-1z"/>
<path fill="#2d0a0d" d="M31 7h1v1h-1z"/>
<path fill="#090306" d="M32 7h1v1h-1zM25 40h1v1h-1z"/>
<path fill="#060415" d="M33 7h1v1h-1z"/>
<path fill="#0b0505" d="M34 7h1v1h-1z"/>
<path fill="#04030a" d="M35 7h1v1h-1zM11 12h1v1h-1z"/>
<path fill="#2b0c0a" d="M36 7h1v1h-1z"/>
<path fill="#0b0409" d="M37 7h1v1h-1zM9 27h1v1h-1zM21 37h1v1h-1zM0 38h1v1h-1z"/>
<path fill="#0a0505" d="M38 7h1v1h-1zM13 38h1v1h-1z"/>
<path fill="#091211" d="M39 7h1v1h-1z"/>
<path fill="#04070c" d="M40 7h1v1h-1zM11 27h1v1h-1zM19 44h1v1h-1z"/>
<path fill="#040408" d="M41 7h1v1h-1zM13 18h1v1h-1z"/>
<path fill="#090207" d="M42 7h1v1h-1zM2 35h1v1h-1z"/>
<path fill="#050506" d="M43 7h1v1h-1z"/>
<path fill="#220410" d="M0 8h1v1h-1z"/>
<path fill="#070406" d="M2 8h1v1h-1zM5 43h1v1h-1z"/>
<path fill="#07050b" d="M3 8h1v1h-1zM7 14h1v1h-1z"/>
<path fill="#0c0206" d="M4 8h1v1h-1zM8 22h1v1h-1z"/>
<path fill="#0a0705" d="M5 8h1v1h-1zM37 12h1v1h-1zM35 30h1v1h-1zM4 31h1v1h-1z"/>
<path fill="#060307" d="M6 8h1v1h-1z"/>
<path fill="#071d0c" d="M7 8h1v1h-1z"/>
<path fill="#2b0810" d="M9 8h1v1h-1z"/>
<path fill="#040c23" d="M10 8h1v1h-1z"/>
<path fill="#31040b" d="M11 8h1v1h-1z"/>
<path fill="#0a070b" d="M12 8h1v1h-1z"/>
<path fill="#0b0608" d="M13 8h1v1h-1z"/>
<path fill="#030406" d="M14 8h1v1h-1zM44 11h1v1h-1z"/>
<path fill="#03020b" d="M17 8h1v1h-1zM7 19h1v1h-1z"/>
<path fill="#09090d" d="M19 8h1v1h-1zM37 29h1v1h-1z"/>
<path fill="#08080d" d="M20 8h1v1h-1zM24 36h1v1h-1z"/>
<path fill="#0c0906" d="M21 8h1v1h-1z"/>
<path fill="#250610" d="M22 8h1v1h-1z"/>
<path fill="#0a0b0c" d="M23 8h1v1h-1z"/>
<path fill="#250810" d="M24 8h1v1h-1z"/>
<path fill="#07070a" d="M25 8h1v1h-1zM34 35h1v1h-1zM35 36h1v1h-1z"/>
<path fill="#070b0d" d="M26 8h1v1h-1z"/>
<path fill="#09090b" d="M27 8h1v1h-1z"/>
<path fill="#04060a" d="M28 8h1v1h-1zM6 22h1v1h-1z"/>
<path fill="#0b060c" d="M29 8h1v1h-1z"/>
<path fill="#060907" d="M30 8h1v1h-1zM23 36h1v1h-1z"/>
<path fill="#0c0c26" d="M31 8h1v1h-1z"/>
<path fill="#070705" d="M32 8h1v1h-1zM9 22h1v1h-1z"/>
<path fill="#1a0b07" d="M33 8h1v1h-1z"/>
<path fill="#09120a" d="M34 8h1v1h-1z"/>
<path fill="#0a080b" d="M35 8h1v1h-1z"/>
<path fill="#0c060b" d="M37 8h1v1h-1zM37 43h1v1h-1z"/>
<path fill="#0c060d" d="M38 8h1v1h-1zM36 16h1v1h-1zM7 17h1v1h-1zM12 23h1v1h-1z"/>
<path fill="#101d10" d="M39 8h1v1h-1z"/>
<path fill="#07190b" d="M40 8h1v1h-1z"/>
<path fill="#240508" d="M41 8h1v1h-1zM3 15h1v1h-1z"/>
<path fill="#06100e" d="M42 8h1v1h-1z"/>
<path fill="#1f0a0c" d="M43 8h1v1h-1z"/>
<path fill="#071b13" d="M44 8h1v1h-1z"/>
<path fill="#081b0f" d="M0 9h1v1h-1z"/>
<path fill="#37040a" d="M1 9h1v1h-1z"/>
<path fill="#0b080b" d="M4 9h1v1h-1zM7 24h1v1h-1z"/>
<path fill="#06040d" d="M5 9h1v1h-1zM34 31h1v1h-1z"/>
<path fill="#040723" d="M6 9h1v1h-1z"/>
<path fill="#050405" d="M7 9h1v1h-1zM42 12h1v1h-1zM6 31h1v1h-1zM25 39h1v1h-1zM4 40h1v1h-1z"/>
<path fill="#05020c" d="M9 9h1v1h-1z"/>
<path fill="#260511" d="M10 9h1v1h-1z"/>
<path fill="#2a0b0b" d="M11 9h1v1h-1z"/>
<path fill="#040921" d="M13 9h1v1h-1z"/>
<path fill="#0b0925" d="M14 9h1v1h-1zM32 13h1v1h-1z"/>
<path fill="#09030a" d="M15 9h1v1h-1zM41 13h1v1h-1z"/>
<path fill="#0a0804" d="M16 9h1v1h-1zM12 14h1v1h-1zM8 37h1v1h-1z"/>
<path fill="#0a1210" d="M17 9h1v1h-1z"/>
<path fill="#290b0a" d="M18 9h1v1h-1z"/>
<path fill="#2b0a08" d="M19 9h1v1h-1z"/>
<path fill="#210c0a" d="M20 9h1v1h-1z"/>
<path fill="#050b25" d="M21 9h1v1h-1z"/>
<path fill="#050b0a" d="M22 9h1v1h-1z"/>
<path fill="#050910" d="M23 9h1v1h-1z"/>
<path fill="#0a0b11" d="M24 9h1v1h-1z"/>
<path fill="#0a0f25" d="M25 9h1v1h-1z"/>
<path fill="#060e12" d="M26 9h1v1h-1z"/>
<path fill="#0a1515" d="M27 9h1v1h-1z"/>
<path fill="#0a0d20" d="M28 9h1v1h-1z"/>
<path fill="#200d0b" d="M29 9h1v1h-1z"/>
<path fill="#040a0d" d="M31 9h1v1h-1zM15 34h1v1h-1z"/>
<path fill="#0b0524" d="M32 9h1v1h-1z"/>
<path fill="#0a180d" d="M33 9h1v1h-1z"/>
<path fill="#04080c" d="M35 9h1v1h-1z"/>
<path fill="#0a0507" d="M36 9h1v1h-1zM36 13h1v1h-1zM7 15h1v1h-1zM7 26h1v1h-1z"/>
<path fill="#090505" d="M37 9h1v1h-1z"/>
<path fill="#270906" d="M38 9h1v1h-1z"/>
<path fill="#090a25" d="M39 9h1v1h-1z"/>
<path fill="#040304" d="M40 9h1v1h-1z"/>
<path fill="#07020d" d="M41 9h1v1h-1zM14 44h1v1h-1z"/>
<path fill="#310407" d="M42 9h1v1h-1z"/>
<path fill="#07041f" d="M44 9h1v1h-1z"/>
<path fill="#050709" d="M0 10h1v1h-1z"/>
<path fill="#0c0504" d="M2 10h1v1h-1z"/>
<path fill="#0d1911" d="M3 10h1v1h-1z"/>
<path fill="#27080b" d="M4 10h1v1h-1z"/>
<path fill="#320c0d" d="M7 10h1v1h-1z"/>
<path fill="#06061f" d="M8 10h1v1h-1z"/>
<path fill="#2e0a0b" d="M9 10h1v1h-1z"/>
<path fill="#060a25" d="M10 10h1v1h-1z"/>
<path fill="#04040a" d="M11 10h1v1h-1z"/>
<path fill="#330710" d="M12 10h1v1h-1z"/>
<path fill="#0a060c" d="M13 10h1v1h-1z"/>
<path fill="#1c0c0a" d="M14 10h1v1h-1z"/>
<path fill="#230908" d="M15 10h1v1h-1z"/>
<path fill="#07060c" d="M17 10h1v1h-1z"/>
<path fill="#091914" d="M18 10h1v1h-1z"/>
<path fill="#090d13" d="M19 10h1v1h-1z"/>
<path fill="#190b0b" d="M20 10h1v1h-1z"/>
<path fill="#08090d" d="M21 10h1v1h-1zM36 23h1v1h-1z"/>
<path fill="#061114" d="M22 10h1v1h-1z"/>
<path fill="#091414" d="M23 10h1v1h-1z"/>
<path fill="#081622" d="M24 10h1v1h-1z"/>
<path fill="#17161c" d="M25 10h1v1h-1z"/>
<path fill="#061616" d="M26 10h1v1h-1z"/>
<path fill="#081311" d="M27 10h1v1h-1z"/>
<path fill="#0b0d12" d="M28 10h1v1h-1z"/>
<path fill="#050b11" d="M29 10h1v1h-1z"/>
<path fill="#1d0911" d="M30 10h1v1h-1zM2 31h1v1h-1zM9 44h1v1h-1z"/>
<path fill="#2b080c" d="M31 10h1v1h-1z"/>
<path fill="#070c13" d="M32 10h1v1h-1z"/>
<path fill="#03070a" d="M33 10h1v1h-1z"/>
<path fill="#080509" d="M34 10h1v1h-1zM10 39h1v1h-1z"/>
<path fill="#0c040b" d="M35 10h1v1h-1z"/>
<path fill="#190709" d="M36 10h1v1h-1z"/>
<path fill="#0c0405" d="M37 10h1v1h-1zM1 42h1v1h-1z"/>
<path fill="#091b12" d="M38 10h1v1h-1z"/>
<path fill="#060406" d="M39 10h1v1h-1z"/>
<path fill="#081211" d="M40 10h1v1h-1z"/>
<path fill="#0c0507" d="M41 10h1v1h-1zM3 14h1v1h-1z"/>
<path fill="#1e0c12" d="M43 10h1v1h-1z"/>
<path fill="#040809" d="M44 10h1v1h-1z"/>
<path fill="#0b0804" d="M0 11h1v1h-1z"/>
<path fill="#0c0625" d="M1 11h1v1h-1z"/>
<path fill="#32080c" d="M2 11h1v1h-1z"/>
<path fill="#0b0916" d="M3 11h1v1h-1z"/>
<path fill="#0e2012" d="M4 11h1v1h-1z"/>
<path fill="#070f0f" d="M5 11h1v1h-1z"/>
<path fill="#0e0f0b" d="M6 11h1v1h-1z"/>
<path fill="#06081e" d="M7 11h1v1h-1z"/>
<path fill="#070209" d="M8 11h1v1h-1zM2 44h1v1h-1z"/>
<path fill="#050712" d="M9 11h1v1h-1z"/>
<path fill="#07020b" d="M11 11h1v1h-1zM4 28h1v1h-1zM32 29h1v1h-1z"/>
<path fill="#05050b" d="M12 11h1v1h-1zM3 17h1v1h-1zM7 43h1v1h-1z"/>
<path fill="#03080a" d="M13 11h1v1h-1zM32 26h1v1h-1z"/>
<path fill="#03030c" d="M14 11h1v1h-1z"/>
<path fill="#08060d" d="M16 11h1v1h-1z"/>
<path fill="#050608" d="M17 11h1v1h-1z"/>
<path fill="#0c0907" d="M18 11h1v1h-1z"/>
<path fill="#070e21" d="M19 11h1v1h-1z"/>
<path fill="#060f12" d="M20 11h1v1h-1z"/>
<path fill="#0b1217" d="M21 11h1v1h-1z"/>
<path fill="#0b2320" d="M22 11h1v1h-1z"/>
<path fill="#0a1c1e" d="M23 11h1v1h-1z"/>
<path fill="#0d2222" d="M24 11h1v1h-1z"/>
<path fill="#0b2126" d="M25 11h1v1h-1z"/>
<path fill="#0a1e20" d="M26 11h1v1h-1z"/>
<path fill="#091d1e" d="M27 11h1v1h-1z"/>
<path fill="#081416" d="M28 11h1v1h-1z"/>
<path fill="#0a1628" d="M29 11h1v1h-1z"/>
<path fill="#090e0f" d="M30 11h1v1h-1z"/>
<path fill="#0a0b0f" d="M31 11h1v1h-1zM38 44h1v1h-1z"/>
<path fill="#0b0707" d="M32 11h1v1h-1zM40 17h1v1h-1zM38 18h1v1h-1z"/>
<path fill="#0c0606" d="M33 11h1v1h-1zM33 36h1v1h-1z"/>
<path fill="#030408" d="M34 11h1v1h-1zM31 28h1v1h-1z"/>
<path fill="#070408" d="M35 11h1v1h-1zM15 43h1v1h-1z"/>
<path fill="#10160f" d="M36 11h1v1h-1z"/>
<path fill="#0c050b" d="M37 11h1v1h-1zM0 25h1v1h-1zM5 42h1v1h-1z"/>
<path fill="#0c170b" d="M38 11h1v1h-1z"/>
<path fill="#040915" d="M39 11h1v1h-1z"/>
<path fill="#060408" d="M40 11h1v1h-1z"/>
<path fill="#04080d" d="M42 11h1v1h-1zM11 39h1v1h-1z"/>
<path fill="#04070d" d="M43 11h1v1h-1zM1 19h1v1h-1zM36 20h1v1h-1z"/>
<path fill="#22060e" d="M0 12h1v1h-1z"/>
<path fill="#060409" d="M1 12h1v1h-1zM10 33h1v1h-1z"/>
<path fill="#04040c" d="M3 12h1v1h-1z"/>
<path fill="#040805" d="M4 12h1v1h-1zM9 17h1v1h-1z"/>
<path fill="#220c0d" d="M5 12h1v1h-1z"/>
<path fill="#30060b" d="M6 12h1v1h-1z"/>
<path fill="#0b0808" d="M7 12h1v1h-1zM14 39h1v1h-1z"/>
<path fill="#0a0a22" d="M8 12h1v1h-1z"/>
<path fill="#280811" d="M9 12h1v1h-1z"/>
<path fill="#0a0208" d="M10 12h1v1h-1z"/>
<path fill="#2b0710" d="M12 12h1v1h-1z"/>
<path fill="#0c050c" d="M13 12h1v1h-1zM31 40h1v1h-1z"/>
<path fill="#101e10" d="M14 12h1v1h-1zM14 33h1v1h-1z"/>
<path fill="#060405" d="M15 12h1v1h-1z"/>
<path fill="#2a0b0d" d="M16 12h1v1h-1z"/>
<path fill="#2a0d0d" d="M17 12h1v1h-1z"/>
<path fill="#08090c" d="M18 12h1v1h-1z"/>
<path fill="#0c2013" d="M19 12h1v1h-1zM11 25h1v1h-1z"/>
<path fill="#151917" d="M20 12h1v1h-1z"/>
<path fill="#0c1d21" d="M21 12h1v1h-1z"/>
<path fill="#0d282c" d="M22 12h1v1h-1z"/>
<path fill="#113437" d="M23 12h1v1h-1z"/>
<path fill="#113b42" d="M24 12h1v1h-1z"/>
<path fill="#123e3f" d="M25 12h1v1h-1z"/>
<path fill="#0f3437" d="M26 12h1v1h-1z"/>
<path fill="#0f2a2f" d="M27 12h1v1h-1z"/>
<path fill="#0d2331" d="M28 12h1v1h-1z"/>
<path fill="#0c1a1a" d="M29 12h1v1h-1z"/>
<path fill="#1a1415" d="M30 12h1v1h-1z"/>
<path fill="#050e0f" d="M31 12h1v1h-1z"/>
<path fill="#070b1e" d="M32 12h1v1h-1z"/>
<path fill="#030505" d="M35 12h1v1h-1z"/>
<path fill="#1f0a12" d="M36 12h1v1h-1z"/>
<path fill="#0c020a" d="M39 12h1v1h-1z"/>
<path fill="#060506" d="M40 12h1v1h-1z"/>
<path fill="#070909" d="M41 12h1v1h-1z"/>
<path fill="#080406" d="M43 12h1v1h-1zM0 18h1v1h-1zM4 38h1v1h-1zM23 42h1v1h-1z"/>
<path fill="#090c28" d="M0 13h1v1h-1z"/>
<path fill="#050507" d="M1 13h1v1h-1zM6 17h1v1h-1zM32 36h1v1h-1z"/>
<path fill="#0a0808" d="M2 13h1v1h-1z"/>
<path fill="#0c0604" d="M3 13h1v1h-1zM33 41h1v1h-1z"/>
<path fill="#0c0305" d="M4 13h1v1h-1z"/>
<path fill="#0c0408" d="M6 13h1v1h-1z"/>
<path fill="#03080c" d="M7 13h1v1h-1z"/>
<path fill="#0a0528" d="M8 13h1v1h-1z"/>
<path fill="#05030d" d="M11 13h1v1h-1z"/>
<path fill="#07060a" d="M12 13h1v1h-1zM2 38h1v1h-1z"/>
<path fill="#040827" d="M14 13h1v1h-1z"/>
<path fill="#0c0708" d="M15 13h1v1h-1zM5 15h1v1h-1zM19 36h1v1h-1z"/>
<path fill="#050715" d="M16 13h1v1h-1zM42 13h1v1h-1z"/>
<path fill="#0c0910" d="M17 13h1v1h-1z"/>
<path fill="#1e0e13" d="M18 13h1v1h-1z"/>
<path fill="#07151a" d="M19 13h1v1h-1z"/>
<path fill="#0c222f" d="M20 13h1v1h-1z"/>
<path fill="#113439" d="M21 13h1v1h-1z"/>
<path fill="#154a4e" d="M22 13h1v1h-1z"/>
<path fill="#185359" d="M23 13h1v1h-1z"/>
<path fill="#19575e" d="M24 13h1v1h-1zM20 15h1v1h-1zM26 27h1v1h-1z"/>
<path fill="#18565c" d="M25 13h1v1h-1z"/>
<path fill="#175157" d="M26 13h1v1h-1zM29 16h1v1h-1z"/>
<path fill="#144549" d="M27 13h1v1h-1zM16 29h1v1h-1z"/>
<path fill="#173438" d="M28 13h1v1h-1z"/>
<path fill="#0c2427" d="M29 13h1v1h-1z"/>
<path fill="#0b1718" d="M30 13h1v1h-1z"/>
<path fill="#0d2118" d="M31 13h1v1h-1z"/>
<path fill="#2f0c12" d="M33 13h1v1h-1z"/>
<path fill="#040b14" d="M34 13h1v1h-1z"/>
<path fill="#08070b" d="M35 13h1v1h-1zM24 39h1v1h-1z"/>
<path fill="#090b27" d="M37 13h1v1h-1z"/>
<path fill="#040704" d="M38 13h1v1h-1z"/>
<path fill="#03040c" d="M39 13h1v1h-1z"/>
<path fill="#04090e" d="M43 13h1v1h-1z"/>
<path fill="#1f0d0e" d="M44 13h1v1h-1z"/>
<path fill="#080507" d="M0 14h1v1h-1z"/>
<path fill="#060305" d="M1 14h1v1h-1z"/>
<path fill="#070404" d="M2 14h1v1h-1zM4 29h1v1h-1z"/>
<path fill="#08030d" d="M4 14h1v1h-1zM9 14h1v1h-1z"/>
<path fill="#030804" d="M6 14h1v1h-1zM23 40h1v1h-1z"/>
<path fill="#03080d" d="M10 14h1v1h-1zM4 24h1v1h-1z"/>
<path fill="#190907" d="M11 14h1v1h-1z"/>
<path fill="#06060b" d="M13 14h1v1h-1zM36 36h1v1h-1z"/>
<path fill="#06060a" d="M14 14h1v1h-1z"/>
<path fill="#2e0612" d="M15 14h1v1h-1z"/>
<path fill="#0b180d" d="M16 14h1v1h-1z"/>
<path fill="#0b0d1b" d="M17 14h1v1h-1z"/>
<path fill="#081314" d="M18 14h1v1h-1z"/>
<path fill="#0d2326" d="M19 14h1v1h-1z"/>
<path fill="#193b3f" d="M20 14h1v1h-1z"/>
<path fill="#18545a" d="M21 14h1v1h-1zM29 21h1v1h-1zM16 22h1v1h-1z"/>
<path fill="#1c5d6a" d="M22 14h1v1h-1z"/>
<path fill="#1f6375" d="M23 14h1v1h-1zM23 29h1v1h-1z"/>
<path fill="#206579" d="M24 14h1v1h-1zM27 24h1v1h-1z"/>
<path fill="#1f6476" d="M25 14h1v1h-1z"/>
<path fill="#1d5f6d" d="M26 14h1v1h-1z"/>
<path fill="#195961" d="M27 14h1v1h-1z"/>
<path fill="#164d52" d="M28 14h1v1h-1zM18 17h1v1h-1z"/>
<path fill="#103134" d="M29 14h1v1h-1z"/>
<path fill="#0b1f21" d="M30 14h1v1h-1z"/>
<path fill="#0b1428" d="M31 14h1v1h-1z"/>
<path fill="#0a0e0d" d="M32 14h1v1h-1z"/>
<path fill="#0b060b" d="M33 14h1v1h-1zM36 35h1v1h-1z"/>
<path fill="#080808" d="M34 14h1v1h-1z"/>
<path fill="#090305" d="M35 14h1v1h-1zM2 19h1v1h-1z"/>
<path fill="#0a071d" d="M36 14h1v1h-1z"/>
<path fill="#350411" d="M37 14h1v1h-1z"/>
<path fill="#0c040c" d="M38 14h1v1h-1z"/>
<path fill="#0b040e" d="M41 14h1v1h-1z"/>
<path fill="#0c0709" d="M42 14h1v1h-1zM32 25h1v1h-1zM32 35h1v1h-1zM36 39h1v1h-1z"/>
<path fill="#080b06" d="M43 14h1v1h-1z"/>
<path fill="#09080d" d="M44 14h1v1h-1z"/>
<path fill="#21060a" d="M1 15h1v1h-1z"/>
<path fill="#300509" d="M2 15h1v1h-1z"/>
<path fill="#0b070d" d="M4 15h1v1h-1zM31 30h1v1h-1z"/>
<path fill="#040307" d="M8 15h1v1h-1zM27 35h1v1h-1zM14 37h1v1h-1z"/>
<path fill="#070709" d="M12 15h1v1h-1z"/>
<path fill="#220610" d="M13 15h1v1h-1z"/>
<path fill="#04080e" d="M14 15h1v1h-1zM26 32h1v1h-1z"/>
<path fill="#0c080c" d="M15 15h1v1h-1zM23 43h1v1h-1z"/>
<path fill="#2d100e" d="M16 15h1v1h-1z"/>
<path fill="#0d2218" d="M17 15h1v1h-1z"/>
<path fill="#0e2a21" d="M18 15h1v1h-1z"/>
<path fill="#11393d" d="M19 15h1v1h-1zM28 25h1v1h-1z"/>
<path fill="#206478" d="M21 15h1v1h-1z"/>
<path fill="#267191" d="M22 15h1v1h-1z"/>
<path fill="#2b79a2" d="M23 15h1v1h-1z"/>
<path fill="#2c7ba6" d="M24 15h1v1h-1z"/>
<path fill="#2a78a0" d="M25 15h1v1h-1zM27 16h1v1h-1z"/>
<path fill="#267090" d="M26 15h1v1h-1zM28 21h1v1h-1z"/>
<path fill="#20657a" d="M27 15h1v1h-1z"/>
<path fill="#1a5a62" d="M28 15h1v1h-1zM24 29h1v1h-1z"/>
<path fill="#134347" d="M29 15h1v1h-1z"/>
<path fill="#0c2729" d="M30 15h1v1h-1zM30 21h1v1h-1z"/>
<path fill="#0c1615" d="M31 15h1v1h-1z"/>
<path fill="#200f16" d="M32 15h1v1h-1z"/>
<path fill="#050a0e" d="M33 15h1v1h-1z"/>
<path fill="#05040d" d="M34 15h1v1h-1zM36 41h1v1h-1z"/>
<path fill="#06090c" d="M35 15h1v1h-1z"/>
<path fill="#101a0f" d="M36 15h1v1h-1z"/>
<path fill="#0c0308" d="M37 15h1v1h-1zM1 20h1v1h-1z"/>
<path fill="#050306" d="M38 15h1v1h-1z"/>
<path fill="#210b0e" d="M39 15h1v1h-1z"/>
<path fill="#121f0f" d="M40 15h1v1h-1z"/>
<path fill="#05080d" d="M41 15h1v1h-1zM11 31h1v1h-1zM0 44h1v1h-1z"/>
<path fill="#080e15" d="M42 15h1v1h-1z"/>
<path fill="#06070b" d="M43 15h1v1h-1zM33 16h1v1h-1z"/>
<path fill="#061029" d="M44 15h1v1h-1z"/>
<path fill="#060505" d="M0 16h1v1h-1z"/>
<path fill="#0c070b" d="M1 16h1v1h-1zM4 21h1v1h-1zM9 30h1v1h-1z"/>
<path fill="#121c0e" d="M2 16h1v1h-1z"/>
<path fill="#0b1911" d="M3 16h1v1h-1z"/>
<path fill="#08070c" d="M5 16h1v1h-1z"/>
<path fill="#07030c" d="M6 16h1v1h-1zM11 21h1v1h-1z"/>
<path fill="#09081d" d="M7 16h1v1h-1z"/>
<path fill="#0c0609" d="M8 16h1v1h-1zM30 33h1v1h-1zM27 39h1v1h-1z"/>
<path fill="#061b0a" d="M9 16h1v1h-1z"/>
<path fill="#030409" d="M11 16h1v1h-1zM3 37h1v1h-1zM28 40h1v1h-1z"/>
<path fill="#33090c" d="M12 16h1v1h-1zM35 43h1v1h-1z"/>
<path fill="#0a1e0b" d="M14 16h1v1h-1z"/>
<path fill="#090a09" d="M15 16h1v1h-1z"/>
<path fill="#0c0e10" d="M16 16h1v1h-1z"/>
<path fill="#081a1a" d="M17 16h1v1h-1z"/>
<path fill="#10313a" d="M18 16h1v1h-1z"/>
<path fill="#18545b" d="M19 16h1v1h-1zM23 30h1v1h-1z"/>
<path fill="#20667b" d="M20 16h1v1h-1zM28 22h1v1h-1z"/>
<path fill="#2c7aa5" d="M21 16h1v1h-1z"/>
<path fill="#3d8bc3" d="M22 16h1v1h-1z"/>
<path fill="#4a97d6" d="M23 16h1v1h-1z"/>
<path fill="#4d99da" d="M24 16h1v1h-1z"/>
<path fill="#4895d3" d="M25 16h1v1h-1z"/>
<path fill="#3b89bf" d="M26 16h1v1h-1zM26 23h1v1h-1z"/>
<path fill="#1f6376" d="M28 16h1v1h-1zM18 19h1v1h-1z"/>
<path fill="#0e2d30" d="M30 16h1v1h-1z"/>
<path fill="#0c181b" d="M31 16h1v1h-1z"/>
<path fill="#080b12" d="M32 16h1v1h-1z"/>
<path fill="#08050e" d="M34 16h1v1h-1z"/>
<path fill="#0d140c" d="M35 16h1v1h-1z"/>
<path fill="#0a0706" d="M37 16h1v1h-1z"/>
<path fill="#0f1414" d="M38 16h1v1h-1z"/>
<path fill="#0c0a09" d="M39 16h1v1h-1zM12 29h1v1h-1z"/>
<path fill="#07070e" d="M40 16h1v1h-1z"/>
<path fill="#0c0707" d="M41 16h1v1h-1zM0 21h1v1h-1z"/>
<path fill="#060b0c" d="M42 16h1v1h-1z"/>
<path fill="#0b090d" d="M43 16h1v1h-1z"/>
<path fill="#0c0c0a" d="M44 16h1v1h-1z"/>
<path fill="#040707" d="M0 17h1v1h-1z"/>
<path fill="#0d170b" d="M1 17h1v1h-1z"/>
<path fill="#310709" d="M2 17h1v1h-1z"/>
<path fill="#1e0510" d="M4 17h1v1h-1z"/>
<path fill="#101a13" d="M5 17h1v1h-1z"/>
<path fill="#0a0407" d="M8 17h1v1h-1zM4 20h1v1h-1z"/>
<path fill="#2c0c09" d="M10 17h1v1h-1z"/>
<path fill="#05070a" d="M11 17h1v1h-1zM4 43h1v1h-1z"/>
<path fill="#0c1d0a" d="M12 17h1v1h-1z"/>
<path fill="#0d1909" d="M13 17h1v1h-1z"/>
<path fill="#07090a" d="M14 17h1v1h-1z"/>
<path fill="#0c080a" d="M15 17h1v1h-1zM28 38h1v1h-1z"/>
<path fill="#0b1516" d="M16 17h1v1h-1z"/>
<path fill="#0c262e" d="M17 17h1v1h-1z"/>
<path fill="#1e6171" d="M19 17h1v1h-1zM17 21h1v1h-1z"/>
<path fill="#2a779d" d="M20 17h1v1h-1zM28 20h1v1h-1z"/>
<path fill="#4390ca" d="M21 17h1v1h-1z"/>
<path fill="#6da0ea" d="M22 17h1v1h-1z"/>
<path fill="#94a0f0" d="M23 17h1v1h-1z"/>
<path fill="#9f9ded" d="M24 17h1v1h-1z"/>
<path fill="#8fa0ef" d="M25 17h1v1h-1zM26 21h1v1h-1z"/>
<path fill="#66a0e9" d="M26 17h1v1h-1z"/>
<path fill="#3d8bc2" d="M27 17h1v1h-1zM25 24h1v1h-1zM23 27h1v1h-1z"/>
<path fill="#256e8b" d="M28 17h1v1h-1z"/>
<path fill="#19585f" d="M29 17h1v1h-1z"/>
<path fill="#0f3337" d="M30 17h1v1h-1z"/>
<path fill="#0d1a1c" d="M31 17h1v1h-1z"/>
<path fill="#0b0d10" d="M32 17h1v1h-1z"/>
<path fill="#070b0b" d="M33 17h1v1h-1z"/>
<path fill="#07050e" d="M35 17h1v1h-1z"/>
<path fill="#08080b" d="M36 17h1v1h-1z"/>
<path fill="#0b060e" d="M37 17h1v1h-1z"/>
<path fill="#0b080d" d="M38 17h1v1h-1zM11 18h1v1h-1zM34 21h1v1h-1z"/>
<path fill="#070609" d="M39 17h1v1h-1z"/>
<path fill="#211014" d="M41 17h1v1h-1z"/>
<path fill="#0a0f0b" d="M42 17h1v1h-1z"/>
<path fill="#090c0c" d="M43 17h1v1h-1z"/>
<path fill="#1e1419" d="M44 17h1v1h-1z"/>
<path fill="#040c24" d="M2 18h1v1h-1z"/>
<path fill="#2e0c0e" d="M3 18h1v1h-1z"/>
<path fill="#040b12" d="M5 18h1v1h-1z"/>
<path fill="#0d1113" d="M6 18h1v1h-1z"/>
<path fill="#06020c" d="M8 18h1v1h-1z"/>
<path fill="#0b030c" d="M9 18h1v1h-1zM27 44h1v1h-1z"/>
<path fill="#0b040a" d="M12 18h1v1h-1zM1 39h1v1h-1z"/>
<path fill="#24090f" d="M14 18h1v1h-1z"/>
<path fill="#090f10" d="M15 18h1v1h-1z"/>
<path fill="#0a1c1d" d="M16 18h1v1h-1z"/>
<path fill="#11383c" d="M17 18h1v1h-1z"/>
<path fill="#1a5a64" d="M18 18h1v1h-1zM25 28h1v1h-1z"/>
<path fill="#246d89" d="M19 18h1v1h-1zM26 25h1v1h-1zM21 29h1v1h-1z"/>
<path fill="#3685b7" d="M20 18h1v1h-1zM18 25h1v1h-1z"/>
<path fill="#5ca0e7" d="M21 18h1v1h-1z"/>
<path fill="#ad99e9" d="M22 18h1v1h-1z"/>
<path fill="#e592d6" d="M23 18h1v1h-1z"/>
<path fill="#ec94d4" d="M24 18h1v1h-1z"/>
<path fill="#e290d8" d="M25 18h1v1h-1z"/>
<path fill="#9e9eee" d="M26 18h1v1h-1z"/>
<path fill="#4e9adb" d="M27 18h1v1h-1z"/>
<path fill="#29769b" d="M28 18h1v1h-1z"/>
<path fill="#1a5b64" d="M29 18h1v1h-1z"/>
<path fill="#0f353a" d="M30 18h1v1h-1z"/>
<path fill="#081c26" d="M31 18h1v1h-1z"/>
<path fill="#080e12" d="M32 18h1v1h-1z"/>
<path fill="#1a0f0d" d="M33 18h1v1h-1z"/>
<path fill="#0c0c1b" d="M34 18h1v1h-1z"/>
<path fill="#03040e" d="M35 18h1v1h-1z"/>
<path fill="#080409" d="M36 18h1v1h-1zM10 23h1v1h-1zM12 33h1v1h-1zM24 42h1v1h-1z"/>
<path fill="#07090b" d="M37 18h1v1h-1z"/>
<path fill="#0b0a08" d="M39 18h1v1h-1z"/>
<path fill="#040a0e" d="M40 18h1v1h-1z"/>
<path fill="#060b0e" d="M41 18h1v1h-1z"/>
<path fill="#2d0e18" d="M42 18h1v1h-1z"/>
<path fill="#0b1112" d="M43 18h1v1h-1zM16 33h1v1h-1z"/>
<path fill="#0e1515" d="M44 18h1v1h-1z"/>
<path fill="#1f080b" d="M0 19h1v1h-1z"/>
<path fill="#080204" d="M3 19h1v1h-1z"/>
<path fill="#05041d" d="M4 19h1v1h-1zM1 33h1v1h-1z"/>
<path fill="#1b0612" d="M5 19h1v1h-1z"/>
<path fill="#0a1d0b" d="M6 19h1v1h-1z"/>
<path fill="#050b23" d="M8 19h1v1h-1z"/>
<path fill="#32040e" d="M9 19h1v1h-1z"/>
<path fill="#111112" d="M10 19h1v1h-1z"/>
<path fill="#060608" d="M12 19h1v1h-1zM12 38h1v1h-1z"/>
<path fill="#0c170c" d="M13 19h1v1h-1z"/>
<path fill="#090b10" d="M14 19h1v1h-1z"/>
<path fill="#091518" d="M15 19h1v1h-1z"/>
<path fill="#0c2727" d="M16 19h1v1h-1z"/>
<path fill="#164f55" d="M17 19h1v1h-1zM20 31h1v1h-1z"/>
<path fill="#2b79a1" d="M19 19h1v1h-1z"/>
<path fill="#428fc9" d="M20 19h1v1h-1z"/>
<path fill="#75a0eb" d="M21 19h1v1h-1z"/>
<path fill="#d88cdc" d="M22 19h1v1h-1z"/>
<path fill="#f096d2" d="M23 19h1v1h-1zM24 19h1v1h-1zM25 19h1v1h-1zM23 20h1v1h-1zM24 20h1v1h-1zM25 20h1v1h-1z"/>
<path fill="#bc94e4" d="M26 19h1v1h-1z"/>
<path fill="#55a0e5" d="M27 19h1v1h-1z"/>
<path fill="#2b78a1" d="M28 19h1v1h-1z"/>
<path fill="#1b5b65" d="M29 19h1v1h-1zM27 25h1v1h-1z"/>
<path fill="#11343c" d="M30 19h1v1h-1z"/>
<path fill="#0b171a" d="M31 19h1v1h-1z"/>
<path fill="#070f18" d="M32 19h1v1h-1z"/>
<path fill="#0c070e" d="M33 19h1v1h-1zM37 22h1v1h-1z"/>
<path fill="#090727" d="M34 19h1v1h-1z"/>
<path fill="#06051b" d="M35 19h1v1h-1z"/>
<path fill="#03050b" d="M37 19h1v1h-1z"/>
<path fill="#0a070c" d="M38 19h1v1h-1zM6 27h1v1h-1zM14 34h1v1h-1zM20 42h1v1h-1z"/>
<path fill="#131c18" d="M40 19h1v1h-1z"/>
<path fill="#102716" d="M41 19h1v1h-1z"/>
<path fill="#07151e" d="M42 19h1v1h-1z"/>
<path fill="#0c1813" d="M43 19h1v1h-1z"/>
<path fill="#2f1a18" d="M44 19h1v1h-1z"/>
<path fill="#19060b" d="M0 20h1v1h-1z"/>
<path fill="#040722" d="M2 20h1v1h-1z"/>
<path fill="#190508" d="M3 20h1v1h-1z"/>
<path fill="#090925" d="M5 20h1v1h-1z"/>
<path fill="#0c1909" d="M6 20h1v1h-1z"/>
<path fill="#06030c" d="M7 20h1v1h-1z"/>
<path fill="#0c030b" d="M8 20h1v1h-1zM1 41h1v1h-1z"/>
<path fill="#0c0b1e" d="M9 20h1v1h-1z"/>
<path fill="#050609" d="M10 20h1v1h-1z"/>
<path fill="#0d1514" d="M11 20h1v1h-1zM38 31h1v1h-1z"/>
<path fill="#07030e" d="M12 20h1v1h-1z"/>
<path fill="#0c0b13" d="M14 20h1v1h-1z"/>
<path fill="#0a181d" d="M15 20h1v1h-1z"/>
<path fill="#0f3538" d="M16 20h1v1h-1z"/>
<path fill="#1a5a63" d="M17 20h1v1h-1z"/>
<path fill="#246c89" d="M18 20h1v1h-1z"/>
<path fill="#3282b2" d="M19 20h1v1h-1z"/>
<path fill="#4c98d8" d="M20 20h1v1h-1z"/>
<path fill="#84a0ed" d="M21 20h1v1h-1z"/>
<path fill="#de8fd9" d="M22 20h1v1h-1z"/>
<path fill="#ba95e5" d="M26 20h1v1h-1z"/>
<path fill="#539fe3" d="M27 20h1v1h-1z"/>
<path fill="#1a5962" d="M29 20h1v1h-1zM16 23h1v1h-1z"/>
<path fill="#0d2f31" d="M30 20h1v1h-1z"/>
<path fill="#1a191e" d="M31 20h1v1h-1z"/>
<path fill="#060c0b" d="M32 20h1v1h-1z"/>
<path fill="#04050e" d="M33 20h1v1h-1z"/>
<path fill="#050a27" d="M34 20h1v1h-1z"/>
<path fill="#0c080e" d="M35 20h1v1h-1z"/>
<path fill="#0b0406" d="M37 20h1v1h-1zM10 42h1v1h-1z"/>
<path fill="#0b050c" d="M38 20h1v1h-1z"/>
<path fill="#07070f" d="M39 20h1v1h-1z"/>
<path fill="#10250f" d="M40 20h1v1h-1z"/>
<path fill="#090f15" d="M41 20h1v1h-1z"/>
<path fill="#0b151a" d="M42 20h1v1h-1z"/>
<path fill="#0e271f" d="M43 20h1v1h-1z"/>
<path fill="#361f1a" d="M44 20h1v1h-1zM39 28h1v1h-1z"/>
<path fill="#36050d" d="M1 21h1v1h-1z"/>
<path fill="#090707" d="M2 21h1v1h-1z"/>
<path fill="#101f0c" d="M3 21h1v1h-1z"/>
<path fill="#300a0c" d="M5 21h1v1h-1z"/>
<path fill="#1a0911" d="M6 21h1v1h-1z"/>
<path fill="#071f0f" d="M7 21h1v1h-1z"/>
<path fill="#240706" d="M8 21h1v1h-1z"/>
<path fill="#030309" d="M10 21h1v1h-1zM28 37h1v1h-1z"/>
<path fill="#290c0e" d="M12 21h1v1h-1z"/>
<path fill="#0a0c0f" d="M13 21h1v1h-1z"/>
<path fill="#0a1110" d="M14 21h1v1h-1z"/>
<path fill="#202323" d="M15 21h1v1h-1z"/>
<path fill="#15484e" d="M16 21h1v1h-1z"/>
<path fill="#29759a" d="M18 21h1v1h-1z"/>
<path fill="#3a89be" d="M19 21h1v1h-1z"/>
<path fill="#529de2" d="M20 21h1v1h-1z"/>
<path fill="#85a0ed" d="M21 21h1v1h-1z"/>
<path fill="#d28ede" d="M22 21h1v1h-1z"/>
<path fill="#ea94d4" d="M23 21h1v1h-1z"/>
<path fill="#eb94d4" d="M24 21h1v1h-1z"/>
<path fill="#db8eda" d="M25 21h1v1h-1z"/>
<path fill="#4895d2" d="M27 21h1v1h-1z"/>
<path fill="#071415" d="M31 21h1v1h-1z"/>
<path fill="#2b0d13" d="M32 21h1v1h-1z"/>
<path fill="#0c0a19" d="M33 21h1v1h-1z"/>
<path fill="#060306" d="M35 21h1v1h-1z"/>
<path fill="#0a0608" d="M36 21h1v1h-1z"/>
<path fill="#06080d" d="M37 21h1v1h-1zM36 31h1v1h-1z"/>
<path fill="#0d0608" d="M38 21h1v1h-1z"/>
<path fill="#0a0a09" d="M39 21h1v1h-1zM12 24h1v1h-1z"/>
<path fill="#071015" d="M40 21h1v1h-1z"/>
<path fill="#0d1318" d="M41 21h1v1h-1z"/>
<path fill="#0d1d1d" d="M42 21h1v1h-1z"/>
<path fill="#0b211b" d="M43 21h1v1h-1z"/>
<path fill="#122624" d="M44 21h1v1h-1z"/>
<path fill="#0c020d" d="M0 22h1v1h-1z"/>
<path fill="#090304" d="M1 22h1v1h-1zM29 33h1v1h-1z"/>
<path fill="#0c0607" d="M4 22h1v1h-1z"/>
<path fill="#121711" d="M5 22h1v1h-1z"/>
<path fill="#320807" d="M7 22h1v1h-1z"/>
<path fill="#0c041f" d="M10 22h1v1h-1z"/>
<path fill="#0f160d" d="M11 22h1v1h-1z"/>
<path fill="#070608" d="M12 22h1v1h-1z"/>
<path fill="#210a14" d="M13 22h1v1h-1z"/>
<path fill="#0a1619" d="M14 22h1v1h-1z"/>
<path fill="#0f2a2e" d="M15 22h1v1h-1z"/>
<path fill="#21677e" d="M17 22h1v1h-1z"/>
<path fill="#2d7daa" d="M18 22h1v1h-1z"/>
<path fill="#418ec8" d="M19 22h1v1h-1z"/>
<path fill="#58a0e6" d="M20 22h1v1h-1zM26 22h1v1h-1z"/>
<path fill="#7da0ec" d="M21 22h1v1h-1z"/>
<path fill="#a29cec" d="M22 22h1v1h-1z"/>
<path fill="#b696e6" d="M23 22h1v1h-1z"/>
<path fill="#a89aea" d="M24 22h1v1h-1z"/>
<path fill="#87a0ee" d="M25 22h1v1h-1z"/>
<path fill="#3584b6" d="M27 22h1v1h-1z"/>
<path fill="#15494e" d="M29 22h1v1h-1zM17 30h1v1h-1z"/>
<path fill="#0c1f24" d="M30 22h1v1h-1z"/>
<path fill="#0a1112" d="M31 22h1v1h-1z"/>
<path fill="#050710" d="M32 22h1v1h-1z"/>
<path fill="#070917" d="M33 22h1v1h-1z"/>
<path fill="#070b22" d="M34 22h1v1h-1z"/>
<path fill="#0c2417" d="M38 22h1v1h-1z"/>
<path fill="#102617" d="M39 22h1v1h-1z"/>
<path fill="#081414" d="M40 22h1v1h-1z"/>
<path fill="#0b171c" d="M41 22h1v1h-1z"/>
<path fill="#352220" d="M42 22h1v1h-1z"/>
<path fill="#1d2f26" d="M43 22h1v1h-1z"/>
<path fill="#142f2c" d="M44 22h1v1h-1z"/>
<path fill="#080605" d="M0 23h1v1h-1zM5 35h1v1h-1z"/>
<path fill="#12140c" d="M1 23h1v1h-1z"/>
<path fill="#0b0206" d="M2 23h1v1h-1zM4 44h1v1h-1z"/>
<path fill="#080304" d="M3 23h1v1h-1z"/>
<path fill="#060518" d="M4 23h1v1h-1z"/>
<path fill="#040705" d="M5 23h1v1h-1zM33 25h1v1h-1z"/>
<path fill="#040922" d="M7 23h1v1h-1z"/>
<path fill="#36050b" d="M9 23h1v1h-1z"/>
<path fill="#090e12" d="M13 23h1v1h-1z"/>
<path fill="#09181a" d="M14 23h1v1h-1z"/>
<path fill="#103838" d="M15 23h1v1h-1z"/>
<path fill="#246c88" d="M17 23h1v1h-1z"/>
<path fill="#3281b2" d="M18 23h1v1h-1z"/>
<path fill="#4b97d7" d="M19 23h1v1h-1z"/>
<path fill="#6ea0ea" d="M20 23h1v1h-1zM23 25h1v1h-1z"/>
<path fill="#89a0ee" d="M21 23h1v1h-1z"/>
<path fill="#91a0ef" d="M22 23h1v1h-1z"/>
<path fill="#83a0ed" d="M23 23h1v1h-1z"/>
<path fill="#6ba0e9" d="M24 23h1v1h-1z"/>
<path fill="#519cdf" d="M25 23h1v1h-1z"/>
<path fill="#277395" d="M27 23h1v1h-1z"/>
<path fill="#1b5c66" d="M28 23h1v1h-1zM22 30h1v1h-1z"/>
<path fill="#113538" d="M29 23h1v1h-1z"/>
<path fill="#0a1a1b" d="M30 23h1v1h-1zM21 33h1v1h-1z"/>
<path fill="#101a11" d="M31 23h1v1h-1z"/>
<path fill="#061d13" d="M32 23h1v1h-1z"/>
<path fill="#07030d" d="M33 23h1v1h-1z"/>
<path fill="#07040e" d="M34 23h1v1h-1z"/>
<path fill="#030807" d="M35 23h1v1h-1z"/>
<path fill="#0d060e" d="M37 23h1v1h-1z"/>
<path fill="#0c090a" d="M38 23h1v1h-1z"/>
<path fill="#0a100e" d="M39 23h1v1h-1z"/>
<path fill="#0f1419" d="M40 23h1v1h-1z"/>
<path fill="#0b1e1f" d="M41 23h1v1h-1z"/>
<path fill="#21282a" d="M42 23h1v1h-1z"/>
<path fill="#142f29" d="M43 23h1v1h-1z"/>
<path fill="#243b33" d="M44 23h1v1h-1z"/>
<path fill="#2a0a09" d="M1 24h1v1h-1z"/>
<path fill="#07120c" d="M2 24h1v1h-1z"/>
<path fill="#2e0609" d="M5 24h1v1h-1z"/>
<path fill="#230a0b" d="M6 24h1v1h-1z"/>
<path fill="#07030b" d="M8 24h1v1h-1zM33 30h1v1h-1zM6 35h1v1h-1z"/>
<path fill="#030606" d="M10 24h1v1h-1z"/>
<path fill="#0c0608" d="M11 24h1v1h-1z"/>
<path fill="#2a0f0f" d="M13 24h1v1h-1z"/>
<path fill="#0b1e1d" d="M14 24h1v1h-1z"/>
<path fill="#123c44" d="M15 24h1v1h-1z"/>
<path fill="#1b5c67" d="M16 24h1v1h-1zM16 26h1v1h-1z"/>
<path fill="#256f8d" d="M17 24h1v1h-1zM17 25h1v1h-1z"/>
<path fill="#3685b8" d="M18 24h1v1h-1zM24 26h1v1h-1z"/>
<path fill="#5da0e7" d="M19 24h1v1h-1z"/>
<path fill="#a89beb" d="M20 24h1v1h-1z"/>
<path fill="#cd8fdf" d="M21 24h1v1h-1z"/>
<path fill="#b995e5" d="M22 24h1v1h-1z"/>
<path fill="#79a0eb" d="M23 24h1v1h-1z"/>
<path fill="#509bde" d="M24 24h1v1h-1z"/>
<path fill="#2b7aa4" d="M26 24h1v1h-1z"/>
<path fill="#175055" d="M28 24h1v1h-1z"/>
<path fill="#0c2728" d="M29 24h1v1h-1z"/>
<path fill="#15121a" d="M30 24h1v1h-1z"/>
<path fill="#0c0c0f" d="M31 24h1v1h-1z"/>
<path fill="#071b0f" d="M33 24h1v1h-1z"/>
<path fill="#2a0d0b" d="M34 24h1v1h-1z"/>
<path fill="#0f1f0a" d="M35 24h1v1h-1z"/>
<path fill="#090a0d" d="M36 24h1v1h-1z"/>
<path fill="#050c10" d="M37 24h1v1h-1z"/>
<path fill="#0b0e1a" d="M38 24h1v1h-1z"/>
<path fill="#0e142d" d="M39 24h1v1h-1z"/>
<path fill="#231c1b" d="M40 24h1v1h-1z"/>
<path fill="#0c2221" d="M41 24h1v1h-1z"/>
<path fill="#132f2c" d="M42 24h1v1h-1z"/>
<path fill="#113c30" d="M43 24h1v1h-1z"/>
<path fill="#15453b" d="M44 24h1v1h-1z"/>
<path fill="#08050c" d="M1 25h1v1h-1z"/>
<path fill="#350b0f" d="M2 25h1v1h-1z"/>
<path fill="#08020b" d="M3 25h1v1h-1z"/>
<path fill="#090805" d="M5 25h1v1h-1zM4 34h1v1h-1z"/>
<path fill="#111509" d="M6 25h1v1h-1z"/>
<path fill="#220b06" d="M8 25h1v1h-1z"/>
<path fill="#06080c" d="M9 25h1v1h-1z"/>
<path fill="#0c090f" d="M12 25h1v1h-1z"/>
<path fill="#0a0e11" d="M13 25h1v1h-1z"/>
<path fill="#0a2020" d="M14 25h1v1h-1z"/>
<path fill="#134344" d="M15 25h1v1h-1z"/>
<path fill="#1c5d69" d="M16 25h1v1h-1z"/>
<path fill="#65a0e9" d="M19 25h1v1h-1z"/>
<path fill="#cb90e0" d="M20 25h1v1h-1z"/>
<path fill="#e391d7" d="M21 25h1v1h-1z"/>
<path fill="#cc8fdf" d="M22 25h1v1h-1z"/>
<path fill="#4390cb" d="M24 25h1v1h-1z"/>
<path fill="#3080af" d="M25 25h1v1h-1zM22 28h1v1h-1z"/>
<path fill="#091d1f" d="M29 25h1v1h-1z"/>
<path fill="#090e13" d="M30 25h1v1h-1z"/>
<path fill="#27090b" d="M31 25h1v1h-1z"/>
<path fill="#04071c" d="M34 25h1v1h-1z"/>
<path fill="#0c0d24" d="M36 25h1v1h-1z"/>
<path fill="#0c0a07" d="M37 25h1v1h-1z"/>
<path fill="#0e2414" d="M38 25h1v1h-1z"/>
<path fill="#0b1514" d="M39 25h1v1h-1z"/>
<path fill="#0b1c1d" d="M40 25h1v1h-1z"/>
<path fill="#0c2822" d="M41 25h1v1h-1z"/>
<path fill="#153936" d="M42 25h1v1h-1z"/>
<path fill="#14453b" d="M43 25h1v1h-1z"/>
<path fill="#194f42" d="M44 25h1v1h-1z"/>
<path fill="#060704" d="M0 26h1v1h-1zM19 41h1v1h-1z"/>
<path fill="#040c1b" d="M1 26h1v1h-1z"/>
<path fill="#080307" d="M2 26h1v1h-1z"/>
<path fill="#07091e" d="M3 26h1v1h-1z"/>
<path fill="#0a0205" d="M4 26h1v1h-1z"/>
<path fill="#05020b" d="M5 26h1v1h-1z"/>
<path fill="#04020c" d="M6 26h1v1h-1zM3 38h1v1h-1z"/>
<path fill="#1e090e" d="M8 26h1v1h-1z"/>
<path fill="#12190e" d="M9 26h1v1h-1z"/>
<path fill="#06050d" d="M10 26h1v1h-1zM22 44h1v1h-1z"/>
<path fill="#200c0b" d="M11 26h1v1h-1z"/>
<path fill="#2b0f11" d="M12 26h1v1h-1z"/>
<path fill="#0b1211" d="M13 26h1v1h-1z"/>
<path fill="#202223" d="M14 26h1v1h-1z"/>
<path fill="#124044" d="M15 26h1v1h-1z"/>
<path fill="#246c87" d="M17 26h1v1h-1zM20 29h1v1h-1z"/>
<path fill="#3181b0" d="M18 26h1v1h-1z"/>
<path fill="#57a0e6" d="M19 26h1v1h-1z"/>
<path fill="#aa9aea" d="M20 26h1v1h-1z"/>
<path fill="#ce8fdf" d="M21 26h1v1h-1z"/>
<path fill="#a59beb" d="M22 26h1v1h-1z"/>
<path fill="#56a0e6" d="M23 26h1v1h-1z"/>
<path fill="#287397" d="M25 26h1v1h-1z"/>
<path fill="#1e6273" d="M26 26h1v1h-1z"/>
<path fill="#164f54" d="M27 26h1v1h-1zM21 31h1v1h-1z"/>
<path fill="#0e272b" d="M28 26h1v1h-1z"/>
<path fill="#061518" d="M29 26h1v1h-1z"/>
<path fill="#0a0a11" d="M30 26h1v1h-1z"/>
<path fill="#06070e" d="M31 26h1v1h-1z"/>
<path fill="#0c0307" d="M34 26h1v1h-1z"/>
<path fill="#0a050f" d="M36 26h1v1h-1z"/>
<path fill="#09080e" d="M37 26h1v1h-1z"/>
<path fill="#08152a" d="M38 26h1v1h-1z"/>
<path fill="#321a16" d="M39 26h1v1h-1z"/>
<path fill="#10241f" d="M40 26h1v1h-1z"/>
<path fill="#143029" d="M41 26h1v1h-1z"/>
<path fill="#124034" d="M42 26h1v1h-1z"/>
<path fill="#154d41" d="M43 26h1v1h-1z"/>
<path fill="#1c5f58" d="M44 26h1v1h-1z"/>
<path fill="#0b071c" d="M0 27h1v1h-1z"/>
<path fill="#040628" d="M1 27h1v1h-1z"/>
<path fill="#07150e" d="M3 27h1v1h-1z"/>
<path fill="#040407" d="M4 27h1v1h-1z"/>
<path fill="#04080a" d="M5 27h1v1h-1zM21 38h1v1h-1z"/>
<path fill="#090507" d="M7 27h1v1h-1z"/>
<path fill="#2d0709" d="M8 27h1v1h-1z"/>
<path fill="#26090a" d="M10 27h1v1h-1z"/>
<path fill="#04090b" d="M12 27h1v1h-1z"/>
<path fill="#061014" d="M13 27h1v1h-1z"/>
<path fill="#091f23" d="M14 27h1v1h-1z"/>
<path fill="#113b3f" d="M15 27h1v1h-1z"/>
<path fill="#1a5961" d="M16 27h1v1h-1z"/>
<path fill="#21677d" d="M17 27h1v1h-1zM24 28h1v1h-1zM19 29h1v1h-1z"/>
<path fill="#2a779f" d="M18 27h1v1h-1z"/>
<path fill="#3f8dc5" d="M19 27h1v1h-1z"/>
<path fill="#5aa0e7" d="M20 27h1v1h-1z"/>
<path fill="#68a0e9" d="M21 27h1v1h-1z"/>
<path fill="#59a0e7" d="M22 27h1v1h-1z"/>
<path fill="#2a779e" d="M24 27h1v1h-1zM19 28h1v1h-1z"/>
<path fill="#21667c" d="M25 27h1v1h-1z"/>
<path fill="#103538" d="M27 27h1v1h-1z"/>
<path fill="#0d191d" d="M28 27h1v1h-1z"/>
<path fill="#071023" d="M29 27h1v1h-1z"/>
<path fill="#2c0a11" d="M30 27h1v1h-1z"/>
<path fill="#030609" d="M31 27h1v1h-1z"/>
<path fill="#0c090d" d="M32 27h1v1h-1z"/>
<path fill="#111213" d="M33 27h1v1h-1z"/>
<path fill="#0a0607" d="M34 27h1v1h-1zM29 35h1v1h-1z"/>
<path fill="#05070e" d="M35 27h1v1h-1z"/>
<path fill="#0d0b0a" d="M36 27h1v1h-1z"/>
<path fill="#0a1427" d="M38 27h1v1h-1z"/>
<path fill="#0d1a16" d="M39 27h1v1h-1z"/>
<path fill="#0e2623" d="M40 27h1v1h-1z"/>
<path fill="#133330" d="M41 27h1v1h-1z"/>
<path fill="#334639" d="M42 27h1v1h-1z"/>
<path fill="#325c4c" d="M43 27h1v1h-1z"/>
<path fill="#296955" d="M44 27h1v1h-1z"/>
<path fill="#0e1c09" d="M1 28h1v1h-1z"/>
<path fill="#030305" d="M2 28h1v1h-1z"/>
<path fill="#090208" d="M5 28h1v1h-1zM14 43h1v1h-1z"/>
<path fill="#070604" d="M6 28h1v1h-1z"/>
<path fill="#0b0308" d="M7 28h1v1h-1zM4 41h1v1h-1z"/>
<path fill="#070a12" d="M8 28h1v1h-1zM29 39h1v1h-1z"/>
<path fill="#2d0c12" d="M9 28h1v1h-1z"/>
<path fill="#090b12" d="M10 28h1v1h-1z"/>
<path fill="#0b090a" d="M11 28h1v1h-1zM22 37h1v1h-1z"/>
<path fill="#050b18" d="M12 28h1v1h-1z"/>
<path fill="#050d12" d="M13 28h1v1h-1zM39 43h1v1h-1z"/>
<path fill="#0c1b1d" d="M14 28h1v1h-1z"/>
<path fill="#113339" d="M15 28h1v1h-1z"/>
<path fill="#175258" d="M16 28h1v1h-1z"/>
<path fill="#1d606f" d="M17 28h1v1h-1z"/>
<path fill="#236b86" d="M18 28h1v1h-1z"/>
<path fill="#3180b0" d="M20 28h1v1h-1z"/>
<path fill="#3483b4" d="M21 28h1v1h-1z"/>
<path fill="#297599" d="M23 28h1v1h-1z"/>
<path fill="#124045" d="M26 28h1v1h-1z"/>
<path fill="#0d2224" d="M27 28h1v1h-1z"/>
<path fill="#071226" d="M28 28h1v1h-1z"/>
<path fill="#0b1027" d="M29 28h1v1h-1z"/>
<path fill="#06071c" d="M30 28h1v1h-1z"/>
<path fill="#030706" d="M32 28h1v1h-1z"/>
<path fill="#190507" d="M34 28h1v1h-1z"/>
<path fill="#090a20" d="M36 28h1v1h-1z"/>
<path fill="#220a0d" d="M37 28h1v1h-1z"/>
<path fill="#26181a" d="M38 28h1v1h-1z"/>
<path fill="#122b20" d="M40 28h1v1h-1z"/>
<path fill="#174b30" d="M41 28h1v1h-1z"/>
<path fill="#194e42" d="M42 28h1v1h-1z"/>
<path fill="#1c624f" d="M43 28h1v1h-1z"/>
<path fill="#30755b" d="M44 28h1v1h-1z"/>
<path fill="#080408" d="M0 29h1v1h-1z"/>
<path fill="#2a0510" d="M2 29h1v1h-1z"/>
<path fill="#250406" d="M3 29h1v1h-1z"/>
<path fill="#060606" d="M5 29h1v1h-1zM6 43h1v1h-1z"/>
<path fill="#330c08" d="M6 29h1v1h-1z"/>
<path fill="#040426" d="M7 29h1v1h-1z"/>
<path fill="#2f060c" d="M8 29h1v1h-1z"/>
<path fill="#1b0807" d="M9 29h1v1h-1z"/>
<path fill="#050908" d="M10 29h1v1h-1z"/>
<path fill="#080816" d="M11 29h1v1h-1z"/>
<path fill="#091613" d="M13 29h1v1h-1zM6 36h1v1h-1z"/>
<path fill="#08181c" d="M14 29h1v1h-1zM18 33h1v1h-1z"/>
<path fill="#142b2c" d="M15 29h1v1h-1z"/>
<path fill="#195860" d="M17 29h1v1h-1z"/>
<path fill="#1d6070" d="M18 29h1v1h-1z"/>
<path fill="#236a83" d="M22 29h1v1h-1z"/>
<path fill="#15464b" d="M25 29h1v1h-1z"/>
<path fill="#0d2829" d="M26 29h1v1h-1z"/>
<path fill="#21191c" d="M27 29h1v1h-1z"/>
<path fill="#0a0e0e" d="M28 29h1v1h-1z"/>
<path fill="#0d1b0f" d="M30 29h1v1h-1z"/>
<path fill="#2a0b0a" d="M31 29h1v1h-1z"/>
<path fill="#08030c" d="M33 29h1v1h-1z"/>
<path fill="#081c0c" d="M34 29h1v1h-1z"/>
<path fill="#0b0c15" d="M35 29h1v1h-1z"/>
<path fill="#04070e" d="M36 29h1v1h-1z"/>
<path fill="#2a141a" d="M38 29h1v1h-1z"/>
<path fill="#101e1c" d="M39 29h1v1h-1z"/>
<path fill="#14352f" d="M40 29h1v1h-1z"/>
<path fill="#154a3c" d="M41 29h1v1h-1z"/>
<path fill="#175544" d="M42 29h1v1h-1z"/>
<path fill="#1f6d5b" d="M43 29h1v1h-1z"/>
<path fill="#207d61" d="M44 29h1v1h-1z"/>
<path fill="#23070f" d="M0 30h1v1h-1z"/>
<path fill="#090524" d="M1 30h1v1h-1z"/>
<path fill="#0f150e" d="M2 30h1v1h-1z"/>
<path fill="#0a071f" d="M3 30h1v1h-1z"/>
<path fill="#2f050c" d="M4 30h1v1h-1z"/>
<path fill="#0b050b" d="M6 30h1v1h-1zM31 38h1v1h-1z"/>
<path fill="#0b1e0a" d="M7 30h1v1h-1z"/>
<path fill="#060604" d="M8 30h1v1h-1zM13 40h1v1h-1z"/>
<path fill="#1c090e" d="M10 30h1v1h-1z"/>
<path fill="#09091f" d="M11 30h1v1h-1z"/>
<path fill="#050f1d" d="M12 30h1v1h-1z"/>
<path fill="#150e10" d="M13 30h1v1h-1z"/>
<path fill="#221817" d="M14 30h1v1h-1z"/>
<path fill="#0c2122" d="M15 30h1v1h-1z"/>
<path fill="#0e3236" d="M16 30h1v1h-1z"/>
<path fill="#18555c" d="M18 30h1v1h-1z"/>
<path fill="#1b5b66" d="M19 30h1v1h-1z"/>
<path fill="#1c5e6c" d="M20 30h1v1h-1zM21 30h1v1h-1z"/>
<path fill="#134249" d="M24 30h1v1h-1z"/>
<path fill="#1d2a2d" d="M25 30h1v1h-1z"/>
<path fill="#0c1918" d="M26 30h1v1h-1zM40 42h1v1h-1z"/>
<path fill="#050c0e" d="M27 30h1v1h-1zM25 33h1v1h-1z"/>
<path fill="#2f0e0f" d="M28 30h1v1h-1z"/>
<path fill="#2d0b08" d="M29 30h1v1h-1z"/>
<path fill="#050808" d="M30 30h1v1h-1zM7 41h1v1h-1z"/>
<path fill="#0a130d" d="M32 30h1v1h-1z"/>
<path fill="#05050d" d="M34 30h1v1h-1z"/>
<path fill="#250d0e" d="M36 30h1v1h-1z"/>
<path fill="#0c0b0f" d="M37 30h1v1h-1z"/>
<path fill="#091417" d="M38 30h1v1h-1z"/>
<path fill="#2b2420" d="M39 30h1v1h-1z"/>
<path fill="#112e36" d="M40 30h1v1h-1z"/>
<path fill="#1a5239" d="M41 30h1v1h-1z"/>
<path fill="#19664b" d="M42 30h1v1h-1z"/>
<path fill="#1e7159" d="M43 30h1v1h-1z"/>
<path fill="#228468" d="M44 30h1v1h-1z"/>
<path fill="#050704" d="M1 31h1v1h-1z"/>
<path fill="#070828" d="M7 31h1v1h-1z"/>
<path fill="#2d040d" d="M8 31h1v1h-1z"/>
<path fill="#0b1a11" d="M9 31h1v1h-1z"/>
<path fill="#0a0719" d="M10 31h1v1h-1z"/>
<path fill="#0a0b1b" d="M12 31h1v1h-1z"/>
<path fill="#070b0e" d="M13 31h1v1h-1z"/>
<path fill="#091015" d="M14 31h1v1h-1z"/>
<path fill="#071619" d="M15 31h1v1h-1z"/>
<path fill="#0d2226" d="M16 31h1v1h-1z"/>
<path fill="#102f32" d="M17 31h1v1h-1z"/>
<path fill="#123f45" d="M18 31h1v1h-1z"/>
<path fill="#154b50" d="M19 31h1v1h-1z"/>
<path fill="#14464b" d="M22 31h1v1h-1z"/>
<path fill="#14373b" d="M23 31h1v1h-1z"/>
<path fill="#0c2628" d="M24 31h1v1h-1z"/>
<path fill="#0c1c29" d="M25 31h1v1h-1z"/>
<path fill="#0a0d15" d="M26 31h1v1h-1z"/>
<path fill="#040d11" d="M27 31h1v1h-1z"/>
<path fill="#320909" d="M28 31h1v1h-1z"/>
<path fill="#0c1414" d="M30 31h1v1h-1z"/>
<path fill="#230509" d="M31 31h1v1h-1z"/>
<path fill="#040c21" d="M32 31h1v1h-1z"/>
<path fill="#080707" d="M35 31h1v1h-1zM16 41h1v1h-1z"/>
<path fill="#311116" d="M37 31h1v1h-1z"/>
<path fill="#101f1b" d="M39 31h1v1h-1z"/>
<path fill="#142f34" d="M40 31h1v1h-1z"/>
<path fill="#134739" d="M41 31h1v1h-1z"/>
<path fill="#185e4d" d="M42 31h1v1h-1z"/>
<path fill="#20765d" d="M43 31h1v1h-1z"/>
<path fill="#258d6d" d="M44 31h1v1h-1z"/>
<path fill="#29040f" d="M1 32h1v1h-1z"/>
<path fill="#0c0406" d="M2 32h1v1h-1zM34 42h1v1h-1z"/>
<path fill="#090407" d="M3 32h1v1h-1zM18 40h1v1h-1z"/>
<path fill="#06080a" d="M4 32h1v1h-1zM13 37h1v1h-1z"/>
<path fill="#050307" d="M5 32h1v1h-1z"/>
<path fill="#060309" d="M6 32h1v1h-1z"/>
<path fill="#07200f" d="M7 32h1v1h-1z"/>
<path fill="#050409" d="M8 32h1v1h-1z"/>
<path fill="#070606" d="M10 32h1v1h-1z"/>
<path fill="#0c0f18" d="M13 32h1v1h-1z"/>
<path fill="#070a10" d="M14 32h1v1h-1z"/>
<path fill="#061017" d="M15 32h1v1h-1z"/>
<path fill="#0a191b" d="M16 32h1v1h-1z"/>
<path fill="#0e2422" d="M17 32h1v1h-1z"/>
<path fill="#0e262a" d="M18 32h1v1h-1z"/>
<path fill="#0e2d2f" d="M19 32h1v1h-1z"/>
<path fill="#193134" d="M20 32h1v1h-1z"/>
<path fill="#103333" d="M21 32h1v1h-1z"/>
<path fill="#0e282b" d="M22 32h1v1h-1z"/>
<path fill="#1a2120" d="M23 32h1v1h-1z"/>
<path fill="#0f231e" d="M24 32h1v1h-1z"/>
<path fill="#0a1111" d="M25 32h1v1h-1z"/>
<path fill="#2b080b" d="M27 32h1v1h-1z"/>
<path fill="#070507" d="M28 32h1v1h-1z"/>
<path fill="#1e0811" d="M29 32h1v1h-1z"/>
<path fill="#10190d" d="M30 32h1v1h-1z"/>
<path fill="#040415" d="M33 32h1v1h-1z"/>
<path fill="#190912" d="M34 32h1v1h-1z"/>
<path fill="#08070e" d="M35 32h1v1h-1z"/>
<path fill="#330f0e" d="M36 32h1v1h-1z"/>
<path fill="#0c0c1e" d="M37 32h1v1h-1z"/>
<path fill="#0b1412" d="M38 32h1v1h-1z"/>
<path fill="#1d2620" d="M39 32h1v1h-1z"/>
<path fill="#14333b" d="M40 32h1v1h-1z"/>
<path fill="#33483e" d="M41 32h1v1h-1z"/>
<path fill="#1b625c" d="M42 32h1v1h-1z"/>
<path fill="#207964" d="M43 32h1v1h-1z"/>
<path fill="#2c8e71" d="M44 32h1v1h-1z"/>
<path fill="#0f1109" d="M0 33h1v1h-1z"/>
<path fill="#0e1909" d="M2 33h1v1h-1z"/>
<path fill="#280911" d="M4 33h1v1h-1z"/>
<path fill="#0b0205" d="M5 33h1v1h-1z"/>
<path fill="#22080c" d="M6 33h1v1h-1z"/>
<path fill="#06040c" d="M7 33h1v1h-1z"/>
<path fill="#350708" d="M9 33h1v1h-1z"/>
<path fill="#280a07" d="M11 33h1v1h-1z"/>
<path fill="#060816" d="M13 33h1v1h-1z"/>
<path fill="#1c0d14" d="M15 33h1v1h-1z"/>
<path fill="#061514" d="M17 33h1v1h-1z"/>
<path fill="#0a1c1f" d="M19 33h1v1h-1z"/>
<path fill="#131c20" d="M20 33h1v1h-1z"/>
<path fill="#1e191a" d="M22 33h1v1h-1z"/>
<path fill="#0b1214" d="M23 33h1v1h-1z"/>
<path fill="#060c14" d="M24 33h1v1h-1z"/>
<path fill="#06060c" d="M26 33h1v1h-1zM35 33h1v1h-1zM6 37h1v1h-1z"/>
<path fill="#1e0d0f" d="M27 33h1v1h-1z"/>
<path fill="#06080e" d="M28 33h1v1h-1z"/>
<path fill="#090604" d="M31 33h1v1h-1z"/>
<path fill="#0c0c19" d="M34 33h1v1h-1z"/>
<path fill="#341009" d="M36 33h1v1h-1z"/>
<path fill="#0d0c11" d="M37 33h1v1h-1z"/>
<path fill="#0f1415" d="M38 33h1v1h-1zM39 39h1v1h-1z"/>
<path fill="#0a1e1a" d="M39 33h1v1h-1z"/>
<path fill="#113134" d="M40 33h1v1h-1z"/>
<path fill="#2b483b" d="M41 33h1v1h-1z"/>
<path fill="#1e6b52" d="M42 33h1v1h-1z"/>
<path fill="#247e62" d="M43 33h1v1h-1z"/>
<path fill="#248e70" d="M44 33h1v1h-1z"/>
<path fill="#1d040e" d="M1 34h1v1h-1z"/>
<path fill="#06150b" d="M2 34h1v1h-1z"/>
<path fill="#0a0304" d="M3 34h1v1h-1z"/>
<path fill="#09020d" d="M5 34h1v1h-1z"/>
<path fill="#2e0a0a" d="M6 34h1v1h-1z"/>
<path fill="#030607" d="M7 34h1v1h-1z"/>
<path fill="#0c0804" d="M9 34h1v1h-1zM25 43h1v1h-1z"/>
<path fill="#060908" d="M11 34h1v1h-1z"/>
<path fill="#0b0d23" d="M12 34h1v1h-1z"/>
<path fill="#25070d" d="M13 34h1v1h-1z"/>
<path fill="#080e1e" d="M16 34h1v1h-1z"/>
<path fill="#261017" d="M17 34h1v1h-1z"/>
<path fill="#0f1f14" d="M18 34h1v1h-1z"/>
<path fill="#081215" d="M19 34h1v1h-1z"/>
<path fill="#0a1025" d="M20 34h1v1h-1z"/>
<path fill="#060f11" d="M21 34h1v1h-1z"/>
<path fill="#251118" d="M22 34h1v1h-1z"/>
<path fill="#280b15" d="M23 34h1v1h-1z"/>
<path fill="#060a09" d="M24 34h1v1h-1z"/>
<path fill="#300911" d="M25 34h1v1h-1z"/>
<path fill="#040714" d="M26 34h1v1h-1z"/>
<path fill="#04090c" d="M27 34h1v1h-1z"/>
<path fill="#09060b" d="M28 34h1v1h-1z"/>
<path fill="#190708" d="M30 34h1v1h-1z"/>
<path fill="#32060b" d="M31 34h1v1h-1z"/>
<path fill="#290610" d="M32 34h1v1h-1z"/>
<path fill="#2b0b11" d="M33 34h1v1h-1z"/>
<path fill="#081f10" d="M35 34h1v1h-1z"/>
<path fill="#0d0c08" d="M36 34h1v1h-1z"/>
<path fill="#200f11" d="M37 34h1v1h-1z"/>
<path fill="#0a1615" d="M38 34h1v1h-1z"/>
<path fill="#1d2124" d="M39 34h1v1h-1z"/>
<path fill="#112e26" d="M40 34h1v1h-1z"/>
<path fill="#17464a" d="M41 34h1v1h-1z"/>
<path fill="#19614a" d="M42 34h1v1h-1z"/>
<path fill="#207760" d="M43 34h1v1h-1z"/>
<path fill="#248b6e" d="M44 34h1v1h-1z"/>
<path fill="#22070f" d="M0 35h1v1h-1z"/>
<path fill="#071b0c" d="M1 35h1v1h-1z"/>
<path fill="#06080b" d="M3 35h1v1h-1z"/>
<path fill="#2c0710" d="M9 35h1v1h-1z"/>
<path fill="#230508" d="M10 35h1v1h-1z"/>
<path fill="#0a080e" d="M12 35h1v1h-1z"/>
<path fill="#070b1f" d="M14 35h1v1h-1z"/>
<path fill="#090a0f" d="M15 35h1v1h-1z"/>
<path fill="#06090a" d="M16 35h1v1h-1z"/>
<path fill="#0a0909" d="M17 35h1v1h-1z"/>
<path fill="#0c0d0c" d="M18 35h1v1h-1z"/>
<path fill="#0e1d15" d="M19 35h1v1h-1z"/>
<path fill="#0b0b10" d="M20 35h1v1h-1z"/>
<path fill="#090a1a" d="M21 35h1v1h-1z"/>
<path fill="#090a22" d="M22 35h1v1h-1z"/>
<path fill="#050b08" d="M23 35h1v1h-1z"/>
<path fill="#080d1d" d="M24 35h1v1h-1z"/>
<path fill="#030708" d="M25 35h1v1h-1z"/>
<path fill="#030906" d="M26 35h1v1h-1z"/>
<path fill="#0a0508" d="M28 35h1v1h-1z"/>
<path fill="#03060d" d="M30 35h1v1h-1z"/>
<path fill="#09060d" d="M31 35h1v1h-1z"/>
<path fill="#240911" d="M33 35h1v1h-1z"/>
<path fill="#2c0e16" d="M37 35h1v1h-1z"/>
<path fill="#0b1117" d="M38 35h1v1h-1z"/>
<path fill="#11201b" d="M39 35h1v1h-1z"/>
<path fill="#0e2f27" d="M40 35h1v1h-1z"/>
<path fill="#26433d" d="M41 35h1v1h-1z"/>
<path fill="#185d4b" d="M42 35h1v1h-1z"/>
<path fill="#1e745a" d="M43 35h1v1h-1z"/>
<path fill="#23866a" d="M44 35h1v1h-1z"/>
<path fill="#080404" d="M0 36h1v1h-1zM13 44h1v1h-1z"/>
<path fill="#090405" d="M3 36h1v1h-1z"/>
<path fill="#08190c" d="M5 36h1v1h-1z"/>
<path fill="#0b020c" d="M7 36h1v1h-1z"/>
<path fill="#0b080c" d="M8 36h1v1h-1z"/>
<path fill="#0a080d" d="M9 36h1v1h-1z"/>
<path fill="#040807" d="M10 36h1v1h-1zM7 42h1v1h-1z"/>
<path fill="#0a0615" d="M12 36h1v1h-1z"/>
<path fill="#200509" d="M13 36h1v1h-1z"/>
<path fill="#0a060a" d="M14 36h1v1h-1z"/>
<path fill="#0e1d13" d="M16 36h1v1h-1z"/>
<path fill="#0f1f10" d="M17 36h1v1h-1z"/>
<path fill="#180c0b" d="M18 36h1v1h-1z"/>
<path fill="#180d0f" d="M20 36h1v1h-1z"/>
<path fill="#050d20" d="M21 36h1v1h-1z"/>
<path fill="#0c1111" d="M26 36h1v1h-1z"/>
<path fill="#330707" d="M27 36h1v1h-1z"/>
<path fill="#0b170d" d="M28 36h1v1h-1z"/>
<path fill="#05040b" d="M29 36h1v1h-1zM3 42h1v1h-1z"/>
<path fill="#0b0508" d="M30 36h1v1h-1z"/>
<path fill="#26080b" d="M31 36h1v1h-1z"/>
<path fill="#060c0d" d="M37 36h1v1h-1z"/>
<path fill="#0e192b" d="M38 36h1v1h-1z"/>
<path fill="#28211f" d="M39 36h1v1h-1z"/>
<path fill="#102a23" d="M40 36h1v1h-1z"/>
<path fill="#134136" d="M41 36h1v1h-1z"/>
<path fill="#1a5544" d="M42 36h1v1h-1z"/>
<path fill="#206e5f" d="M43 36h1v1h-1z"/>
<path fill="#227e65" d="M44 36h1v1h-1z"/>
<path fill="#05060c" d="M1 37h1v1h-1zM34 40h1v1h-1z"/>
<path fill="#06091f" d="M2 37h1v1h-1z"/>
<path fill="#070522" d="M4 37h1v1h-1z"/>
<path fill="#0b070c" d="M5 37h1v1h-1zM36 42h1v1h-1z"/>
<path fill="#040806" d="M7 37h1v1h-1z"/>
<path fill="#04060b" d="M9 37h1v1h-1z"/>
<path fill="#2b050e" d="M10 37h1v1h-1z"/>
<path fill="#09080b" d="M11 37h1v1h-1z"/>
<path fill="#2a060b" d="M12 37h1v1h-1z"/>
<path fill="#05060d" d="M15 37h1v1h-1zM6 44h1v1h-1z"/>
<path fill="#0b0706" d="M16 37h1v1h-1zM8 38h1v1h-1z"/>
<path fill="#101512" d="M17 37h1v1h-1z"/>
<path fill="#07190c" d="M18 37h1v1h-1z"/>
<path fill="#0b070b" d="M19 37h1v1h-1z"/>
<path fill="#0a0626" d="M20 37h1v1h-1z"/>
<path fill="#0b0613" d="M23 37h1v1h-1zM32 38h1v1h-1z"/>
<path fill="#0b0607" d="M24 37h1v1h-1zM19 40h1v1h-1z"/>
<path fill="#2f0510" d="M25 37h1v1h-1z"/>
<path fill="#0b1008" d="M26 37h1v1h-1z"/>
<path fill="#040917" d="M27 37h1v1h-1z"/>
<path fill="#060926" d="M29 37h1v1h-1z"/>
<path fill="#0a0204" d="M31 37h1v1h-1z"/>
<path fill="#0b0606" d="M32 37h1v1h-1z"/>
<path fill="#220c06" d="M34 37h1v1h-1z"/>
<path fill="#091d0d" d="M35 37h1v1h-1z"/>
<path fill="#07080c" d="M36 37h1v1h-1z"/>
<path fill="#0c0d0a" d="M37 37h1v1h-1z"/>
<path fill="#1e1712" d="M38 37h1v1h-1z"/>
<path fill="#301f1c" d="M39 37h1v1h-1z"/>
<path fill="#212b28" d="M40 37h1v1h-1z"/>
<path fill="#2a4030" d="M41 37h1v1h-1z"/>
<path fill="#185141" d="M42 37h1v1h-1z"/>
<path fill="#1b6c52" d="M43 37h1v1h-1z"/>
<path fill="#30765f" d="M44 37h1v1h-1z"/>
<path fill="#33060e" d="M1 38h1v1h-1z"/>
<path fill="#1b0a0a" d="M6 38h1v1h-1z"/>
<path fill="#0c060c" d="M7 38h1v1h-1z"/>
<path fill="#2c070c" d="M9 38h1v1h-1z"/>
<path fill="#121b0b" d="M10 38h1v1h-1z"/>
<path fill="#05080a" d="M11 38h1v1h-1z"/>
<path fill="#060204" d="M14 38h1v1h-1z"/>
<path fill="#1c0a0a" d="M16 38h1v1h-1z"/>
<path fill="#040519" d="M17 38h1v1h-1z"/>
<path fill="#070505" d="M18 38h1v1h-1z"/>
<path fill="#0c0b1c" d="M19 38h1v1h-1z"/>
<path fill="#0c090e" d="M20 38h1v1h-1z"/>
<path fill="#090b28" d="M22 38h1v1h-1z"/>
<path fill="#061310" d="M23 38h1v1h-1z"/>
<path fill="#32050c" d="M24 38h1v1h-1z"/>
<path fill="#111e0d" d="M27 38h1v1h-1z"/>
<path fill="#2f0c0e" d="M29 38h1v1h-1z"/>
<path fill="#06020a" d="M33 38h1v1h-1z"/>
<path fill="#08091e" d="M34 38h1v1h-1z"/>
<path fill="#0a090e" d="M36 38h1v1h-1z"/>
<path fill="#040a09" d="M37 38h1v1h-1z"/>
<path fill="#081210" d="M38 38h1v1h-1z"/>
<path fill="#0d1c1c" d="M39 38h1v1h-1z"/>
<path fill="#0d271e" d="M40 38h1v1h-1z"/>
<path fill="#1f3630" d="M41 38h1v1h-1z"/>
<path fill="#15473a" d="M42 38h1v1h-1z"/>
<path fill="#195b48" d="M43 38h1v1h-1z"/>
<path fill="#206f59" d="M44 38h1v1h-1z"/>
<path fill="#060721" d="M0 39h1v1h-1z"/>
<path fill="#080806" d="M3 39h1v1h-1z"/>
<path fill="#080915" d="M4 39h1v1h-1z"/>
<path fill="#2f060f" d="M5 39h1v1h-1z"/>
<path fill="#080b18" d="M6 39h1v1h-1z"/>
<path fill="#05030c" d="M7 39h1v1h-1z"/>
<path fill="#20080c" d="M8 39h1v1h-1z"/>
<path fill="#33060c" d="M9 39h1v1h-1z"/>
<path fill="#0c081a" d="M12 39h1v1h-1z"/>
<path fill="#090605" d="M13 39h1v1h-1zM24 43h1v1h-1z"/>
<path fill="#08060b" d="M15 39h1v1h-1z"/>
<path fill="#080609" d="M16 39h1v1h-1z"/>
<path fill="#060804" d="M20 39h1v1h-1z"/>
<path fill="#0b0209" d="M21 39h1v1h-1z"/>
<path fill="#0b0b26" d="M22 39h1v1h-1z"/>
<path fill="#040207" d="M23 39h1v1h-1z"/>
<path fill="#050c24" d="M26 39h1v1h-1z"/>
<path fill="#070420" d="M28 39h1v1h-1z"/>
<path fill="#050206" d="M30 39h1v1h-1z"/>
<path fill="#0a0517" d="M32 39h1v1h-1z"/>
<path fill="#10140c" d="M34 39h1v1h-1z"/>
<path fill="#08081f" d="M35 39h1v1h-1z"/>
<path fill="#050c09" d="M37 39h1v1h-1z"/>
<path fill="#2f1210" d="M38 39h1v1h-1z"/>
<path fill="#133222" d="M40 39h1v1h-1z"/>
<path fill="#32312a" d="M41 39h1v1h-1z"/>
<path fill="#144336" d="M42 39h1v1h-1z"/>
<path fill="#175c43" d="M43 39h1v1h-1z"/>
<path fill="#2e604f" d="M44 39h1v1h-1z"/>
<path fill="#0b0306" d="M0 40h1v1h-1z"/>
<path fill="#0a050d" d="M1 40h1v1h-1z"/>
<path fill="#070307" d="M2 40h1v1h-1z"/>
<path fill="#070c1f" d="M3 40h1v1h-1z"/>
<path fill="#0d190a" d="M5 40h1v1h-1z"/>
<path fill="#05060a" d="M7 40h1v1h-1z"/>
<path fill="#1b050f" d="M8 40h1v1h-1z"/>
<path fill="#040626" d="M9 40h1v1h-1z"/>
<path fill="#070806" d="M10 40h1v1h-1z"/>
<path fill="#0b0723" d="M12 40h1v1h-1z"/>
<path fill="#050520" d="M14 40h1v1h-1z"/>
<path fill="#030306" d="M15 40h1v1h-1z"/>
<path fill="#03020c" d="M16 40h1v1h-1z"/>
<path fill="#08020c" d="M20 40h1v1h-1z"/>
<path fill="#2a080f" d="M27 40h1v1h-1z"/>
<path fill="#06070c" d="M29 40h1v1h-1z"/>
<path fill="#240610" d="M30 40h1v1h-1z"/>
<path fill="#290509" d="M32 40h1v1h-1z"/>
<path fill="#040305" d="M33 40h1v1h-1z"/>
<path fill="#030909" d="M35 40h1v1h-1z"/>
<path fill="#061b0e" d="M36 40h1v1h-1z"/>
<path fill="#101f16" d="M37 40h1v1h-1z"/>
<path fill="#0d1111" d="M38 40h1v1h-1z"/>
<path fill="#0d1215" d="M39 40h1v1h-1z"/>
<path fill="#0b1d1a" d="M40 40h1v1h-1z"/>
<path fill="#102827" d="M41 40h1v1h-1z"/>
<path fill="#143e3c" d="M42 40h1v1h-1z"/>
<path fill="#14483d" d="M43 40h1v1h-1z"/>
<path fill="#185548" d="M44 40h1v1h-1z"/>
<path fill="#060b17" d="M0 41h1v1h-1z"/>
<path fill="#030405" d="M2 41h1v1h-1zM16 44h1v1h-1z"/>
<path fill="#090b1a" d="M3 41h1v1h-1z"/>
<path fill="#1e0c09" d="M6 41h1v1h-1z"/>
<path fill="#09091b" d="M9 41h1v1h-1z"/>
<path fill="#050728" d="M10 41h1v1h-1z"/>
<path fill="#0c020b" d="M11 41h1v1h-1z"/>
<path fill="#090309" d="M12 41h1v1h-1z"/>
<path fill="#121911" d="M13 41h1v1h-1z"/>
<path fill="#070207" d="M15 41h1v1h-1z"/>
<path fill="#121f13" d="M17 41h1v1h-1z"/>
<path fill="#10110b" d="M20 41h1v1h-1z"/>
<path fill="#040709" d="M21 41h1v1h-1z"/>
<path fill="#0f1d0d" d="M22 41h1v1h-1z"/>
<path fill="#101c09" d="M23 41h1v1h-1z"/>
<path fill="#030504" d="M24 41h1v1h-1z"/>
<path fill="#11160e" d="M25 41h1v1h-1z"/>
<path fill="#0a020a" d="M26 41h1v1h-1z"/>
<path fill="#0c0716" d="M27 41h1v1h-1z"/>
<path fill="#230608" d="M28 41h1v1h-1z"/>
<path fill="#090204" d="M29 41h1v1h-1z"/>
<path fill="#08041e" d="M31 41h1v1h-1z"/>
<path fill="#121410" d="M32 41h1v1h-1z"/>
<path fill="#050805" d="M34 41h1v1h-1z"/>
<path fill="#0e150d" d="M35 41h1v1h-1z"/>
<path fill="#1b0911" d="M37 41h1v1h-1z"/>
<path fill="#2f100e" d="M38 41h1v1h-1z"/>
<path fill="#0b1511" d="M39 41h1v1h-1z"/>
<path fill="#0e1915" d="M40 41h1v1h-1z"/>
<path fill="#122520" d="M41 41h1v1h-1z"/>
<path fill="#0e3028" d="M42 41h1v1h-1z"/>
<path fill="#153b34" d="M43 41h1v1h-1z"/>
<path fill="#174837" d="M44 41h1v1h-1z"/>
<path fill="#1c040a" d="M2 42h1v1h-1z"/>
<path fill="#260b0f" d="M6 42h1v1h-1z"/>
<path fill="#0b071d" d="M9 42h1v1h-1z"/>
<path fill="#35050e" d="M12 42h1v1h-1z"/>
<path fill="#300c07" d="M13 42h1v1h-1z"/>
<path fill="#080525" d="M14 42h1v1h-1z"/>
<path fill="#26090c" d="M15 42h1v1h-1z"/>
<path fill="#060208" d="M16 42h1v1h-1z"/>
<path fill="#280707" d="M18 42h1v1h-1z"/>
<path fill="#0d2013" d="M21 42h1v1h-1z"/>
<path fill="#060808" d="M26 42h1v1h-1z"/>
<path fill="#0b0623" d="M28 42h1v1h-1z"/>
<path fill="#230806" d="M29 42h1v1h-1z"/>
<path fill="#050412" d="M31 42h1v1h-1z"/>
<path fill="#0c0807" d="M33 42h1v1h-1z"/>
<path fill="#2a0914" d="M37 42h1v1h-1z"/>
<path fill="#0d0b11" d="M38 42h1v1h-1z"/>
<path fill="#0e1015" d="M39 42h1v1h-1z"/>
<path fill="#0c1d1d" d="M41 42h1v1h-1z"/>
<path fill="#0e2a26" d="M42 42h1v1h-1z"/>
<path fill="#10432d" d="M43 42h1v1h-1z"/>
<path fill="#103b31" d="M44 42h1v1h-1z"/>
<path fill="#030404" d="M0 43h1v1h-1z"/>
<path fill="#0c030d" d="M2 43h1v1h-1z"/>
<path fill="#030506" d="M3 43h1v1h-1z"/>
<path fill="#030508" d="M9 43h1v1h-1z"/>
<path fill="#220c12" d="M10 43h1v1h-1z"/>
<path fill="#040505" d="M13 43h1v1h-1z"/>
<path fill="#080405" d="M16 43h1v1h-1z"/>
<path fill="#0a0916" d="M17 43h1v1h-1z"/>
<path fill="#111a0d" d="M18 43h1v1h-1z"/>
<path fill="#050404" d="M19 43h1v1h-1z"/>
<path fill="#06060d" d="M20 43h1v1h-1z"/>
<path fill="#040804" d="M22 43h1v1h-1zM29 43h1v1h-1z"/>
<path fill="#290a0d" d="M27 43h1v1h-1z"/>
<path fill="#101b0d" d="M28 43h1v1h-1z"/>
<path fill="#04050a" d="M31 43h1v1h-1z"/>
<path fill="#250711" d="M32 43h1v1h-1z"/>
<path fill="#080207" d="M33 43h1v1h-1z"/>
<path fill="#04040b" d="M34 43h1v1h-1z"/>
<path fill="#070d27" d="M36 43h1v1h-1z"/>
<path fill="#0a0b10" d="M38 43h1v1h-1z"/>
<path fill="#081214" d="M40 43h1v1h-1z"/>
<path fill="#081918" d="M41 43h1v1h-1z"/>
<path fill="#12231d" d="M42 43h1v1h-1zM43 44h1v1h-1z"/>
<path fill="#122a26" d="M43 43h1v1h-1z"/>
<path fill="#25352a" d="M44 43h1v1h-1z"/>
<path fill="#210811" d="M1 44h1v1h-1z"/>
<path fill="#0f1411" d="M3 44h1v1h-1z"/>
<path fill="#081c12" d="M7 44h1v1h-1z"/>
<path fill="#0a100c" d="M8 44h1v1h-1z"/>
<path fill="#070607" d="M10 44h1v1h-1z"/>
<path fill="#1d060c" d="M11 44h1v1h-1z"/>
<path fill="#0a0b28" d="M17 44h1v1h-1z"/>
<path fill="#0d1314" d="M18 44h1v1h-1z"/>
<path fill="#0a1c11" d="M20 44h1v1h-1z"/>
<path fill="#07060b" d="M21 44h1v1h-1z"/>
<path fill="#350c10" d="M23 44h1v1h-1z"/>
<path fill="#0a0807" d="M24 44h1v1h-1z"/>
<path fill="#070504" d="M25 44h1v1h-1z"/>
<path fill="#1c0909" d="M26 44h1v1h-1z"/>
<path fill="#071f09" d="M28 44h1v1h-1z"/>
<path fill="#09040a" d="M29 44h1v1h-1z"/>
<path fill="#0b0423" d="M33 44h1v1h-1z"/>
<path fill="#220909" d="M34 44h1v1h-1z"/>
<path fill="#0b061a" d="M35 44h1v1h-1z"/>
<path fill="#091709" d="M36 44h1v1h-1z"/>
<path fill="#1a070f" d="M37 44h1v1h-1z"/>
<path fill="#0b0f0c" d="M39 44h1v1h-1z"/>
<path fill="#092311" d="M40 44h1v1h-1z"/>
<path fill="#12251c" d="M41 44h1v1h-1z"/>
<path fill="#0d1d18" d="M42 44h1v1h-1z"/>
<path fill="#212925" d="M44 44h1v1h-1z"/>
</g>
</g></g>
<defs><clipPath id="c1"><rect x="948.3" y="63.3" width="310.4" height="310.2"/></clipPath><clipPath id="c2"><rect x="948.4" y="408.4" width="310.3" height="311.2"/></clipPath></defs>
<g clip-path="url(#c1)">
<path d="M1172 63.3L994.6 373.5" stroke="#000" stroke-width="4" stroke-opacity="0.5"/><path d="M1172 63.3L994.6 373.5" stroke="#f2c384" stroke-width="2.2"/>
<path d="M1215.5 63.3L1040.5 373.5" stroke="#000" stroke-width="4" stroke-opacity="0.5"/><path d="M1215.5 63.3L1040.5 373.5" stroke="#f2c384" stroke-width="2.2"/>
</g><g clip-path="url(#c2)">
<path d="M1155.4 408.4L1012 719.6" stroke="#000" stroke-width="4" stroke-opacity="0.5"/><path d="M1155.4 408.4L1012 719.6" stroke="#f0d488" stroke-width="2.2"/>
<path d="M1198.7 408.4L1055.2 719.6" stroke="#000" stroke-width="4" stroke-opacity="0.5"/><path d="M1198.7 408.4L1055.2 719.6" stroke="#f0d488" stroke-width="2.2"/>
</g>
<path d="M1106.5 193.7h25.4M1119.2 181.0v25.4" stroke="#d42020" stroke-width="2"/><circle cx="1119.2" cy="193.7" r="2.2" fill="#d42020"/>
<path d="M1082 250h26M1095 237v26" stroke="#12127a" stroke-width="2"/><circle cx="1095" cy="250" r="2.2" fill="#12127a"/>
<path d="M1105.0 547.4h26.8M1118.4 534.0v26.8" stroke="#d42020" stroke-width="2"/><circle cx="1118.4" cy="547.4" r="2.2" fill="#d42020"/>
<path d="M1082.4 588.1h27.2M1096 574.5v27.2" stroke="#1a1a8a" stroke-width="2"/><circle cx="1096" cy="588.1" r="2.2" fill="#1a1a8a"/>
<text x="1155" y="204.7" class="sf" style="font-size:36px;fill:#e02a2a;stroke:#e02a2a;stroke-width:0.8px" textLength="22.4" lengthAdjust="spacingAndGlyphs">B</text>
<text x="1129" y="260" class="sf" style="font-size:36px;fill:#5cb4ee;stroke:#5cb4ee;stroke-width:0.8px" textLength="26.5" lengthAdjust="spacingAndGlyphs">A</text>
<text x="1154.5" y="557.2" class="sf" style="font-size:36px;fill:#e02a2a;stroke:#e02a2a;stroke-width:0.8px" textLength="23" lengthAdjust="spacingAndGlyphs">B</text>
<text x="1129.4" y="598.1" class="sf" style="font-size:36px;fill:#5cb4ee;stroke:#5cb4ee;stroke-width:0.8px" textLength="25.7" lengthAdjust="spacingAndGlyphs">A</text>
<text x="998.5" y="98.6" class="it" style="font-size:27px" textLength="214.3" lengthAdjust="spacingAndGlyphs">DESI J1759+3459</text>
<text x="1000.7" y="444.2" class="it" style="font-size:27px" textLength="212.1" lengthAdjust="spacingAndGlyphs">DESI J1929+6009</text>
<text x="1134.8" y="360.6" class="sf" style="font-size:19.5px" textLength="114.8" lengthAdjust="spacingAndGlyphs">SepAB: 2.29″</text>
<text x="1133.3" y="709" class="sf" style="font-size:19.5px" textLength="121.5" lengthAdjust="spacingAndGlyphs">SepAB: 1.76″</text>
<text x="982.5" y="358.8" style="font-family:'Liberation Sans',sans-serif;font-size:18.5px;fill:#fff" textLength="18" lengthAdjust="spacingAndGlyphs">2<tspan font-style="italic">″</tspan></text>
<text x="982.5" y="705" style="font-family:'Liberation Sans',sans-serif;font-size:18.5px;fill:#fff" textLength="18" lengthAdjust="spacingAndGlyphs">2<tspan font-style="italic">″</tspan></text>
<path d="M964 364.8H1018M964 710.8H1016.5" stroke="#fff" stroke-width="2.3"/>
</svg>
</body></html>
